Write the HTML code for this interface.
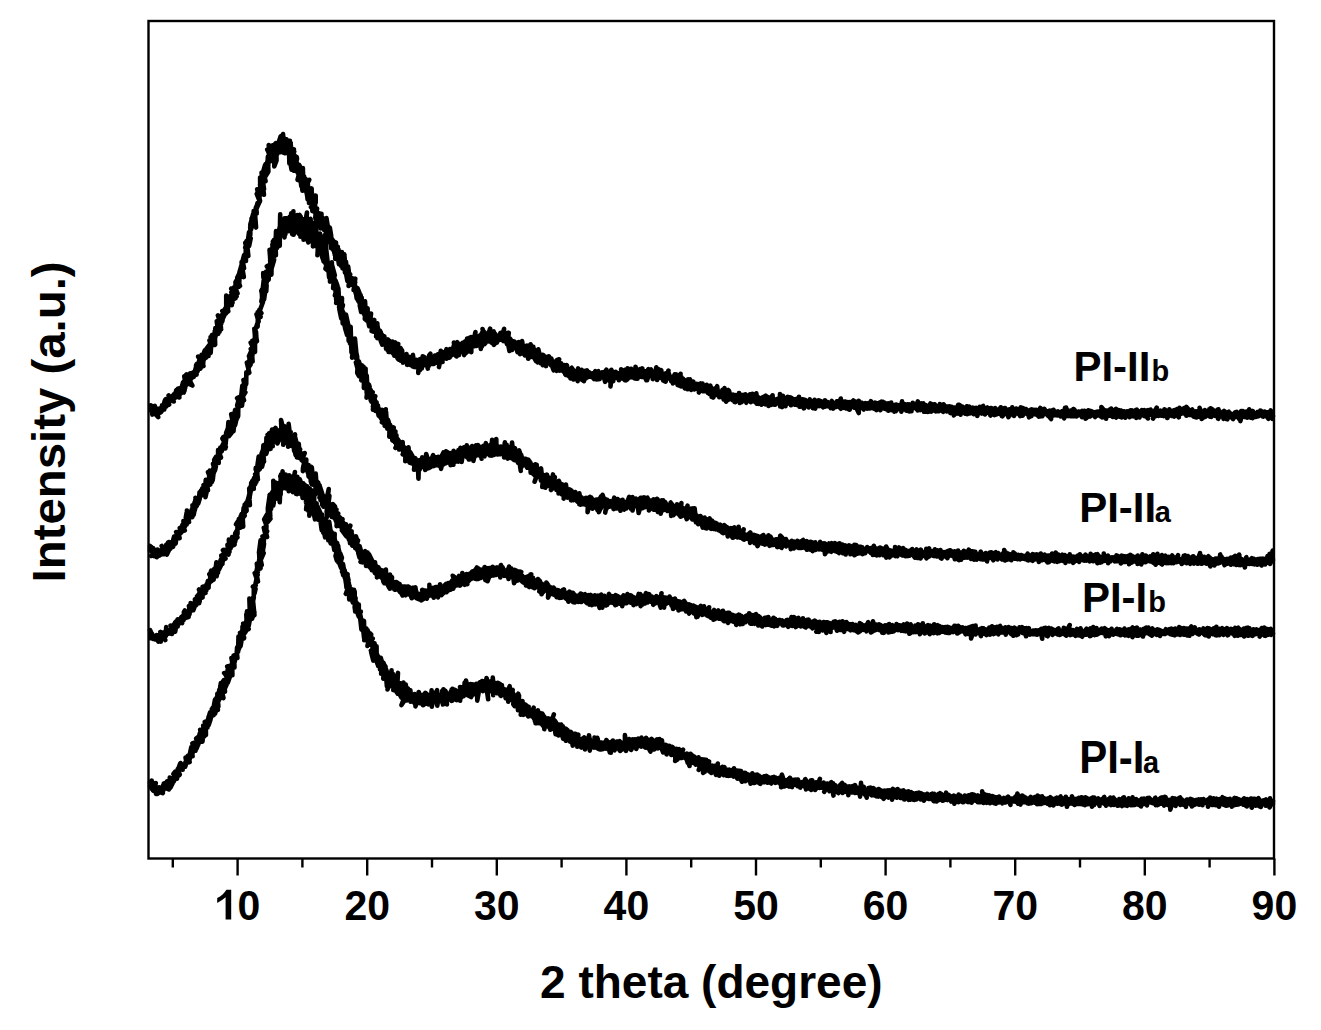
<!DOCTYPE html>
<html><head><meta charset="utf-8"><style>
html,body{margin:0;padding:0;background:#fff;}
body{width:1321px;height:1030px;overflow:hidden;position:relative;}
svg{position:absolute;left:0;top:0;}
text{font-family:"Liberation Sans",sans-serif;font-weight:bold;fill:#000;}
</style></head><body>
<svg width="1321" height="1030" viewBox="0 0 1321 1030">
<g fill="none" stroke="#000" stroke-width="4.6" stroke-linejoin="round" stroke-linecap="butt"><path d="M151.84 404.1 151.46 410.2 150.68 405.9 151.57 407.5 151.77 408.1 151.66 407.0 154.84 405.9 150.91 410.4 150.53 410.0 150.83 405.4 152.37 414.6 152.86 411.9 153.99 408.5 154.61 412.1 153.98 409.4 154.12 410.4 153.08 412.4 155.65 408.2 156.35 412.2 154.82 414.0 156.07 413.9 154.70 410.7 155.69 413.2 156.09 408.1 157.25 411.2 154.73 412.5 156.79 408.9 158.03 411.5 157.62 415.2 158.25 417.1 154.72 413.3 156.91 413.4 157.68 409.7 157.52 409.1 155.87 408.6 160.19 412.6 159.45 412.9 157.07 409.9 159.05 408.6 159.92 411.5 161.27 411.5 161.17 410.4 159.40 413.1 160.08 410.1 161.38 409.9 162.54 407.5 161.07 409.9 161.09 412.2 162.79 409.2 162.51 409.0 164.23 409.5 163.42 408.9 164.28 409.1 160.97 408.9 161.95 408.8 161.98 405.4 163.24 407.5 164.73 403.0 164.22 406.8 165.41 403.2 164.13 405.5 166.46 406.3 166.56 404.1 163.70 404.9 164.74 400.7 165.53 402.1 167.50 405.3 167.70 400.9 169.17 404.6 165.44 399.7 167.77 400.5 167.73 399.8 167.66 402.0 168.08 403.0 165.99 399.1 169.09 400.8 168.47 404.7 167.71 400.0 171.18 398.6 168.89 401.2 170.25 399.5 169.38 398.2 168.59 395.4 170.16 401.3 171.35 397.8 170.00 398.9 172.08 396.1 173.78 401.5 173.42 399.9 171.85 400.2 171.52 397.4 173.85 398.6 171.30 399.3 171.98 399.4 175.59 397.5 174.22 396.4 174.61 395.4 173.92 394.2 177.98 393.4 178.60 396.4 174.87 394.7 176.32 390.2 175.23 394.4 176.39 397.1 177.72 393.6 177.91 389.5 176.31 393.5 177.35 395.5 180.57 393.8 178.54 392.0 179.38 397.4 178.58 397.2 178.01 392.0 177.04 394.0 177.44 392.7 176.84 393.4 177.80 394.8 178.30 393.0 180.52 390.9 177.84 388.7 180.63 388.0 177.97 389.7 183.81 392.5 180.16 390.0 181.31 389.1 183.52 389.3 181.38 388.5 181.99 389.5 182.30 384.9 183.06 382.4 182.01 386.1 185.02 383.9 184.53 390.8 183.55 385.9 185.12 385.4 183.75 381.7 183.48 386.1 184.25 383.5 185.20 387.7 182.98 386.7 184.72 382.1 185.92 385.0 184.27 376.3 186.27 381.4 184.76 386.2 186.61 384.7 186.52 382.8 187.28 381.9 186.21 377.8 184.93 377.7 184.41 381.6 192.43 385.5 186.29 374.5 187.27 381.8 186.55 381.4 190.54 382.0 189.97 376.7 190.39 377.3 188.18 378.5 191.09 375.3 189.14 374.4 191.86 375.0 190.47 376.9 187.99 377.8 190.94 376.4 190.24 376.3 194.56 373.8 190.18 373.4 191.69 378.2 191.96 374.6 191.51 374.1 191.90 376.7 192.98 377.2 193.73 376.9 193.01 374.1 193.46 372.5 194.04 373.1 193.11 372.4 194.24 375.6 194.82 372.0 196.30 372.7 196.12 370.4 196.14 374.1 196.91 363.8 195.06 370.5 197.67 371.2 196.06 365.3 196.59 374.6 196.51 367.5 198.08 367.1 196.72 364.0 198.48 369.4 197.58 367.1 197.64 364.3 198.99 366.4 197.70 367.4 200.47 368.6 198.36 365.2 198.90 361.3 201.21 362.2 198.17 356.6 201.34 360.9 200.56 364.9 200.84 363.8 201.22 361.6 200.11 360.6 203.50 366.0 202.38 361.7 202.77 363.2 203.21 361.3 203.66 357.6 203.10 364.1 201.81 355.1 201.63 354.8 201.79 356.8 203.15 355.5 205.18 355.6 202.60 355.1 204.02 359.6 205.42 356.3 204.52 356.8 204.86 350.3 204.12 352.2 205.88 357.9 205.21 350.3 205.32 357.4 205.93 349.9 207.12 353.7 208.10 349.6 205.76 352.5 208.01 348.5 206.32 350.1 205.64 355.9 207.35 348.8 208.48 356.1 208.59 347.6 209.37 344.8 206.70 348.3 211.11 346.2 210.67 352.8 210.73 349.3 208.22 349.9 210.97 347.5 210.06 353.1 210.33 347.0 211.19 345.6 209.48 340.5 212.99 339.7 213.17 342.7 213.16 344.9 214.14 344.7 210.62 337.2 212.58 341.6 212.78 339.9 211.93 334.9 214.68 339.8 217.05 329.8 212.92 337.8 215.15 344.8 214.80 332.2 215.15 335.2 215.34 328.0 216.30 331.4 214.95 336.0 215.48 329.2 218.22 332.1 216.48 330.5 216.71 329.8 214.84 331.2 217.79 331.7 218.21 333.8 218.05 331.8 219.87 326.3 215.81 332.8 219.54 331.7 216.74 321.1 217.68 328.5 216.79 328.6 220.43 328.5 219.53 326.5 219.40 319.3 220.21 322.5 217.87 315.4 219.91 321.8 221.14 329.2 220.43 323.8 221.32 323.8 219.73 318.3 222.09 315.9 221.77 315.2 222.64 319.0 224.52 315.1 222.97 315.1 222.39 321.2 223.84 310.3 222.27 311.0 225.85 313.4 224.12 314.4 224.38 313.7 225.20 308.4 223.33 313.8 225.08 312.1 225.07 313.3 228.18 307.4 227.58 311.8 228.30 311.2 226.39 307.2 226.77 308.4 228.11 306.5 226.26 313.2 226.22 295.5 229.47 301.3 228.41 299.8 228.65 304.3 226.26 302.6 228.06 303.0 228.26 306.8 228.22 297.1 229.72 299.6 228.46 301.4 228.40 297.0 232.43 302.6 230.91 301.9 229.34 297.2 233.40 292.5 231.78 305.1 231.78 300.1 228.35 299.3 233.67 297.4 232.34 296.4 233.88 299.2 234.73 295.2 231.36 292.2 235.42 296.9 234.44 293.7 233.82 289.8 231.18 288.6 236.57 296.3 234.85 293.5 235.45 298.3 233.53 287.6 235.95 286.1 236.16 290.1 237.52 293.4 234.85 289.5 233.59 288.2 235.72 293.5 235.50 282.0 237.28 279.3 237.01 280.6 237.70 281.7 239.24 283.9 239.99 285.9 238.27 282.6 236.54 286.6 238.68 276.1 238.69 286.9 239.08 274.8 239.25 282.4 239.64 272.8 237.27 277.5 240.82 275.5 241.01 276.8 241.05 277.0 240.75 272.2 242.22 272.0 239.35 272.6 241.50 265.2 242.57 266.8 241.57 262.1 242.28 268.3 243.82 277.1 242.65 269.8 242.05 262.0 242.78 261.7 244.04 268.2 242.60 260.9 244.11 255.0 243.87 256.5 244.67 255.4 245.75 254.5 245.98 260.9 245.43 257.0 245.87 248.8 246.79 251.7 245.18 247.5 246.54 245.7 245.24 242.8 248.34 256.0 247.23 245.1 245.83 247.5 247.04 247.3 248.76 239.9 248.45 242.6 246.40 241.2 250.71 238.2 249.15 245.9 249.58 235.8 249.02 232.1 248.67 235.1 248.10 239.4 250.32 234.7 250.37 226.9 250.34 224.2 251.79 223.1 251.53 223.6 250.18 227.8 251.16 229.3 253.23 213.7 250.51 223.9 254.94 218.0 252.01 226.0 255.97 226.5 253.69 217.7 251.52 218.6 254.21 215.6 254.03 221.4 253.67 211.0 254.49 212.6 254.74 214.0 251.06 222.6 256.06 227.5 255.09 215.0 255.71 207.9 256.78 213.4 256.18 207.6 254.98 213.0 257.66 203.9 256.55 206.1 257.47 206.4 256.58 207.5 257.50 203.0 256.76 208.1 260.06 200.7 257.18 189.3 259.84 201.6 256.71 193.9 259.50 190.5 259.11 200.2 260.87 186.1 260.22 190.4 262.90 185.2 263.94 194.8 260.05 184.9 261.78 187.0 260.08 177.6 260.30 191.4 261.64 177.4 263.02 186.8 262.99 187.0 262.25 186.8 264.05 189.0 261.57 172.5 262.14 179.9 263.38 177.7 261.56 178.4 265.58 181.1 264.07 175.1 264.08 169.4 265.26 172.3 263.38 180.2 265.10 164.9 263.46 170.7 265.55 164.1 266.14 174.4 268.15 158.7 266.51 164.8 268.37 165.1 266.99 165.5 265.32 176.7 268.40 171.5 267.84 156.7 267.31 173.1 269.36 154.1 267.24 149.6 268.29 150.9 269.84 159.4 270.26 160.6 268.71 145.0 270.11 158.9 270.09 154.5 270.99 159.4 270.22 153.0 268.21 159.5 270.55 157.2 273.05 147.3 270.49 161.2 271.50 154.0 272.98 156.5 271.97 159.0 271.20 146.3 272.71 150.9 272.76 146.4 272.20 145.4 273.30 151.8 272.08 151.9 272.12 157.0 272.89 157.1 274.27 149.0 274.75 144.3 274.27 166.4 276.55 160.4 276.21 147.7 275.81 143.0 277.36 145.7 278.03 149.4 277.35 154.0 276.08 153.0 278.03 149.9 278.68 146.0 278.02 148.2 277.63 145.4 278.35 147.4 278.67 146.3 276.33 149.7 280.66 136.3 279.08 144.7 281.65 144.9 279.61 140.2 278.81 145.4 281.02 140.4 280.38 142.5 281.59 144.6 280.26 144.7 280.48 142.9 280.46 152.2 280.70 147.1 282.28 147.8 280.51 147.3 282.48 142.3 283.82 141.1 281.62 150.7 282.74 144.2 282.33 136.3 283.04 134.0 283.92 147.6 284.83 142.3 285.31 146.2 283.70 143.6 285.55 144.5 284.25 146.0 283.86 140.1 284.33 147.1 283.41 152.8 286.03 151.4 284.03 138.1 286.71 140.5 289.89 140.7 285.87 146.9 284.72 153.2 287.92 150.5 286.47 139.2 287.92 149.4 288.22 153.8 288.75 147.1 291.47 160.3 289.36 146.4 289.55 156.7 289.38 163.5 288.87 143.8 289.25 149.4 288.99 154.8 291.54 169.7 290.57 142.7 291.81 156.1 291.66 155.0 294.20 151.7 291.66 150.0 292.77 152.2 291.56 154.0 293.92 149.3 292.56 165.4 293.10 151.4 291.67 155.7 294.23 155.0 295.81 157.0 295.69 160.3 293.02 156.3 295.64 159.6 293.98 170.8 293.11 167.7 293.84 161.0 297.09 167.9 295.46 159.4 294.63 165.3 296.76 156.9 296.98 159.0 296.47 161.0 297.67 172.9 296.89 168.0 299.07 170.2 298.76 168.6 298.01 170.3 298.76 171.2 299.66 173.5 298.70 170.9 299.70 165.7 299.18 166.9 299.18 178.1 297.52 179.8 298.56 175.8 299.08 164.7 300.60 182.3 303.93 176.3 299.89 174.8 300.74 175.9 299.97 174.4 301.29 186.3 301.73 186.5 303.08 172.7 300.83 177.9 303.35 181.1 303.29 186.9 302.88 168.1 302.00 186.3 302.47 190.8 303.74 181.0 304.92 183.2 304.36 190.5 303.82 186.6 305.32 178.4 303.98 179.9 306.44 181.2 309.27 179.8 305.30 187.8 307.49 185.7 305.33 189.3 306.85 193.3 307.64 199.5 308.71 192.1 307.54 182.0 309.39 199.3 306.48 192.2 308.01 199.4 308.50 191.8 308.87 196.2 308.86 194.6 311.50 195.8 309.05 203.0 310.99 193.8 310.54 198.6 312.75 199.4 310.27 196.9 311.65 188.4 311.73 201.8 307.41 186.3 312.04 193.6 313.06 199.4 313.91 204.4 311.02 207.2 312.32 207.5 314.30 206.9 311.71 202.6 312.35 211.1 314.29 204.2 314.66 211.6 315.70 195.5 315.69 202.4 314.84 204.8 313.57 208.2 314.30 196.9 315.34 213.4 316.05 214.8 315.91 214.4 317.06 208.6 315.44 218.9 316.08 209.7 315.29 217.5 319.54 213.4 317.17 214.2 318.80 214.2 319.40 215.5 318.55 221.7 318.15 223.9 318.02 224.5 318.56 222.6 317.03 222.0 318.73 221.5 320.55 228.4 320.23 218.3 321.14 217.9 321.35 221.7 321.49 213.9 321.02 221.2 321.36 222.5 322.50 218.2 321.19 220.8 320.24 227.3 323.14 223.2 322.42 225.0 323.93 229.9 322.08 222.3 321.12 220.1 323.16 225.7 322.84 228.2 322.69 217.8 325.97 229.9 324.70 225.6 323.19 225.4 322.92 223.5 324.98 227.0 326.07 232.8 325.95 231.0 327.27 232.7 326.50 227.4 326.93 237.0 324.31 235.8 328.41 230.0 326.45 218.1 328.49 231.1 325.74 244.3 326.77 231.4 329.54 227.3 326.87 240.5 328.82 230.1 328.40 235.8 331.22 237.6 329.83 227.7 331.19 235.8 329.83 241.5 328.07 235.1 332.83 240.4 329.93 237.9 330.94 243.6 331.08 248.1 329.47 235.2 332.48 239.7 331.41 243.6 329.99 239.5 330.56 239.3 329.86 242.2 331.90 243.2 332.85 242.0 332.18 247.0 333.53 249.8 333.39 250.0 334.68 250.2 334.31 253.0 334.36 241.9 333.82 248.0 333.62 249.9 334.20 251.9 336.00 242.6 335.21 258.9 337.82 246.8 337.28 252.5 334.90 255.0 337.33 257.1 338.55 249.5 336.51 250.6 339.03 255.2 336.91 256.6 339.96 258.5 338.95 254.7 338.27 252.3 336.77 249.9 338.90 264.1 338.37 250.7 339.98 260.4 338.71 259.0 340.61 261.6 339.71 262.9 341.25 265.2 341.78 259.4 341.25 261.9 341.89 252.1 342.87 261.3 340.64 257.6 342.77 261.4 342.59 268.0 344.49 263.5 342.58 268.3 344.24 263.1 341.24 266.2 345.06 263.2 344.31 254.4 344.52 262.8 345.39 265.3 343.02 267.6 344.53 267.4 345.15 267.3 344.92 272.5 344.92 271.5 346.96 267.6 346.09 273.6 346.00 261.8 346.60 269.6 348.39 270.7 349.30 277.3 348.61 270.0 348.15 266.5 346.17 274.0 347.36 280.9 347.16 273.3 347.40 274.3 350.24 274.3 348.31 275.9 350.96 281.7 349.68 284.9 349.63 279.1 349.80 277.2 348.57 285.9 350.05 279.0 351.83 279.4 351.88 278.1 351.48 278.8 352.37 281.6 351.98 279.9 352.53 283.3 355.21 282.4 352.72 284.8 350.70 281.5 350.49 282.7 352.41 285.0 353.80 284.8 354.99 285.4 354.02 290.3 354.46 281.6 355.28 278.6 353.62 290.0 354.99 286.5 355.70 293.5 355.07 288.2 354.80 284.3 356.69 298.4 357.63 291.7 356.64 288.7 353.96 288.0 356.09 293.9 356.78 289.4 358.07 294.2 357.21 297.8 357.51 288.1 359.46 292.8 360.05 296.7 358.87 301.9 357.69 299.6 357.79 294.6 360.29 302.8 358.82 296.2 359.97 297.5 360.03 300.2 360.68 295.0 361.15 312.0 359.75 305.2 360.47 302.0 361.71 299.5 361.77 297.8 360.35 304.3 364.55 306.2 360.81 302.5 363.99 303.9 361.02 307.4 364.40 305.6 361.34 299.3 364.83 309.6 364.18 308.6 365.18 311.0 363.57 305.9 365.04 301.3 365.26 305.2 365.42 311.7 364.80 319.0 367.36 320.6 363.78 313.4 364.36 307.3 364.70 312.1 368.44 315.6 365.90 316.1 366.33 315.3 366.59 320.4 367.33 312.6 367.65 308.4 367.62 313.7 366.63 313.2 369.22 326.2 368.96 317.7 371.04 313.6 369.97 321.6 369.62 323.5 368.24 320.4 370.32 321.4 371.19 324.9 372.74 323.5 371.45 319.5 372.19 324.6 372.20 326.3 373.70 324.6 373.36 326.9 372.30 326.3 370.73 323.8 374.71 324.6 373.09 327.7 372.27 323.9 371.74 330.5 371.59 331.1 374.30 319.9 374.03 327.3 374.85 325.3 376.20 326.1 374.24 329.3 375.58 328.6 374.84 331.6 374.68 331.1 373.28 331.6 375.28 328.0 377.80 329.9 376.10 336.6 377.35 323.2 377.38 338.2 379.94 330.6 379.51 337.0 377.21 324.3 377.72 332.2 379.88 336.9 379.04 334.8 379.13 338.2 380.68 332.0 380.20 333.4 379.95 333.4 383.70 337.7 380.77 337.9 378.90 336.2 381.18 336.0 381.35 336.2 383.33 337.8 381.93 334.6 381.02 337.9 382.48 337.9 380.79 336.9 382.09 337.0 383.21 344.3 381.99 337.5 380.82 341.2 382.25 344.7 382.77 342.8 384.69 340.7 383.67 344.3 384.40 336.4 383.59 337.3 385.06 340.3 384.47 341.2 386.16 341.9 386.00 348.7 387.71 348.3 386.92 342.8 386.07 344.0 385.65 340.4 387.20 344.7 388.08 339.4 389.33 348.8 387.02 342.7 386.34 346.5 385.97 340.5 387.22 349.7 388.44 347.3 388.58 352.0 388.78 346.0 389.35 340.7 390.05 343.7 387.87 342.4 390.20 351.9 390.19 344.9 390.42 344.7 390.36 349.3 388.87 348.5 391.94 349.5 391.05 346.4 391.73 341.8 392.49 344.1 392.42 341.6 393.12 353.1 393.39 352.2 392.00 348.2 391.99 351.7 394.60 352.1 392.94 352.2 396.73 352.1 393.04 353.5 394.81 351.1 394.78 344.0 395.43 342.5 394.24 355.6 396.00 353.7 398.26 344.0 395.45 352.8 393.70 349.7 397.38 351.0 397.35 344.7 397.91 355.7 396.38 353.2 398.10 356.2 398.92 357.3 397.52 358.2 398.41 359.5 399.22 355.5 399.75 355.4 398.82 352.9 399.59 356.8 402.00 354.6 402.28 351.9 398.84 359.5 402.97 358.2 400.15 347.7 402.13 350.5 399.62 355.8 401.12 352.5 400.82 360.7 402.83 357.6 402.34 359.0 402.87 360.3 403.07 361.7 403.08 356.8 404.19 359.7 403.48 358.7 403.48 360.5 403.07 359.9 403.00 362.7 403.69 360.1 405.02 357.0 406.05 359.0 404.93 355.2 407.72 359.9 407.07 363.7 405.88 357.2 406.50 354.1 406.30 359.1 404.38 357.9 407.81 359.6 407.34 357.9 405.32 360.0 408.63 356.8 407.15 364.8 407.79 359.4 406.27 361.8 408.53 362.7 409.33 360.0 408.56 362.0 409.30 359.9 407.30 359.4 410.44 360.2 410.00 362.5 410.25 357.2 411.36 358.4 412.04 358.8 410.96 359.6 412.39 365.0 413.75 361.4 410.49 360.7 412.16 362.1 410.35 365.0 412.96 359.6 414.44 365.0 412.88 354.9 411.91 359.3 412.89 366.6 414.28 366.9 412.24 362.8 412.59 361.0 415.09 364.9 413.15 361.1 415.12 367.1 414.01 366.1 413.61 364.9 416.76 360.0 417.39 365.5 415.35 361.8 419.32 361.9 416.99 361.3 417.69 362.3 417.53 364.2 416.26 365.2 419.07 365.2 418.25 373.0 418.94 361.6 418.77 366.2 418.37 360.6 421.93 362.0 419.88 359.1 419.33 366.3 420.66 363.3 418.64 362.9 420.80 362.2 423.87 365.3 420.05 360.9 421.70 363.6 419.94 370.1 421.65 361.9 423.21 360.4 420.88 359.2 421.24 364.7 424.02 362.4 423.18 359.9 423.91 359.6 424.00 362.1 422.05 359.0 421.80 368.4 421.83 361.3 424.96 361.3 422.89 361.5 422.71 356.2 424.43 357.2 425.17 360.5 425.92 361.5 423.65 357.7 427.70 366.6 425.20 362.8 426.77 365.3 426.79 364.9 425.89 360.5 427.83 368.6 428.01 361.5 429.22 355.2 430.43 353.8 430.95 360.9 429.76 363.5 429.69 361.0 428.68 366.0 427.55 359.7 430.13 362.3 429.17 362.8 429.80 357.3 429.79 361.3 431.14 361.4 430.38 363.6 434.02 363.9 432.44 363.2 431.02 357.7 432.34 362.3 433.84 363.2 430.94 360.0 432.90 362.1 432.25 362.1 433.22 363.3 432.80 359.8 433.87 360.9 434.46 360.0 434.91 359.5 432.59 357.3 435.51 358.1 434.94 355.6 434.38 358.3 435.33 361.0 437.62 360.7 435.72 361.0 435.10 358.2 437.28 362.8 436.42 357.0 437.78 360.7 437.50 359.5 439.10 355.8 436.94 355.8 437.47 360.2 439.52 357.9 440.52 358.5 438.95 367.1 440.42 359.2 439.78 357.8 439.46 359.6 437.68 355.3 442.52 356.5 441.62 358.4 437.68 354.3 441.66 356.7 440.22 356.1 439.95 356.9 440.75 350.9 442.59 361.9 441.87 355.9 441.93 357.8 442.23 352.8 442.22 351.8 443.58 355.9 440.69 354.7 441.81 357.6 443.48 352.6 442.50 352.2 444.37 356.3 443.97 357.3 445.16 357.9 444.73 354.8 445.92 355.6 445.43 352.2 446.58 358.7 445.52 358.1 444.06 357.9 446.48 349.2 446.75 356.9 446.37 351.7 448.45 355.5 448.13 355.1 449.63 357.5 447.55 353.0 447.78 352.4 449.14 350.1 450.59 349.4 448.18 354.9 449.88 350.1 449.49 355.0 449.41 351.5 451.15 350.8 451.36 355.5 451.41 355.1 450.01 349.0 451.05 351.5 449.26 351.9 452.20 353.9 450.23 349.3 451.73 350.2 453.33 351.1 452.27 353.5 452.99 354.0 452.25 349.3 456.48 356.5 452.09 352.1 453.11 348.1 453.91 345.5 457.52 348.8 453.90 342.6 454.92 350.7 456.08 351.8 452.79 353.9 456.71 351.3 456.32 344.1 457.99 348.5 458.26 351.6 457.27 342.2 458.27 346.4 456.39 350.9 456.04 349.0 457.41 342.2 458.18 346.9 457.82 348.5 458.97 355.0 459.48 346.7 461.08 345.1 459.02 348.7 458.90 348.9 460.30 349.5 460.25 352.2 460.94 347.2 462.56 342.8 459.74 347.3 461.90 347.1 462.89 350.1 463.06 349.6 459.95 344.3 461.62 349.1 463.81 349.8 462.50 345.7 463.28 349.4 462.86 346.7 464.81 346.6 463.79 345.4 463.39 348.4 464.11 355.1 465.93 346.3 464.97 341.6 462.76 344.6 462.44 343.3 466.04 346.2 463.41 344.5 465.84 353.2 465.04 347.2 466.40 350.8 465.49 342.2 463.74 343.7 468.54 351.1 467.04 338.6 467.11 344.5 469.46 338.8 468.65 349.0 469.39 339.0 468.05 342.6 468.70 342.9 469.35 337.8 468.31 351.5 470.29 342.6 470.07 348.6 469.42 340.7 469.55 338.0 471.34 343.5 470.34 343.3 471.28 352.3 471.39 338.9 471.05 337.1 467.66 339.9 472.21 343.1 473.01 343.9 471.52 339.4 471.74 340.6 473.85 343.5 471.60 345.3 474.79 339.5 474.23 341.8 475.46 332.0 474.01 338.0 474.44 342.6 474.90 341.0 472.96 340.3 474.00 346.3 476.64 339.8 474.74 337.0 474.66 341.3 476.46 341.2 477.96 336.5 476.50 343.7 476.49 346.0 477.03 338.1 477.83 337.1 475.68 339.7 478.25 344.1 478.56 337.8 479.58 337.2 479.87 337.6 479.61 340.3 481.50 340.1 479.35 338.7 479.46 343.3 481.80 346.7 480.24 337.0 479.65 342.4 479.94 339.7 480.83 348.9 479.47 335.6 482.53 337.3 481.96 338.8 483.38 333.5 480.87 337.5 481.93 340.6 481.82 333.1 483.48 338.4 483.56 344.0 484.25 335.8 484.44 334.7 482.55 329.0 484.43 337.2 484.45 332.0 484.57 339.4 485.45 343.0 482.83 339.2 484.51 334.5 485.25 339.4 484.82 335.5 484.69 333.2 487.42 335.3 487.61 337.8 488.84 335.7 485.94 338.7 484.53 344.2 488.32 338.9 487.37 339.4 486.73 334.5 488.87 341.3 488.39 338.0 486.68 340.2 489.08 334.1 487.26 337.5 490.10 328.6 488.22 335.5 488.14 333.8 491.06 333.3 491.57 342.7 490.39 331.5 489.57 336.2 491.91 336.2 491.59 338.6 491.97 340.2 491.47 331.3 490.40 334.9 491.86 334.4 494.38 339.2 492.14 340.0 493.05 335.4 493.36 335.0 494.80 333.4 494.27 338.1 493.68 342.6 496.67 338.2 494.89 334.5 495.30 334.1 494.40 334.5 493.63 331.4 496.22 343.0 495.52 337.3 496.56 336.0 493.79 344.8 498.68 337.9 496.98 342.3 498.15 338.1 496.16 341.0 497.81 337.5 498.13 336.1 499.51 338.8 499.37 339.8 496.27 341.1 499.20 338.1 499.35 336.6 499.07 336.3 499.96 338.6 500.64 336.0 501.34 336.5 499.10 339.6 499.69 339.7 501.00 339.5 501.99 335.3 500.31 333.0 501.71 338.9 500.45 338.4 502.25 336.7 502.24 338.8 503.31 341.0 504.59 337.5 502.29 339.6 503.96 334.9 501.84 337.6 504.33 335.5 506.31 333.5 502.64 339.9 504.10 328.9 501.20 338.4 505.72 341.3 508.06 340.1 504.61 333.5 506.37 339.7 507.87 332.8 505.56 336.1 506.97 344.1 506.07 339.9 506.66 343.5 507.51 335.9 508.78 332.8 508.26 337.4 508.19 344.5 508.29 343.4 510.03 344.1 509.60 340.2 509.74 340.5 507.29 340.4 509.49 351.0 508.72 341.7 512.33 347.6 511.30 341.2 512.49 346.7 510.02 338.6 509.43 340.8 510.55 343.9 512.52 341.0 511.19 341.7 513.12 342.8 514.14 341.7 512.37 348.9 514.20 347.7 510.64 339.5 512.04 350.0 513.04 344.4 513.62 344.6 512.57 344.4 514.08 348.0 516.02 347.6 516.04 343.7 515.79 345.8 514.43 341.5 517.48 352.1 516.82 343.3 515.07 343.4 517.71 344.1 516.37 347.0 517.69 349.2 517.74 345.7 518.24 347.1 519.59 346.0 521.06 351.5 518.78 348.1 518.72 342.0 518.78 352.5 519.63 348.9 520.05 354.2 518.03 346.0 519.96 346.5 522.85 347.7 521.28 343.8 521.91 347.3 520.80 352.7 523.70 351.1 522.07 341.1 521.24 353.2 520.97 350.3 522.69 351.9 524.49 349.5 521.83 350.1 521.69 349.8 520.34 349.9 524.21 346.5 522.31 353.3 522.97 350.8 522.82 351.4 523.28 351.4 525.52 349.4 523.90 350.3 525.27 346.3 524.44 351.6 525.12 351.7 526.60 350.2 526.84 345.5 524.91 355.5 526.58 350.7 525.67 351.3 527.90 350.5 526.55 349.7 526.43 350.4 528.78 348.3 527.36 350.1 528.44 358.7 529.39 356.0 528.14 358.7 528.65 350.4 530.00 346.5 532.25 348.3 530.49 344.3 530.92 356.3 530.32 356.9 530.48 353.4 532.57 354.4 530.14 354.5 530.44 353.1 533.31 355.9 530.85 350.4 530.53 352.4 532.86 353.4 533.73 348.6 534.89 351.0 535.69 355.6 530.57 355.5 533.30 346.7 533.40 357.5 534.48 355.9 533.26 357.3 534.58 354.8 535.13 357.0 535.28 351.2 534.26 354.7 535.83 352.1 534.74 354.0 535.01 359.4 535.98 361.0 537.50 356.1 534.37 354.7 536.96 358.7 538.95 357.8 537.72 362.5 537.14 358.6 538.34 349.4 540.19 357.0 538.33 356.0 537.93 354.6 539.95 357.6 538.96 357.5 538.68 356.4 540.77 362.3 539.01 358.9 539.91 359.1 542.13 358.5 540.96 361.9 542.56 354.8 539.11 362.1 539.69 357.7 540.82 363.2 541.85 363.1 539.94 360.4 542.77 357.6 542.09 360.0 542.37 360.3 543.29 354.9 543.19 358.5 542.29 357.4 543.71 363.9 542.80 365.1 546.09 357.7 544.18 358.5 544.67 356.2 544.44 361.1 545.52 362.9 546.02 366.1 545.83 356.8 544.97 363.7 547.84 360.5 546.71 358.9 544.72 360.1 544.52 359.0 546.12 362.8 546.31 361.6 545.96 365.3 547.06 360.2 548.87 356.3 550.24 359.0 549.25 363.2 549.63 357.8 550.86 360.1 552.37 364.1 551.36 358.5 550.96 365.3 550.31 363.9 549.51 361.3 551.49 363.0 552.68 361.8 551.85 362.2 551.07 362.5 552.69 363.7 552.12 363.5 551.75 361.6 550.33 361.1 553.63 370.3 552.42 360.9 554.88 363.9 552.96 368.1 554.08 367.5 553.55 362.6 556.61 370.8 556.38 370.2 554.97 364.2 556.97 361.5 553.97 367.2 556.53 364.9 555.31 364.7 556.07 363.3 555.93 364.1 557.46 366.4 554.82 368.7 556.68 360.1 559.15 359.3 554.99 369.3 557.74 364.1 556.62 368.7 555.25 367.1 559.23 370.6 558.41 369.8 560.79 366.4 557.23 366.9 560.20 368.4 561.93 369.8 558.00 365.9 561.29 363.5 561.60 368.3 561.26 368.1 562.96 367.9 562.33 365.6 560.90 370.4 561.09 363.7 562.10 367.5 564.52 372.8 562.61 366.0 564.11 370.6 563.10 370.8 564.29 370.9 564.43 365.0 565.53 372.9 566.51 370.5 563.93 371.7 563.40 371.3 564.95 370.7 565.25 374.2 565.87 374.9 567.02 365.6 565.54 368.8 566.31 370.7 566.58 365.1 568.16 375.7 566.54 369.4 568.78 373.3 569.93 372.5 567.56 371.3 569.81 369.2 569.00 371.1 568.51 372.5 571.30 374.6 570.61 371.9 568.98 371.5 570.29 372.0 569.04 376.5 568.43 373.7 571.65 371.0 570.63 369.4 572.89 371.9 571.32 370.5 571.71 372.0 571.50 377.1 572.08 375.3 571.17 374.0 572.10 374.6 570.50 378.4 570.66 370.3 571.46 374.8 572.61 373.1 573.51 374.1 573.64 373.9 575.54 372.9 577.37 375.4 571.65 367.8 576.62 374.7 576.24 375.9 574.65 371.3 575.78 371.3 573.47 379.5 575.81 371.6 578.26 373.1 575.13 372.1 576.10 372.6 577.20 372.4 578.15 368.4 577.63 381.1 577.18 372.4 578.87 375.5 577.61 374.3 581.50 378.3 580.34 376.5 579.20 377.8 578.34 377.9 578.88 377.0 578.92 374.8 579.66 377.3 580.83 370.3 578.99 377.3 581.01 376.8 581.07 375.7 580.14 371.2 583.12 378.7 582.39 373.1 582.45 376.8 581.61 369.9 581.66 374.6 582.85 373.3 581.27 372.9 583.73 373.3 582.16 380.1 583.76 375.1 584.85 376.2 583.96 381.2 583.75 371.3 583.87 379.6 585.20 374.3 583.92 373.6 585.46 374.3 586.95 370.4 583.72 371.2 585.30 372.3 586.84 374.0 585.41 377.5 585.74 378.6 585.76 374.6 588.53 376.7 585.14 376.9 587.83 375.1 587.98 376.4 588.49 374.1 587.76 377.3 589.05 375.2 588.58 375.9 588.41 376.6 592.82 376.3 591.17 373.9 588.88 372.2 589.59 375.8 591.22 374.4 592.68 374.5 590.96 375.7 592.30 374.1 591.94 377.3 593.36 377.2 591.54 373.6 591.52 377.1 593.03 373.5 593.28 378.1 593.26 377.9 594.93 376.1 594.54 378.7 594.09 379.0 592.80 377.4 595.29 371.1 595.75 376.6 594.19 376.8 595.11 378.5 594.13 373.5 595.86 378.2 595.70 377.2 594.08 377.4 596.47 372.8 596.32 373.8 596.56 379.4 598.47 378.5 598.06 376.0 598.78 379.2 597.59 377.0 599.86 375.1 597.56 371.8 599.62 379.0 597.19 375.8 599.50 376.9 598.26 371.2 597.98 374.7 600.79 377.0 600.46 375.5 601.09 374.2 600.78 373.1 601.31 376.8 601.20 375.2 601.30 375.3 601.88 375.4 604.76 374.4 601.03 375.3 600.69 374.5 601.64 376.3 602.20 372.4 603.90 373.2 604.84 376.3 605.15 375.7 603.76 376.6 605.15 381.8 606.77 378.3 605.56 379.3 606.62 377.3 604.14 375.9 606.63 374.0 606.78 371.0 604.59 372.3 606.36 369.7 607.31 373.1 605.74 371.8 608.15 373.5 608.48 376.1 607.93 375.1 607.68 378.6 607.83 378.7 608.76 379.0 609.91 378.6 607.17 376.9 609.28 374.8 609.60 377.4 608.50 375.5 608.24 375.6 609.77 377.3 608.25 373.2 610.80 371.7 610.44 377.1 609.69 381.1 611.28 379.3 610.49 386.5 610.89 372.3 613.43 374.3 611.32 369.8 609.41 373.7 613.11 381.3 611.74 380.6 612.16 373.3 615.36 375.2 613.65 373.8 614.98 372.3 612.56 375.4 613.23 375.1 613.72 376.3 615.85 376.7 614.41 377.9 613.14 379.8 616.63 375.7 615.33 375.3 616.32 375.9 617.39 377.1 619.34 375.5 616.92 373.1 619.13 374.4 615.80 377.9 617.92 373.0 618.33 378.0 615.53 371.9 617.27 377.4 617.83 377.4 619.56 375.1 618.62 375.6 618.95 375.0 618.89 380.3 620.52 374.4 620.14 373.6 620.37 376.6 620.43 378.6 621.80 376.5 620.37 375.1 621.45 378.4 621.75 373.4 622.45 373.3 623.46 372.0 622.91 378.8 621.14 369.3 624.22 371.8 624.74 376.0 625.06 376.5 624.83 380.1 622.16 376.4 624.15 373.8 625.51 379.0 625.80 378.1 624.96 378.3 625.48 378.0 624.26 376.5 626.31 371.0 623.58 372.0 626.07 380.4 627.74 375.0 625.40 369.7 628.62 375.0 629.70 377.4 628.22 375.8 627.22 374.7 627.52 368.2 626.90 374.8 629.48 374.2 627.52 379.2 629.33 374.5 628.04 374.3 630.26 373.2 628.20 374.0 629.96 375.1 629.49 372.9 631.83 371.8 630.37 370.8 630.91 374.5 632.71 373.2 630.26 373.3 630.36 369.9 632.02 371.8 631.11 368.8 634.60 376.7 633.00 377.3 633.39 375.2 632.93 373.7 629.79 375.3 635.35 369.8 633.93 370.3 631.88 377.3 633.26 371.1 634.78 373.8 636.55 372.1 635.72 367.1 636.00 372.1 636.20 376.3 634.98 377.6 635.51 366.9 636.58 369.6 635.19 372.3 637.10 376.7 638.11 377.4 634.71 378.4 637.53 378.7 637.72 372.8 638.41 371.2 640.66 376.5 637.13 373.2 641.38 374.0 640.12 373.0 642.53 372.9 639.35 376.5 640.49 371.1 640.15 369.1 641.16 372.0 639.72 374.2 640.10 373.1 641.09 373.6 642.32 368.4 640.22 371.5 641.64 377.0 641.53 373.5 642.89 372.0 643.78 377.1 641.24 372.3 642.07 376.0 643.11 374.5 642.55 375.0 645.74 376.8 646.31 380.2 645.43 377.5 645.39 371.5 643.69 370.8 644.10 373.0 646.03 373.4 647.56 375.8 645.59 374.0 646.61 374.4 648.45 369.1 648.85 373.7 645.80 375.4 647.59 378.7 648.41 376.1 645.76 374.1 647.43 370.6 648.48 373.9 647.86 373.9 649.38 373.5 648.53 374.3 647.16 375.3 647.97 375.2 647.14 380.2 648.36 371.2 650.91 369.5 650.80 375.1 651.31 370.5 652.52 373.4 649.82 373.8 650.85 371.7 651.85 376.3 653.97 375.9 652.54 374.5 652.28 375.8 653.06 376.6 651.85 373.3 650.81 375.8 654.02 374.6 653.17 374.2 654.48 372.9 652.75 379.1 653.35 375.2 655.60 370.3 655.18 375.7 656.33 367.2 654.62 375.1 655.77 376.6 656.77 378.4 657.27 375.0 656.38 372.5 657.04 380.0 656.83 377.5 657.01 378.2 657.37 373.9 658.23 376.4 656.32 369.7 658.13 376.0 657.19 368.8 658.69 371.9 658.60 370.7 659.37 378.0 659.09 377.4 659.46 373.3 658.21 378.4 661.81 375.2 658.73 369.4 658.34 373.9 661.28 370.2 661.82 375.3 661.25 376.2 661.21 373.1 660.48 377.5 664.33 378.2 660.29 372.8 665.41 377.0 660.94 375.2 661.86 374.7 663.05 380.3 663.06 373.7 664.43 374.7 663.07 375.6 663.93 377.4 662.68 378.0 666.28 373.3 664.74 379.8 664.44 381.2 665.63 381.7 666.96 376.7 666.56 374.9 665.52 373.4 666.82 377.4 667.30 376.3 667.65 376.4 667.03 374.9 668.48 370.6 666.58 376.0 668.32 376.4 667.44 375.9 668.75 373.1 668.23 376.3 670.00 376.7 668.96 374.1 671.12 379.1 668.82 377.3 671.43 377.8 669.43 378.6 667.72 376.9 669.75 377.5 672.25 379.2 671.69 379.9 672.28 380.4 671.48 377.5 672.61 380.2 671.25 381.3 674.79 374.4 674.88 377.2 673.76 378.3 672.77 378.4 672.94 383.4 674.73 381.8 674.67 378.3 673.41 378.4 675.63 375.0 676.05 376.2 675.93 382.7 676.00 374.4 676.06 380.9 676.03 377.3 675.92 378.5 675.81 379.1 678.27 384.5 675.18 380.5 677.43 381.0 678.58 382.5 680.56 373.8 677.64 385.0 679.96 375.5 680.10 378.1 679.96 382.1 681.30 376.9 677.35 375.6 680.78 383.6 679.74 379.7 680.64 383.2 680.20 382.0 679.61 380.3 678.63 385.5 681.62 380.3 681.08 386.5 680.02 378.8 681.71 378.6 680.77 379.5 681.30 382.1 682.81 378.5 683.77 379.7 680.75 385.6 683.22 382.3 684.29 385.0 682.29 383.0 683.68 380.5 684.69 380.1 685.67 382.7 683.42 382.5 683.08 381.0 684.53 381.0 684.92 386.4 685.73 385.4 686.07 383.6 683.93 381.9 687.38 381.8 684.76 388.3 687.42 381.5 687.86 389.3 688.01 381.5 688.12 379.4 688.43 388.8 687.31 383.2 687.50 387.6 691.31 384.8 690.91 383.1 690.88 386.3 690.50 383.2 687.84 385.2 692.27 383.7 690.00 379.5 690.47 385.3 691.68 383.0 690.20 384.1 692.84 385.6 688.58 380.9 693.23 386.1 692.62 386.3 691.22 389.9 693.52 387.1 694.15 385.9 693.96 383.4 694.38 385.1 693.19 381.6 695.02 386.4 695.27 384.9 695.80 384.6 695.29 385.6 692.72 386.9 695.63 386.4 693.64 382.8 694.53 389.4 695.56 386.1 696.16 387.0 695.84 386.2 696.83 383.8 697.30 387.0 697.15 385.4 697.26 384.3 697.84 386.9 698.50 388.6 696.79 388.3 696.34 387.3 699.67 385.3 698.79 386.2 696.07 386.7 700.47 383.5 700.75 389.3 697.40 387.6 698.43 384.1 699.48 391.3 698.88 392.5 699.84 384.4 700.78 387.3 702.30 385.7 698.35 389.9 701.72 384.5 703.19 389.3 699.15 389.2 702.75 391.1 702.54 383.5 702.18 386.5 704.05 388.0 704.99 391.0 704.98 388.9 706.38 390.7 703.27 390.0 701.89 386.7 704.00 388.7 705.10 388.1 706.58 388.4 706.06 387.0 704.93 391.2 707.58 390.2 706.71 384.7 706.70 391.4 706.42 388.3 707.42 386.0 707.87 392.9 707.46 389.9 704.76 390.9 706.86 389.7 708.71 390.0 710.35 385.7 710.12 392.2 710.29 388.5 711.31 390.5 710.28 390.3 711.33 388.2 711.21 387.5 710.52 390.4 709.39 394.0 708.73 389.3 711.52 389.5 709.73 391.3 711.36 389.7 712.63 394.4 711.12 392.4 713.36 397.5 712.58 391.9 711.66 397.0 713.72 390.1 714.14 392.2 712.91 389.0 714.38 390.8 712.63 391.0 714.41 393.4 714.89 395.3 713.51 391.4 715.15 388.5 717.05 392.2 714.75 391.8 714.39 391.1 714.28 394.5 715.33 395.2 715.18 390.8 714.75 390.8 717.16 386.2 717.69 391.1 716.35 394.8 717.87 390.6 719.20 395.1 718.74 394.6 718.79 394.5 719.65 394.6 718.26 393.0 720.41 395.7 721.86 395.9 719.02 394.2 717.77 393.3 719.43 396.7 719.35 397.2 721.10 392.1 722.57 395.7 722.03 393.9 723.70 399.5 722.40 393.1 722.20 392.4 719.98 391.8 723.08 396.3 722.08 391.6 722.45 395.8 723.03 393.0 725.58 397.6 724.92 398.2 724.14 397.2 722.61 389.8 724.09 391.0 724.53 388.1 726.18 401.1 726.03 393.3 726.25 393.8 724.70 395.0 727.27 396.4 729.65 394.2 724.89 395.3 725.58 395.2 727.17 392.1 728.53 399.7 727.90 399.6 727.96 395.6 729.89 395.2 727.01 400.2 726.06 401.6 726.95 395.9 730.04 397.3 730.47 394.9 729.08 396.8 728.03 389.9 728.97 390.7 730.74 397.3 731.70 395.8 730.00 397.3 729.99 396.6 730.12 397.9 730.74 397.2 732.56 396.2 732.21 397.7 732.67 395.2 732.60 400.2 732.96 394.6 731.38 396.0 731.92 399.2 733.89 396.2 734.21 399.4 735.30 400.7 734.13 399.1 733.41 396.2 734.48 401.9 734.69 398.5 735.89 395.2 735.28 402.3 736.38 398.0 736.67 399.1 736.92 399.8 737.24 396.4 735.57 399.8 738.43 394.8 739.33 395.5 738.59 396.9 739.80 403.0 738.64 399.3 737.72 400.7 739.30 396.9 738.86 399.3 739.00 393.0 741.37 397.5 738.59 399.2 741.30 396.8 739.49 393.5 738.32 394.3 741.58 399.8 741.08 401.5 741.47 397.4 741.78 402.1 743.05 395.3 742.43 399.8 741.94 399.1 742.40 400.9 743.32 394.9 742.36 400.8 743.76 398.8 741.07 396.5 743.64 397.5 744.02 398.0 745.14 399.2 743.23 396.6 744.54 396.6 745.58 398.8 748.70 398.6 745.76 399.8 746.53 400.8 745.39 394.3 748.88 398.5 746.27 399.3 746.50 398.8 747.21 396.2 745.71 400.4 746.31 402.8 747.34 398.4 747.03 396.9 749.42 400.6 747.89 398.9 751.41 399.1 749.30 399.4 748.35 397.8 749.66 398.9 750.55 397.2 749.97 394.3 750.73 401.4 750.18 399.6 749.76 398.8 750.82 402.1 753.26 398.6 750.94 401.6 751.59 401.0 750.09 398.3 751.37 396.1 752.79 400.2 752.23 399.6 754.26 401.5 754.29 395.4 752.84 398.8 753.50 399.7 754.66 399.9 754.55 399.4 754.01 399.9 752.43 393.7 756.50 398.4 755.15 397.6 755.56 395.5 754.77 399.5 757.63 398.3 755.98 396.5 756.57 395.9 754.22 400.0 756.31 393.3 757.03 399.0 757.81 396.6 758.41 399.6 757.60 403.8 759.30 401.7 758.18 399.2 758.38 402.9 758.82 403.8 757.08 401.7 756.68 403.8 761.73 399.9 757.74 400.9 759.32 399.3 760.98 398.6 759.74 399.5 762.11 397.7 758.70 399.3 761.44 404.7 762.26 401.2 764.37 399.1 763.77 403.6 761.41 403.0 763.55 397.1 763.10 398.0 761.58 403.7 762.66 399.9 764.76 400.1 763.41 398.5 762.87 397.1 763.51 402.5 763.00 397.9 762.88 401.1 765.43 404.2 765.78 401.1 766.72 399.3 763.90 401.3 764.65 401.2 766.72 398.8 766.64 400.5 766.51 397.1 765.55 395.8 766.84 398.7 765.78 395.9 769.52 398.5 768.78 399.7 767.03 400.5 769.91 404.4 767.48 397.9 769.63 399.0 769.38 399.0 768.97 397.7 771.28 404.9 767.98 398.3 769.79 399.6 770.04 399.8 768.56 405.9 769.14 399.5 771.32 398.4 771.73 403.2 770.49 398.7 772.58 395.3 772.72 403.0 773.34 402.5 772.39 397.0 772.82 397.5 773.90 400.3 772.77 398.1 772.69 396.8 772.51 397.6 774.79 404.7 775.94 403.0 772.52 398.0 774.63 400.1 776.08 400.8 777.24 399.7 776.07 400.5 775.05 404.7 777.11 399.1 779.26 398.8 777.25 400.5 777.90 399.0 779.36 399.6 775.85 399.6 778.80 398.3 779.85 403.6 779.54 399.2 778.85 403.9 778.47 398.8 778.50 398.6 777.87 401.4 779.06 400.2 778.51 402.8 780.03 402.5 780.14 406.4 779.96 394.0 780.41 398.5 781.20 400.9 779.94 400.5 782.36 400.9 782.09 407.1 782.81 395.7 782.00 402.7 782.40 400.5 783.05 401.1 783.27 403.7 782.94 401.0 783.26 403.0 783.28 404.3 783.71 404.0 783.53 396.8 783.72 399.7 783.74 398.2 786.73 399.4 784.61 400.9 785.52 406.2 784.75 399.8 786.31 400.7 787.80 401.0 785.80 404.9 787.07 400.1 787.06 402.5 788.39 403.4 787.55 402.8 787.78 396.7 787.88 398.4 786.15 403.1 789.80 397.3 790.80 401.0 788.20 398.0 790.40 402.5 789.67 401.4 791.59 397.9 789.57 401.0 790.94 399.1 792.21 400.3 791.58 404.5 791.44 402.3 791.41 402.4 791.02 405.2 792.13 401.9 791.12 404.8 794.38 402.6 793.38 402.3 792.82 400.9 791.52 399.8 794.71 399.3 795.29 399.6 794.53 403.0 795.28 402.8 795.53 399.9 794.74 404.7 794.73 400.4 795.42 401.0 796.96 398.7 795.14 400.0 794.25 404.0 796.42 403.0 796.66 400.5 796.68 404.9 797.23 401.9 795.95 402.2 796.56 404.5 797.33 403.2 797.94 401.3 798.84 399.7 799.34 405.1 798.99 396.7 798.85 400.7 798.15 398.1 798.97 400.8 797.97 404.2 799.18 401.5 800.71 401.3 801.12 402.2 799.58 406.8 802.30 405.5 798.56 402.9 802.06 400.9 801.71 401.5 801.77 403.2 802.66 401.9 801.99 402.1 805.24 400.0 802.43 399.3 802.82 399.9 803.79 403.0 801.48 400.4 803.79 408.4 802.60 403.9 805.97 404.1 804.12 404.9 804.78 400.2 803.17 400.0 807.47 402.2 803.72 404.1 804.26 404.0 805.32 406.6 803.84 406.0 805.14 405.3 806.42 405.5 808.34 403.5 808.64 404.9 806.31 402.4 807.23 402.1 808.88 405.2 809.71 399.3 807.66 406.3 808.57 407.4 809.10 402.1 809.52 404.9 809.33 403.6 811.90 401.1 809.86 404.2 811.72 404.6 811.24 405.7 814.90 402.6 812.82 403.7 809.20 402.0 812.38 405.7 809.56 403.2 813.69 405.4 812.05 402.0 810.23 403.8 811.75 401.5 812.73 401.9 815.02 406.1 813.74 403.2 814.42 403.4 813.35 405.3 813.80 401.8 812.89 408.1 814.38 401.9 814.76 402.8 815.23 408.6 814.60 399.8 815.53 407.7 815.51 404.6 816.55 404.9 815.77 401.4 816.05 404.2 815.96 400.9 816.43 406.1 817.14 403.2 816.53 402.3 819.38 402.7 819.38 403.5 818.87 406.1 819.58 404.7 817.54 402.1 818.47 401.9 818.91 401.6 819.97 405.7 820.87 405.0 821.19 401.4 818.78 400.3 820.64 403.8 822.24 402.6 820.91 405.1 821.99 403.7 819.77 404.8 822.00 405.8 821.90 406.3 820.16 403.5 823.62 405.6 824.53 402.7 824.15 401.3 823.06 404.6 823.55 406.8 823.21 407.3 824.92 403.9 825.01 400.2 826.37 404.8 824.97 403.6 826.29 405.5 825.21 406.5 824.90 403.2 825.96 402.6 825.23 403.3 825.48 402.6 827.58 402.0 827.78 404.7 826.31 402.6 826.42 403.6 827.48 403.5 827.09 402.9 829.02 405.6 828.07 403.2 827.18 404.1 827.96 406.1 829.67 404.0 831.81 401.0 830.28 403.2 828.36 403.3 829.13 405.7 830.62 408.0 830.48 404.8 831.10 404.1 833.49 407.6 830.23 402.8 830.55 405.1 831.87 405.5 832.22 404.3 832.67 404.0 833.63 404.8 832.91 407.8 834.40 405.7 833.65 403.2 834.13 405.1 831.96 406.6 833.19 408.5 833.99 406.3 835.44 405.0 834.20 407.6 834.08 406.5 834.58 404.9 837.67 403.1 834.23 404.8 836.46 406.7 836.50 402.2 838.35 401.1 837.75 405.8 836.83 401.3 838.44 401.8 839.21 404.2 837.56 404.1 836.30 404.8 837.09 405.0 838.78 405.9 837.80 404.5 839.38 402.9 840.78 398.5 839.96 407.5 842.49 406.5 840.08 406.1 839.07 404.7 840.95 402.8 842.12 405.8 839.64 404.6 842.01 401.8 843.64 407.0 842.24 401.7 844.34 403.8 840.76 408.7 843.39 403.0 841.06 405.2 841.23 407.2 841.79 404.8 844.94 401.7 844.33 403.8 845.84 404.7 843.49 401.6 842.78 408.0 845.98 405.6 844.42 406.4 843.72 405.5 846.61 405.7 847.17 404.1 845.33 401.7 846.65 406.4 847.36 405.0 845.89 408.4 846.28 402.4 847.80 405.3 849.63 409.7 846.85 402.0 849.18 402.4 849.17 405.5 848.97 408.7 848.77 402.4 848.28 405.1 850.28 404.6 849.62 403.8 847.10 404.5 850.64 407.7 849.58 405.3 850.60 402.1 853.38 403.7 851.66 405.3 849.07 402.0 851.25 403.5 850.67 404.2 853.43 400.5 848.61 409.2 853.42 401.5 853.06 405.2 852.84 404.7 854.00 403.8 855.88 407.8 851.82 405.3 853.66 403.3 854.49 407.7 854.80 406.4 854.73 402.9 855.84 401.8 855.70 407.1 855.28 404.9 853.83 402.0 857.10 406.4 858.29 402.1 858.21 403.7 857.57 403.4 858.74 400.9 855.83 406.8 858.79 413.0 858.51 406.7 858.28 406.2 859.97 404.7 858.66 405.2 858.66 405.9 858.16 406.7 857.44 404.2 859.32 405.4 862.19 404.9 862.57 406.6 859.89 407.5 861.06 407.8 862.94 404.5 860.14 404.4 861.08 407.0 860.19 404.9 864.03 405.0 861.60 406.5 862.17 406.4 862.82 408.5 862.08 402.9 866.41 408.1 865.00 404.6 866.39 407.1 861.67 402.8 865.30 405.4 864.43 404.3 863.55 409.6 865.24 403.6 867.33 408.2 867.05 403.9 865.29 403.2 870.32 406.4 867.80 408.1 865.70 405.6 865.92 407.1 866.42 406.3 867.34 405.6 867.07 408.8 867.17 405.8 869.36 407.7 867.68 403.3 868.88 405.4 868.22 407.9 868.93 404.8 870.92 401.2 869.77 407.5 870.94 407.2 870.17 405.3 871.86 406.2 870.72 405.2 872.39 406.8 869.71 408.4 872.86 406.6 872.31 405.8 870.89 404.9 871.44 405.6 870.09 404.9 872.41 408.1 873.20 403.7 872.58 404.7 874.73 406.8 871.10 406.8 873.68 406.6 872.68 405.1 873.81 406.5 875.71 402.9 874.90 402.7 876.96 403.3 874.98 406.9 874.87 409.1 875.57 405.2 874.36 404.9 875.34 405.5 876.55 410.1 878.00 406.6 875.90 406.4 876.26 405.0 875.67 407.3 876.13 409.1 877.98 406.7 878.35 404.5 878.93 409.1 878.46 406.2 880.30 410.2 877.16 404.0 879.48 406.0 880.54 406.9 879.62 402.5 880.80 406.5 880.25 407.7 880.32 406.0 881.22 407.3 880.50 406.7 881.49 404.5 882.51 407.9 880.71 404.7 883.11 405.7 883.95 404.7 884.78 407.7 882.66 405.3 884.67 405.3 881.33 401.7 882.15 405.8 884.13 408.5 882.95 401.8 883.41 407.2 883.56 406.3 884.64 402.6 884.48 405.5 884.37 408.5 885.71 406.4 885.38 407.2 886.26 408.8 886.88 405.7 887.42 408.3 886.75 403.7 886.75 404.6 887.00 409.6 886.46 409.4 888.55 408.5 888.19 403.2 889.75 406.0 889.11 404.6 888.41 410.7 890.27 403.6 889.15 403.8 889.66 405.3 890.55 407.3 890.53 405.3 889.59 405.9 891.57 407.2 891.46 406.7 891.22 402.6 891.26 403.9 892.03 410.2 890.22 406.8 893.79 410.6 889.56 409.8 891.54 409.1 891.83 406.8 893.69 410.0 893.52 405.8 894.14 411.6 892.53 408.0 895.63 408.1 895.53 406.0 892.25 405.6 895.19 406.3 892.92 405.7 894.80 405.0 896.35 404.6 895.97 407.3 894.65 409.5 895.70 411.2 897.96 408.6 897.14 406.7 898.04 408.3 895.44 410.7 898.30 407.3 898.17 409.2 897.07 407.9 900.09 407.3 898.65 405.9 899.97 408.6 898.60 405.3 899.92 404.9 900.33 407.9 899.82 409.2 900.33 409.1 900.82 409.0 900.60 406.5 899.50 406.9 901.61 409.6 901.33 411.6 902.01 401.4 901.02 409.8 903.99 407.7 903.53 407.1 904.34 405.6 905.17 405.9 904.39 404.6 903.14 407.8 902.26 405.1 905.32 406.8 904.56 404.0 905.47 409.8 906.29 408.7 904.80 404.7 904.17 408.2 905.97 406.4 905.23 405.4 905.02 407.4 906.69 409.1 906.20 410.5 907.33 407.9 905.73 409.8 907.11 408.8 907.20 408.8 907.71 409.4 907.29 404.4 909.01 406.5 906.82 410.6 909.26 404.5 910.26 405.6 909.23 411.4 909.58 405.2 908.85 407.7 910.29 408.0 910.75 406.8 910.70 409.4 911.17 409.3 911.62 405.9 911.50 411.2 909.38 405.7 910.45 406.5 911.87 407.1 914.73 407.9 913.73 405.1 912.72 408.0 912.77 402.7 912.74 406.4 914.17 405.5 913.39 405.9 914.06 407.2 913.23 407.9 914.00 405.8 913.61 407.5 914.09 404.2 914.84 406.6 916.85 409.4 916.15 406.0 917.20 406.8 915.71 407.4 916.81 409.2 916.05 408.2 916.78 407.1 917.06 405.3 915.63 408.0 917.79 401.4 916.62 408.4 918.80 405.9 917.76 408.9 916.95 407.4 917.63 410.4 918.22 406.2 921.12 403.4 918.29 407.6 919.54 406.5 920.42 407.4 920.27 410.1 920.65 405.7 921.76 409.1 920.42 409.5 923.45 409.9 923.27 403.4 922.20 408.0 923.77 406.2 922.61 407.2 922.24 406.0 921.61 407.0 922.46 409.7 924.13 411.4 924.10 409.2 925.79 405.2 926.00 410.4 925.49 405.2 924.87 407.0 927.00 410.2 925.18 406.6 922.75 409.4 925.42 407.3 926.50 405.5 926.87 408.4 927.13 406.8 927.61 411.6 924.03 411.8 929.83 411.3 928.11 405.8 927.82 412.0 925.77 408.7 929.16 409.1 927.29 408.5 926.44 406.9 929.64 408.3 929.83 409.9 929.30 411.4 928.66 409.3 930.44 408.2 930.27 407.1 930.84 407.5 931.17 411.6 929.22 409.6 931.69 408.7 929.99 404.7 932.21 404.5 931.49 409.7 931.59 409.6 934.29 410.6 932.92 408.7 933.14 406.9 934.06 404.7 935.92 406.4 930.40 403.5 934.52 409.0 934.25 409.4 935.75 411.3 934.73 404.5 934.89 405.4 935.89 409.7 935.42 409.1 934.70 404.2 936.00 406.9 938.37 408.7 937.16 407.6 934.06 409.3 936.82 408.6 936.09 407.3 938.56 409.3 936.40 408.4 937.87 411.0 938.81 405.5 939.43 408.1 938.01 407.1 939.29 408.1 941.84 409.5 938.70 410.0 939.77 404.1 938.97 411.1 940.01 409.8 941.06 409.8 940.80 408.8 941.76 410.7 939.75 409.6 941.66 404.9 941.37 407.3 938.65 408.2 943.53 408.0 942.63 407.8 942.05 410.1 944.25 406.5 943.88 407.2 940.75 406.7 944.30 408.8 946.83 409.8 944.62 407.0 945.49 409.7 942.79 407.8 943.18 411.9 943.57 404.2 946.77 408.9 946.85 411.4 943.06 408.2 947.31 406.6 944.03 407.2 945.08 410.2 946.88 407.9 946.42 411.3 947.43 409.2 947.99 407.9 949.38 408.2 947.67 410.1 947.70 411.3 947.89 407.4 951.86 406.7 950.64 406.7 950.94 410.2 950.44 413.1 950.32 408.1 951.98 410.7 950.44 408.4 948.97 411.2 949.12 406.2 954.27 410.6 950.28 406.6 950.96 407.5 951.83 410.1 953.53 408.9 951.18 409.2 952.50 410.5 953.47 409.8 951.72 412.6 953.59 411.0 955.07 407.7 954.30 409.3 954.37 408.3 955.10 408.6 954.67 413.3 954.47 407.9 954.61 412.2 956.50 412.7 953.77 415.3 954.55 409.6 957.19 410.1 957.92 410.2 956.85 408.9 955.96 413.4 955.29 413.8 958.19 404.8 957.93 409.0 958.37 412.2 958.70 407.5 957.19 408.2 957.77 409.8 958.80 409.7 958.95 409.4 957.47 409.5 958.16 413.6 959.67 404.9 961.82 408.7 963.27 407.4 960.95 410.3 960.51 408.9 961.50 410.8 961.48 409.9 960.61 414.7 957.99 407.1 962.36 408.9 961.65 411.7 962.57 409.1 961.71 410.2 962.74 406.7 963.58 411.4 962.04 409.7 963.05 411.1 964.91 408.0 965.35 408.8 962.53 408.1 965.89 413.5 966.76 406.3 965.96 410.9 966.25 410.5 966.12 412.7 966.68 410.6 965.89 407.9 968.27 411.1 966.94 406.4 965.48 412.3 968.10 409.8 968.80 408.5 968.45 409.0 967.02 411.3 969.21 406.6 965.24 413.7 970.99 408.6 969.88 413.4 967.29 410.5 967.21 414.2 972.81 407.6 970.48 412.0 969.58 410.1 971.10 408.9 970.68 412.0 970.96 409.7 971.82 408.7 972.04 409.8 970.67 408.6 972.56 409.8 972.70 410.2 971.51 412.6 974.10 410.1 973.84 408.6 972.22 411.9 975.86 409.5 974.62 408.3 975.87 407.8 973.57 414.1 974.15 410.1 975.13 413.8 974.54 408.3 975.22 408.1 974.00 414.0 978.43 409.8 976.85 410.0 978.05 409.9 978.82 408.2 976.92 412.6 979.62 407.9 974.66 412.0 977.26 408.2 977.31 416.0 978.16 412.0 977.07 412.8 979.76 406.9 981.33 411.2 979.48 409.2 980.17 408.7 977.09 408.7 979.05 412.3 980.68 410.6 979.63 409.5 981.06 409.3 980.47 409.2 981.63 409.4 979.78 410.0 982.33 408.2 983.68 408.7 983.05 405.9 985.02 410.5 982.61 411.8 984.04 409.6 981.66 413.6 984.64 409.0 984.35 410.7 983.69 413.1 985.61 411.2 983.11 409.0 984.44 411.5 985.37 409.9 984.04 413.1 984.32 412.4 986.94 410.3 985.57 411.9 985.00 414.4 985.92 413.2 986.04 412.6 986.07 410.4 987.65 409.6 986.22 409.2 985.96 413.0 988.04 408.6 988.14 411.7 989.94 414.2 987.15 407.5 988.29 411.6 990.44 408.8 989.89 410.6 989.03 412.0 988.98 408.8 991.02 408.2 990.40 410.1 989.70 411.4 990.41 410.1 990.71 409.0 992.56 412.4 988.64 408.6 991.24 408.0 993.63 411.2 990.41 415.5 992.33 410.0 993.92 410.8 991.59 408.9 992.76 409.8 992.62 408.7 994.10 411.6 993.37 409.6 993.14 409.4 994.75 413.0 995.15 408.0 996.50 413.0 994.93 410.7 995.45 409.2 995.21 411.1 997.54 410.6 997.83 411.8 995.69 410.7 994.36 415.1 999.45 413.4 995.18 413.5 995.57 408.7 997.24 410.5 1000.40 413.7 999.72 412.5 998.34 411.3 999.72 411.1 998.94 413.4 1000.72 407.3 999.12 409.5 1001.79 408.4 1000.83 413.7 999.71 408.4 998.59 410.8 1002.26 414.2 1001.76 410.7 1000.23 411.9 1000.55 411.4 1001.29 412.8 1001.71 416.0 1002.16 408.9 1002.60 411.3 1002.87 414.9 1002.44 416.4 1005.81 411.0 1003.29 414.3 1003.09 412.9 1004.77 412.8 1003.33 408.5 1005.14 408.1 1005.04 411.8 1006.35 411.2 1004.23 411.3 1003.37 409.0 1007.27 414.5 1005.91 411.1 1008.44 417.2 1007.50 411.1 1006.34 412.3 1007.54 413.1 1005.99 410.9 1006.47 409.5 1007.90 410.4 1008.29 411.6 1006.40 410.6 1009.57 415.8 1009.52 410.5 1010.39 413.3 1007.68 413.3 1010.35 412.1 1009.18 409.4 1009.60 412.7 1011.66 413.7 1010.74 412.1 1011.60 411.8 1012.23 407.2 1012.77 409.5 1010.59 411.3 1010.82 412.1 1012.61 413.3 1013.10 411.1 1011.85 412.1 1013.44 409.6 1012.20 413.1 1013.15 413.3 1013.60 411.6 1014.25 413.8 1015.04 411.2 1014.13 410.8 1014.97 411.2 1014.07 416.0 1016.18 408.5 1016.24 412.3 1015.21 411.1 1018.35 412.1 1016.29 408.8 1016.33 413.4 1016.42 413.3 1017.62 411.4 1017.61 411.0 1016.95 412.1 1018.50 413.9 1019.42 408.8 1020.17 414.9 1019.38 411.3 1018.64 413.7 1018.39 410.3 1020.17 416.1 1021.26 412.6 1022.64 415.7 1019.94 410.8 1019.30 410.7 1019.67 414.4 1021.46 413.5 1022.07 412.8 1020.70 414.7 1020.41 413.0 1019.78 411.4 1023.10 408.2 1020.69 407.4 1023.37 413.5 1022.73 413.3 1020.88 410.3 1022.07 413.3 1024.80 411.8 1023.89 412.3 1023.86 414.2 1025.80 409.0 1024.57 413.0 1024.98 413.3 1025.25 411.9 1025.46 412.6 1026.88 409.9 1025.24 412.6 1027.39 413.6 1028.15 413.9 1026.01 410.9 1027.42 414.0 1025.76 412.9 1027.45 413.7 1029.04 412.2 1028.96 413.6 1027.64 412.7 1029.03 417.4 1029.19 411.7 1029.00 414.7 1029.29 412.3 1031.64 409.3 1026.55 413.3 1029.16 414.9 1031.14 413.9 1030.22 414.0 1031.00 410.7 1031.20 413.0 1030.83 409.5 1031.37 416.1 1030.72 415.6 1031.84 410.3 1032.98 411.6 1033.52 409.9 1033.21 410.9 1032.55 411.5 1032.64 410.0 1031.36 411.5 1033.37 413.8 1032.72 411.9 1033.27 414.0 1033.93 412.1 1034.66 412.7 1034.99 409.9 1035.09 414.4 1034.02 410.2 1035.04 411.8 1036.61 409.9 1035.94 413.6 1036.79 410.4 1036.63 413.7 1038.56 416.5 1039.00 413.2 1040.32 407.9 1037.17 414.6 1038.78 412.9 1036.61 413.8 1039.19 413.4 1039.15 415.0 1038.42 414.7 1040.80 412.5 1039.56 410.1 1037.83 412.5 1041.60 414.2 1040.24 408.8 1041.32 413.0 1039.88 409.0 1040.00 415.0 1039.73 416.5 1040.14 414.5 1042.47 411.8 1042.52 414.3 1040.23 415.5 1042.37 416.2 1042.65 415.7 1041.97 415.0 1043.44 410.7 1042.43 412.6 1044.70 413.7 1043.49 412.9 1044.25 408.8 1040.28 412.4 1043.97 411.3 1044.77 413.2 1044.25 413.5 1044.96 409.8 1044.37 411.2 1046.70 413.1 1044.75 410.7 1045.82 412.7 1048.08 411.1 1048.01 411.4 1046.88 414.6 1045.69 412.5 1045.19 411.7 1048.13 416.0 1048.15 412.2 1047.81 412.8 1048.06 412.9 1051.09 419.1 1049.93 414.2 1049.18 414.6 1049.17 412.1 1049.27 414.6 1050.31 415.2 1049.87 410.5 1050.55 413.8 1050.17 416.3 1051.80 416.6 1051.47 413.4 1050.12 417.7 1055.05 411.5 1052.28 415.1 1051.66 414.1 1051.03 410.8 1052.80 415.0 1052.25 410.4 1055.18 411.6 1054.07 412.8 1053.02 410.5 1051.91 415.4 1055.15 412.1 1052.52 410.5 1055.28 413.6 1055.12 413.0 1052.01 410.8 1055.16 411.9 1057.63 414.9 1054.92 414.7 1053.58 409.8 1054.46 415.1 1056.60 415.1 1057.29 415.4 1058.17 412.1 1057.76 411.5 1056.59 412.9 1057.43 411.8 1057.92 412.6 1058.26 411.9 1057.22 412.6 1059.69 412.1 1060.47 413.2 1059.29 413.5 1059.87 412.6 1058.47 412.0 1060.44 416.5 1059.51 415.1 1059.66 414.2 1061.89 411.4 1061.36 414.5 1060.90 412.9 1059.77 414.4 1061.98 413.7 1064.14 418.4 1062.84 413.3 1063.00 411.1 1064.41 415.4 1065.72 415.6 1064.18 416.0 1064.97 407.9 1064.26 411.3 1064.85 411.6 1065.06 409.9 1066.09 413.5 1064.49 414.6 1065.67 415.4 1065.92 415.1 1065.70 413.3 1065.35 416.4 1067.27 413.7 1066.12 407.5 1064.99 412.6 1067.92 411.7 1065.63 413.9 1068.49 412.3 1064.85 412.5 1068.09 416.0 1070.46 411.7 1068.34 410.4 1070.22 413.7 1068.62 414.5 1068.44 413.0 1069.26 413.2 1070.97 412.0 1071.61 410.5 1072.03 411.6 1071.65 411.0 1070.81 415.7 1068.72 412.7 1070.45 416.1 1073.37 412.9 1069.93 411.3 1072.65 413.6 1072.84 413.6 1070.58 416.0 1073.22 409.1 1072.59 412.4 1073.54 414.1 1073.43 411.7 1073.55 413.5 1072.95 412.7 1071.92 416.2 1076.65 415.9 1073.76 409.1 1074.73 410.1 1074.84 411.7 1075.19 413.2 1074.90 413.0 1076.70 412.3 1076.28 414.6 1075.96 415.1 1076.08 413.6 1077.65 412.8 1076.20 413.5 1078.18 411.7 1079.38 415.1 1079.33 415.1 1078.98 411.5 1076.59 416.4 1079.70 413.3 1079.41 415.1 1080.98 413.4 1078.94 413.1 1079.31 414.9 1081.85 411.5 1079.41 413.0 1081.99 411.0 1081.28 414.5 1078.18 413.0 1080.83 412.8 1081.05 412.4 1080.26 414.8 1079.84 414.1 1082.43 413.1 1081.37 412.6 1082.03 417.2 1081.95 416.6 1083.04 411.3 1084.18 416.0 1084.79 414.6 1084.70 414.2 1083.90 414.5 1084.38 410.8 1085.52 418.6 1086.57 417.8 1085.22 413.7 1084.04 413.6 1086.18 413.9 1086.83 412.3 1085.77 414.7 1088.00 413.6 1086.26 411.4 1087.08 412.6 1087.77 412.3 1089.50 412.4 1086.41 412.9 1088.72 414.9 1089.26 412.8 1088.43 410.3 1090.06 416.6 1088.29 412.4 1087.92 416.6 1088.08 414.1 1088.99 414.8 1088.77 411.9 1090.92 413.9 1090.58 412.9 1089.08 413.6 1092.97 414.6 1091.61 412.9 1089.58 415.4 1089.59 410.8 1092.14 411.5 1093.95 414.6 1092.19 414.8 1093.98 415.9 1095.03 417.0 1094.19 414.7 1093.18 415.3 1092.24 414.3 1093.27 414.1 1095.92 413.6 1094.60 414.0 1093.62 412.7 1094.57 413.5 1095.07 415.4 1096.93 414.8 1095.12 416.1 1098.33 412.9 1096.60 413.1 1097.01 414.7 1095.47 412.1 1097.57 412.0 1097.64 415.1 1098.45 413.2 1096.97 415.6 1098.33 414.0 1096.46 413.0 1097.35 411.7 1101.63 416.3 1098.50 413.7 1098.37 412.0 1100.63 410.8 1099.59 411.3 1103.23 413.0 1100.39 416.3 1101.41 412.0 1100.48 414.4 1102.44 414.2 1101.35 407.1 1104.87 411.2 1100.93 415.4 1102.60 409.6 1103.18 416.0 1101.16 413.8 1102.15 410.4 1102.09 417.5 1101.24 413.5 1103.91 417.0 1100.28 414.2 1102.44 412.2 1102.87 416.0 1104.85 417.4 1104.58 416.3 1106.28 411.4 1106.72 415.0 1105.71 411.4 1104.58 412.6 1106.88 416.5 1105.36 410.9 1106.11 418.8 1106.80 410.6 1108.82 411.1 1110.51 415.3 1109.03 413.4 1107.21 413.5 1109.18 411.9 1109.85 415.3 1107.51 414.2 1108.99 413.6 1108.24 412.1 1108.56 410.7 1109.68 413.7 1109.99 409.3 1109.13 412.4 1110.34 415.0 1109.06 415.2 1110.61 412.9 1111.24 408.5 1110.74 414.9 1109.70 415.6 1110.88 413.9 1112.53 416.4 1113.48 415.9 1113.71 410.4 1114.04 413.3 1115.16 412.8 1112.78 417.0 1114.94 416.0 1112.83 414.0 1116.16 414.9 1115.48 415.6 1113.33 412.4 1115.64 413.4 1116.26 413.6 1114.32 412.9 1115.96 413.1 1116.86 414.3 1118.29 411.1 1115.63 411.4 1118.42 415.4 1115.59 416.9 1116.05 417.6 1118.93 410.2 1118.46 414.5 1116.89 412.1 1119.91 412.7 1118.92 413.3 1118.79 414.6 1118.47 414.9 1115.94 408.8 1119.32 412.5 1120.70 416.0 1119.75 414.0 1120.93 410.5 1120.18 411.7 1122.22 412.1 1117.30 415.8 1121.64 417.3 1120.18 411.5 1121.80 414.8 1122.59 413.1 1123.45 414.9 1123.28 413.2 1124.00 411.4 1121.58 412.4 1123.21 412.4 1120.66 416.7 1123.95 412.2 1121.79 414.8 1125.33 412.0 1124.52 412.3 1124.19 414.2 1124.00 412.5 1125.25 417.7 1124.55 416.4 1123.80 411.4 1126.25 414.7 1124.98 416.8 1126.84 411.2 1125.35 412.8 1125.29 416.7 1129.71 412.0 1127.98 415.0 1128.97 413.5 1127.44 414.0 1127.96 411.6 1128.24 413.5 1130.88 412.8 1129.57 417.2 1129.12 415.0 1129.20 413.9 1129.58 413.6 1131.03 415.1 1130.06 410.4 1130.34 411.6 1132.16 411.8 1131.96 412.0 1132.00 410.3 1133.66 414.7 1131.42 412.7 1130.43 416.2 1130.08 413.4 1132.21 412.9 1132.83 414.5 1133.96 414.5 1131.31 413.0 1131.66 414.8 1133.26 416.2 1133.43 412.7 1132.32 416.2 1134.05 413.2 1135.35 415.4 1134.46 413.5 1137.82 412.8 1136.12 414.2 1134.51 411.3 1135.47 410.3 1134.25 413.5 1138.84 413.1 1136.14 411.3 1136.35 417.9 1137.85 414.4 1136.82 412.1 1136.65 414.6 1137.62 414.7 1139.19 412.8 1139.44 413.1 1136.79 409.8 1136.72 414.0 1139.49 417.4 1138.81 415.9 1138.88 415.7 1140.97 412.4 1140.49 411.4 1139.58 415.3 1141.19 414.1 1139.80 413.1 1140.32 412.9 1143.47 415.4 1141.16 414.8 1142.37 412.6 1141.64 413.3 1141.82 410.1 1141.11 411.1 1141.33 414.7 1144.50 412.6 1145.90 411.8 1144.30 414.1 1144.43 416.1 1143.32 411.8 1144.16 412.8 1146.33 413.0 1147.91 418.5 1145.85 415.6 1145.74 414.0 1146.85 410.6 1145.93 415.0 1145.09 414.6 1145.19 413.1 1146.18 411.9 1146.27 412.6 1144.13 410.1 1145.07 412.7 1148.49 412.5 1148.93 411.6 1149.00 412.8 1147.98 410.2 1147.69 415.7 1148.70 413.1 1149.40 411.0 1148.67 415.0 1150.84 414.6 1148.92 412.4 1147.15 410.7 1151.09 413.3 1151.61 414.3 1150.54 414.7 1152.28 415.3 1152.71 415.1 1148.39 410.4 1152.27 413.6 1150.55 409.6 1153.11 415.3 1152.83 414.2 1153.79 415.3 1152.70 413.4 1152.54 413.3 1153.86 412.2 1156.74 407.7 1154.56 412.9 1153.01 418.6 1154.49 415.9 1154.47 412.9 1156.59 414.0 1155.44 414.2 1155.15 412.2 1156.00 413.3 1155.17 414.0 1156.87 412.3 1155.21 414.3 1156.23 415.8 1157.29 415.0 1155.62 413.9 1155.91 413.0 1156.84 414.8 1159.83 412.2 1159.33 412.0 1158.63 415.9 1160.03 412.6 1160.11 410.6 1158.57 415.0 1158.21 414.8 1161.28 415.6 1159.26 413.1 1161.10 415.6 1158.66 413.0 1160.71 411.3 1159.55 412.9 1162.13 413.8 1162.50 411.1 1162.30 412.9 1163.03 413.8 1161.65 412.4 1163.06 413.5 1163.55 413.2 1162.00 411.7 1164.06 414.0 1163.91 414.4 1164.39 409.2 1163.77 411.9 1164.25 414.9 1165.15 414.2 1164.96 409.5 1165.76 413.8 1163.68 416.1 1166.73 415.0 1164.84 414.8 1167.34 413.1 1164.55 413.4 1165.80 411.0 1167.12 413.3 1167.55 417.9 1166.75 413.2 1166.45 411.4 1168.56 414.3 1169.32 409.2 1167.21 417.9 1167.08 414.5 1168.07 412.7 1168.90 412.5 1167.15 411.4 1168.30 413.5 1170.60 413.3 1169.08 410.1 1169.30 415.2 1172.40 412.5 1172.12 411.0 1173.08 415.1 1171.30 414.7 1171.38 412.0 1171.30 411.9 1170.27 415.4 1169.73 412.3 1172.45 413.6 1171.86 415.9 1173.83 410.7 1174.49 410.1 1171.70 411.4 1172.13 411.9 1174.33 413.1 1176.03 415.0 1176.48 412.2 1173.99 416.5 1175.16 413.5 1177.08 409.0 1174.66 412.9 1174.62 414.4 1177.73 415.2 1175.47 411.5 1175.13 412.7 1178.78 417.3 1176.57 413.0 1176.85 410.8 1178.32 409.4 1179.69 411.5 1179.08 413.0 1178.67 409.9 1179.14 414.8 1179.40 410.3 1179.48 407.8 1177.27 412.9 1180.00 411.5 1178.23 410.8 1179.23 413.8 1180.54 409.7 1180.49 412.3 1181.33 409.6 1181.10 414.0 1181.97 410.5 1183.86 410.4 1180.54 411.5 1183.46 410.0 1184.63 411.1 1182.11 409.6 1182.44 411.3 1183.00 410.1 1183.94 408.9 1182.77 411.3 1183.43 411.1 1184.08 408.0 1184.46 409.6 1186.36 406.9 1184.28 410.7 1186.14 412.3 1186.35 415.8 1185.87 411.4 1186.06 413.2 1185.15 414.2 1185.52 412.8 1187.09 407.6 1187.19 410.7 1186.83 412.5 1188.80 412.5 1187.82 412.3 1187.98 410.4 1187.96 408.5 1189.70 413.2 1189.32 415.0 1189.28 411.7 1187.61 413.9 1191.45 411.8 1187.96 412.7 1190.38 411.8 1188.71 414.7 1188.50 411.2 1186.75 413.4 1191.01 414.9 1191.43 413.1 1190.86 410.7 1190.97 413.9 1190.13 412.8 1191.96 410.6 1191.92 412.8 1190.70 412.6 1192.17 414.5 1192.59 412.3 1191.88 413.5 1194.82 414.5 1192.15 409.5 1196.34 415.3 1195.62 413.4 1193.92 411.3 1196.71 413.6 1196.35 415.4 1196.75 412.0 1195.72 412.3 1194.56 416.1 1193.43 416.6 1196.59 417.4 1196.36 413.5 1196.03 411.6 1199.50 411.6 1197.85 412.8 1195.69 411.5 1197.59 414.4 1198.63 416.1 1196.75 411.4 1198.77 416.5 1198.34 411.8 1197.22 412.2 1199.76 410.8 1200.33 415.0 1196.62 413.4 1200.55 413.7 1199.56 407.8 1200.10 412.4 1198.75 414.2 1199.81 408.2 1203.39 417.6 1202.37 414.3 1201.56 415.9 1202.12 413.1 1201.27 415.5 1202.37 416.3 1201.73 418.9 1203.32 411.7 1201.90 417.9 1203.75 411.6 1204.70 414.1 1203.62 413.0 1204.50 413.5 1204.85 410.0 1204.12 413.3 1203.31 411.5 1206.56 413.5 1205.62 414.4 1205.41 414.0 1207.53 413.7 1205.28 416.7 1205.91 414.6 1205.92 415.1 1205.78 416.6 1207.10 413.8 1206.76 414.2 1209.46 415.3 1207.23 413.5 1209.77 416.5 1207.44 412.7 1208.38 413.6 1209.08 413.7 1208.22 413.4 1210.34 414.0 1209.07 413.1 1209.23 409.3 1211.11 416.3 1209.63 413.2 1211.53 415.5 1212.32 411.9 1212.23 415.2 1213.23 411.4 1211.29 416.9 1213.53 413.8 1211.65 413.1 1210.56 408.3 1212.57 409.5 1215.37 413.0 1212.08 412.7 1215.66 412.7 1212.07 413.0 1215.11 415.9 1214.87 413.2 1213.99 413.2 1212.06 412.5 1215.83 411.9 1216.04 414.7 1216.12 413.1 1216.94 413.2 1215.05 414.6 1218.67 414.1 1217.61 415.6 1215.85 415.5 1219.64 411.5 1217.30 412.5 1218.08 416.0 1218.79 413.3 1216.99 415.3 1217.21 412.3 1218.33 409.2 1217.40 409.7 1218.78 412.7 1220.93 413.2 1218.16 418.8 1219.87 415.6 1219.34 415.5 1221.27 416.0 1219.11 410.9 1219.43 414.3 1220.80 414.0 1223.66 418.1 1220.34 412.8 1219.67 411.3 1220.78 414.3 1223.06 413.8 1223.57 414.4 1222.64 414.7 1223.26 414.6 1221.53 413.0 1223.93 413.4 1223.51 418.9 1223.19 413.0 1225.39 415.3 1225.70 412.3 1224.12 410.9 1225.21 416.1 1222.87 414.7 1224.17 417.0 1227.25 416.5 1224.58 414.9 1225.06 412.9 1227.77 418.3 1223.91 414.6 1226.09 418.8 1228.06 416.0 1226.88 416.4 1226.62 415.8 1226.66 415.5 1228.41 414.2 1227.28 419.3 1229.03 412.9 1228.73 411.7 1229.18 415.3 1230.76 413.4 1229.11 416.7 1228.79 414.4 1230.17 417.1 1230.75 414.9 1230.46 413.2 1228.90 414.1 1231.99 416.1 1229.34 413.5 1229.31 413.1 1233.07 414.4 1234.00 415.4 1232.11 417.2 1231.71 415.6 1234.61 416.5 1231.62 414.4 1233.43 418.4 1233.02 419.1 1234.68 413.5 1234.59 415.3 1233.54 414.5 1236.05 415.4 1235.86 414.2 1235.24 413.4 1235.13 412.2 1235.65 413.8 1234.48 414.8 1235.96 416.9 1236.19 415.9 1237.40 414.0 1236.75 413.5 1236.75 411.8 1237.79 416.2 1238.90 415.0 1238.68 416.0 1238.10 416.3 1237.97 415.9 1240.38 414.6 1239.02 414.2 1237.81 412.8 1239.76 413.5 1237.63 415.7 1239.37 419.3 1241.03 414.0 1240.31 415.3 1240.36 421.1 1241.88 415.0 1242.65 414.1 1240.35 414.8 1240.40 414.3 1241.15 411.0 1240.90 416.4 1243.07 411.2 1243.63 413.6 1242.88 413.9 1241.98 415.6 1241.61 414.3 1243.55 413.8 1243.05 413.0 1244.77 415.1 1242.97 414.0 1244.07 413.2 1244.51 412.0 1246.46 412.9 1246.42 414.9 1246.31 411.5 1246.24 414.9 1247.05 414.8 1244.34 416.9 1247.82 413.2 1246.70 412.6 1249.02 414.4 1248.58 413.8 1249.20 409.4 1247.20 416.9 1251.74 415.0 1249.22 414.8 1249.13 412.9 1248.35 415.3 1249.72 414.0 1247.02 417.7 1251.40 415.9 1250.64 417.4 1250.24 412.1 1252.19 412.8 1251.44 413.7 1251.61 413.3 1250.71 417.8 1251.97 415.3 1250.42 412.4 1250.73 414.1 1252.50 418.2 1251.84 414.0 1251.21 415.8 1252.85 411.2 1251.12 413.5 1255.43 414.3 1252.74 414.1 1253.00 414.6 1256.16 415.3 1252.78 416.9 1252.15 411.1 1255.04 414.7 1254.97 416.0 1256.76 415.1 1255.72 416.9 1254.11 414.4 1256.42 413.8 1256.23 413.0 1258.28 416.4 1257.40 412.1 1256.18 413.8 1256.72 414.6 1257.81 415.9 1257.54 414.1 1258.54 412.8 1258.86 415.8 1257.40 412.4 1259.32 413.2 1260.28 410.6 1258.12 415.0 1258.07 414.9 1260.96 411.1 1260.96 414.1 1261.67 415.7 1262.91 413.3 1260.92 411.3 1260.06 414.4 1261.83 415.8 1261.02 410.9 1262.52 416.3 1263.20 414.4 1262.69 416.4 1263.50 412.5 1263.09 416.4 1263.64 415.2 1262.20 416.1 1265.84 414.7 1263.26 416.5 1263.82 414.3 1263.71 413.7 1264.51 412.5 1264.54 411.5 1262.93 414.7 1267.42 413.9 1266.26 414.4 1265.72 414.0 1266.27 415.3 1267.78 414.7 1267.81 413.4 1267.41 416.1 1268.38 418.8 1264.47 412.9 1268.82 413.8 1267.77 415.7 1267.37 413.2 1267.29 416.7 1268.87 413.3 1266.94 412.3 1269.66 412.8 1268.58 416.8 1270.63 410.7 1267.89 414.9 1270.72 410.4 1269.96 416.2 1269.33 415.5 1272.47 416.0 1272.55 419.0 1270.36 414.6 1271.37 417.1 1273.00 416.0 1272.34 416.9 1271.71 413.4 1271.57 417.1 1272.03 414.3"/><path d="M150.13 550.0 151.76 551.1 150.00 548.4 150.50 547.2 152.24 548.0 150.00 546.0 151.42 551.3 150.00 550.4 154.41 553.1 151.22 555.9 152.66 554.1 153.23 550.4 150.89 550.8 152.60 548.8 151.56 547.3 154.47 556.2 155.80 552.8 151.52 549.0 154.47 554.0 153.05 548.0 155.49 552.2 155.97 553.1 156.65 551.5 156.55 551.9 154.06 554.8 154.69 552.1 156.43 555.8 157.59 549.5 156.05 552.5 156.78 557.2 158.08 551.3 157.94 551.4 159.34 553.6 156.95 552.6 159.15 554.2 158.93 555.8 159.17 554.9 159.10 554.1 158.90 552.7 161.43 554.0 159.30 555.5 160.79 551.5 160.68 552.4 160.00 550.8 161.40 553.1 161.70 553.4 163.47 551.7 160.89 550.4 162.80 551.0 162.99 553.9 163.72 551.1 162.01 554.0 163.43 550.6 161.83 550.1 163.97 553.3 165.19 549.6 165.90 553.7 161.68 546.0 164.10 550.7 165.30 549.3 162.93 549.4 168.35 550.6 165.98 545.3 163.78 554.3 169.87 548.3 166.91 554.6 164.26 550.6 165.77 549.0 166.22 544.7 167.24 551.9 169.62 549.2 167.05 550.2 167.48 543.5 168.39 542.8 169.30 545.7 169.22 547.6 167.51 548.0 170.42 548.7 168.57 543.5 168.88 542.1 173.08 546.8 168.23 542.4 170.56 544.4 169.59 549.2 171.97 543.0 171.85 544.6 170.50 544.1 171.31 543.2 171.49 543.8 172.99 543.8 170.53 542.4 173.28 545.7 173.45 544.0 173.37 538.9 173.09 544.6 174.71 541.0 174.83 540.0 174.65 538.1 174.72 541.6 175.71 539.2 175.94 537.0 174.04 536.5 174.14 541.1 175.38 537.1 175.24 536.5 175.67 543.6 176.38 537.7 178.55 538.1 177.22 536.4 177.62 535.7 178.64 532.9 177.10 536.8 177.74 535.4 176.13 532.1 177.57 533.6 179.61 538.1 178.64 533.9 178.95 532.9 181.49 530.7 181.93 530.5 180.32 533.1 179.35 533.5 179.09 531.4 180.84 532.9 179.76 527.9 181.28 528.7 180.95 530.3 181.64 532.1 181.62 527.4 183.77 530.8 182.36 524.9 184.78 530.5 182.56 530.6 185.26 525.8 182.39 527.2 184.15 527.9 183.66 523.7 183.05 524.0 187.05 523.5 184.99 525.8 183.91 526.5 183.45 521.0 186.23 521.1 186.62 524.5 186.20 520.5 185.51 521.4 185.95 523.8 185.24 521.2 186.33 523.6 186.79 520.5 188.28 519.5 188.69 517.3 186.66 512.7 185.80 517.5 190.66 512.9 188.83 520.0 188.03 519.5 189.47 518.2 188.45 519.7 189.09 522.1 186.93 510.5 189.64 514.8 192.31 517.1 191.59 513.6 190.56 513.5 191.21 516.6 192.18 514.5 192.87 508.4 190.88 516.4 191.80 509.2 192.58 511.8 193.67 512.4 192.44 505.2 193.69 514.9 194.32 511.4 193.68 510.1 194.51 510.8 195.59 507.3 192.96 509.6 194.88 509.0 195.29 499.8 197.74 502.4 193.12 508.5 194.75 501.9 194.15 506.3 194.94 503.6 196.78 506.0 195.47 497.7 196.75 503.1 197.16 502.3 197.13 502.7 198.67 502.1 198.34 501.1 197.19 501.5 197.90 501.4 199.03 497.6 198.23 503.5 199.74 498.5 199.40 496.0 199.06 499.6 199.55 492.3 198.87 499.9 200.80 494.9 200.01 495.7 200.09 495.1 200.84 496.0 204.04 491.9 203.07 492.0 201.19 494.2 200.99 490.5 203.29 491.8 201.51 491.0 204.35 489.8 202.39 488.2 204.77 487.3 206.19 488.1 203.61 485.0 205.05 484.8 205.43 497.1 207.62 487.8 207.96 490.3 204.29 487.7 207.11 488.7 207.09 486.2 206.44 488.7 206.96 485.5 205.31 485.3 205.80 479.7 206.99 486.6 205.77 482.2 208.05 482.3 208.10 483.3 209.97 482.2 207.09 480.8 210.27 484.6 209.37 476.8 209.54 472.4 209.43 477.6 209.72 470.5 209.12 477.0 209.08 481.4 211.97 481.9 207.98 472.2 212.15 476.7 211.68 470.6 211.77 475.4 213.01 478.4 212.03 470.8 212.56 477.7 213.31 472.7 212.63 480.4 214.18 468.3 214.33 466.6 213.38 473.8 214.27 471.7 212.91 469.9 214.58 464.3 214.65 466.9 213.01 463.8 214.98 470.6 215.87 466.6 214.33 461.2 214.16 459.9 215.92 456.9 215.51 459.4 215.29 460.8 216.77 461.7 215.81 463.5 217.34 457.0 218.72 462.9 218.08 450.0 218.16 456.5 216.98 458.7 220.00 453.7 218.39 455.9 221.00 457.5 218.55 451.7 219.50 454.0 218.15 456.8 220.33 447.5 218.53 455.7 220.50 450.4 222.69 444.8 221.79 451.2 219.62 451.8 222.52 448.0 220.23 449.4 221.53 449.4 221.49 447.2 221.92 446.9 222.57 449.1 220.00 448.3 224.36 444.7 223.22 437.0 222.35 438.6 224.20 441.6 225.82 447.0 223.11 443.9 225.38 448.4 224.73 442.7 225.19 441.9 224.67 438.4 225.64 444.0 226.57 433.1 224.22 439.3 225.39 436.8 225.94 434.6 226.11 439.9 225.01 438.2 226.58 436.4 226.13 432.9 228.22 427.7 228.00 427.5 228.45 422.0 228.96 426.1 228.18 432.2 227.81 436.0 230.10 425.1 229.01 434.1 229.02 436.2 231.96 432.4 228.50 434.3 231.53 426.6 232.39 424.1 230.61 426.7 230.55 429.1 231.97 426.5 230.80 424.9 229.64 427.0 233.60 419.5 234.45 426.1 231.18 414.1 233.88 428.1 233.52 427.6 233.51 431.3 234.66 417.3 233.53 418.4 233.94 416.1 234.72 413.9 235.18 409.9 232.14 422.7 236.74 417.9 236.27 417.8 237.13 410.2 235.88 417.9 235.08 425.2 237.23 416.2 237.46 417.9 238.25 407.9 238.16 416.2 236.54 410.0 236.49 409.3 237.82 409.0 238.80 405.2 238.47 408.3 238.18 404.0 239.25 401.7 237.10 398.1 239.43 397.0 237.17 405.4 242.09 405.7 238.13 399.8 242.74 398.8 241.89 396.4 242.35 399.2 242.32 404.0 241.13 398.2 241.92 393.9 244.01 400.3 241.04 398.1 242.31 385.7 243.98 390.7 242.28 397.4 245.42 392.4 242.17 389.1 242.94 390.0 244.18 381.4 243.42 380.0 244.26 383.6 244.82 383.3 244.86 389.0 245.73 379.4 246.03 379.7 246.23 384.1 246.33 372.3 246.43 372.3 247.00 372.5 247.31 372.5 248.07 371.0 249.34 372.7 246.86 362.7 250.03 361.3 249.18 366.6 249.60 358.4 248.03 373.4 249.23 361.2 249.55 361.6 249.09 366.7 250.52 364.7 248.50 365.3 249.12 361.7 251.39 354.7 251.12 359.6 248.93 356.3 251.63 350.3 251.53 356.2 252.61 361.4 251.75 351.1 252.06 350.9 251.08 349.7 252.37 356.1 252.27 340.8 253.64 352.2 250.81 349.0 253.45 346.6 255.05 340.9 250.67 342.6 255.02 352.0 254.98 341.5 254.86 336.5 255.36 341.1 254.36 328.7 256.47 339.5 256.01 331.7 253.78 344.0 256.97 341.1 255.05 331.3 255.47 329.1 257.36 323.4 256.65 327.2 257.60 326.6 257.96 314.1 257.74 312.0 258.63 321.6 256.53 314.3 260.67 316.8 259.94 315.1 258.37 313.9 259.15 310.2 261.41 313.1 258.83 315.7 258.17 314.9 262.90 302.2 262.27 303.1 261.39 301.4 263.21 291.4 262.01 289.9 262.56 296.7 262.67 298.9 263.12 299.6 261.32 290.8 262.79 297.1 263.39 292.0 261.95 289.4 261.95 296.5 263.64 280.7 265.89 276.5 264.08 299.4 265.76 287.5 266.23 291.3 266.59 285.5 266.01 281.3 263.41 277.7 263.17 273.0 264.65 283.3 265.89 275.2 266.35 279.5 266.16 280.7 266.57 277.6 267.96 277.4 266.05 284.3 268.45 276.4 268.66 275.0 266.13 271.6 268.67 279.7 268.70 277.8 269.61 266.0 269.79 270.5 266.85 266.4 272.03 263.7 270.13 260.0 271.40 274.7 271.57 266.4 269.54 249.9 270.92 267.4 270.99 270.5 274.12 259.8 270.12 257.8 273.85 258.0 273.32 261.6 272.37 251.9 271.49 256.5 272.76 244.2 274.06 259.1 272.36 244.6 274.01 248.1 274.74 251.9 275.08 254.6 274.08 243.5 275.53 242.9 275.89 255.2 272.81 241.7 274.07 239.8 274.03 240.9 275.08 247.3 277.16 246.6 277.09 247.8 277.19 243.5 276.34 237.7 278.45 242.2 275.56 243.3 276.03 231.1 278.82 233.6 277.89 236.5 279.76 245.8 279.76 233.4 280.12 235.0 278.26 234.2 278.80 235.6 277.71 236.7 279.98 226.0 280.20 214.4 279.77 235.9 280.39 217.8 281.20 232.0 282.32 232.3 280.77 233.7 280.97 222.6 281.84 230.7 282.89 232.5 284.72 232.4 283.87 235.6 280.05 221.6 281.15 224.4 282.50 225.8 280.61 227.0 284.80 233.4 283.10 232.1 282.86 227.6 284.45 237.5 285.29 230.4 284.73 219.5 285.39 234.4 286.79 218.3 284.64 218.4 286.15 223.5 284.13 223.1 285.18 225.2 288.14 225.8 286.25 220.8 286.19 221.0 288.63 229.6 287.33 227.2 289.27 223.9 290.73 220.2 291.34 225.3 288.64 219.0 289.57 217.0 288.71 231.2 291.75 229.2 290.59 222.8 293.57 234.7 289.84 224.2 290.60 228.8 287.43 227.8 290.30 225.5 290.63 225.6 292.23 234.2 293.09 230.5 291.19 213.4 292.25 228.5 293.37 211.3 292.81 218.5 293.96 227.6 295.29 218.2 292.90 232.6 294.27 222.7 295.55 228.6 294.51 226.8 296.54 229.9 294.53 233.1 296.52 216.0 295.73 224.6 296.40 226.2 295.13 231.4 297.50 228.4 295.06 223.3 297.97 216.6 296.97 215.1 297.52 219.3 299.04 226.1 296.04 225.9 298.89 233.8 298.66 226.8 297.86 229.8 299.70 216.4 298.95 226.5 301.49 221.9 298.89 221.3 301.63 232.6 301.68 224.9 300.69 224.4 299.69 225.0 300.72 216.7 299.44 215.0 300.40 236.7 300.76 225.4 302.17 225.1 300.30 226.6 302.77 222.5 301.94 223.7 303.89 220.2 303.70 227.6 302.51 224.7 303.78 232.1 304.00 235.5 303.35 219.4 303.92 230.3 304.31 223.7 303.53 239.7 303.50 227.8 305.47 232.7 303.35 223.8 306.29 234.7 306.96 222.6 305.72 219.7 306.99 212.5 305.81 227.2 307.75 225.2 310.93 229.0 308.06 222.4 307.66 228.0 307.93 228.1 306.55 221.8 307.60 240.4 308.37 242.4 308.23 230.8 309.31 232.7 310.95 233.6 308.03 234.2 309.17 225.2 310.35 232.1 309.03 241.6 309.58 229.8 311.51 229.6 311.86 225.9 311.80 229.2 310.46 218.8 312.56 232.2 313.14 239.3 311.87 235.1 312.72 234.4 312.57 234.1 312.86 234.5 312.78 228.1 314.15 223.3 312.95 246.4 316.20 238.6 315.18 222.6 314.37 246.0 317.56 234.1 315.36 242.9 312.73 236.7 316.99 233.9 316.76 243.3 316.14 236.5 316.52 224.1 315.98 242.9 315.53 239.4 315.89 240.0 320.40 239.0 316.94 244.0 318.11 251.0 320.33 248.5 317.60 244.8 318.59 244.1 318.40 239.6 317.43 255.3 320.04 233.5 320.41 239.7 319.67 245.3 319.94 247.7 321.18 249.1 321.52 245.6 323.27 260.0 322.04 256.6 322.41 238.5 320.95 244.7 320.35 242.8 323.74 260.1 321.48 249.6 323.53 243.5 323.08 251.6 322.26 246.2 323.77 254.9 325.77 259.4 325.61 249.1 323.68 257.9 324.17 259.1 322.32 253.6 323.55 261.4 324.57 255.4 325.48 263.8 326.25 259.8 325.46 258.7 327.69 270.4 325.43 268.6 327.58 261.7 325.82 245.7 326.84 266.5 327.73 262.7 328.68 268.7 327.18 267.1 327.79 266.1 328.24 266.5 329.08 277.4 330.73 278.7 330.09 278.3 329.15 264.9 329.42 270.0 331.50 273.9 331.88 262.4 331.75 280.5 330.79 268.7 329.98 281.6 330.40 273.4 331.68 279.7 330.54 268.2 331.83 264.4 334.82 275.3 332.96 272.5 333.78 273.6 331.88 279.3 334.96 284.4 333.12 288.2 333.90 279.1 334.30 276.7 334.39 285.4 333.94 280.6 335.55 280.6 337.50 285.7 334.92 295.4 336.57 291.5 334.55 278.9 336.46 302.6 335.60 284.7 338.26 293.9 336.34 289.3 337.84 300.0 337.45 297.7 336.20 302.9 337.91 298.2 338.10 296.8 339.29 305.2 338.39 288.4 336.76 292.7 337.91 292.5 338.74 300.4 340.39 299.4 339.41 298.1 341.16 307.6 340.01 307.3 341.04 302.4 342.00 298.1 341.27 318.5 339.36 309.3 342.92 305.1 341.58 310.0 343.02 311.9 339.08 307.3 342.55 315.9 342.75 313.3 342.52 310.9 343.16 320.6 342.37 312.9 342.71 323.3 344.59 317.9 344.03 316.7 345.40 325.3 345.24 317.8 344.21 323.7 345.31 328.9 345.15 320.6 346.40 320.3 347.99 328.5 346.35 330.6 345.96 314.5 349.31 329.8 346.72 334.0 346.45 326.0 347.10 335.1 345.27 328.9 349.82 328.1 349.59 330.7 349.81 337.1 349.44 332.1 348.82 332.0 348.67 335.9 348.63 340.7 350.65 326.7 351.12 343.8 351.20 346.3 349.32 334.2 353.04 340.1 350.13 343.6 351.30 342.6 351.48 352.5 351.22 344.3 349.37 341.5 350.83 343.1 351.85 347.6 353.95 342.8 352.52 344.3 353.66 345.5 352.09 357.6 353.32 353.0 355.43 344.6 356.41 353.8 354.94 338.5 355.43 352.8 355.18 356.7 355.10 356.1 355.61 357.8 356.93 356.9 355.20 353.2 354.94 356.3 357.19 356.8 356.04 351.5 357.46 359.9 356.00 355.4 357.78 364.2 357.23 373.0 357.34 373.1 359.04 376.2 357.74 361.9 355.90 362.4 357.52 368.5 358.94 361.5 361.40 369.8 359.28 364.6 358.58 369.6 359.55 366.8 361.70 377.1 361.16 375.7 361.56 374.7 361.89 365.3 363.27 377.9 360.24 370.7 363.56 366.8 362.97 375.5 361.40 379.7 363.62 368.0 364.65 379.7 363.01 375.4 364.74 376.2 361.30 380.2 362.29 376.8 364.88 375.8 364.64 384.9 365.59 368.5 365.65 385.6 366.33 375.3 363.86 387.9 364.12 377.0 367.43 389.8 366.74 375.7 366.65 393.0 366.65 385.8 369.02 384.7 366.53 384.8 368.09 391.7 369.59 386.6 367.45 390.9 367.70 389.3 368.26 384.0 366.54 397.6 370.45 389.5 370.54 392.2 371.80 392.6 369.89 392.1 370.69 400.4 371.25 394.8 372.65 392.3 371.36 394.5 371.79 393.2 370.69 390.0 372.13 400.8 371.98 391.7 373.46 402.4 373.35 397.7 371.39 401.6 371.72 398.2 373.64 397.4 372.98 409.8 374.06 398.1 375.29 396.1 372.73 402.8 374.92 407.7 373.56 396.1 374.89 399.9 375.03 406.7 374.15 407.6 372.94 406.4 375.43 402.5 374.71 405.8 376.57 402.2 376.73 407.9 377.95 406.4 377.73 408.1 375.10 406.4 375.56 411.0 376.79 408.6 377.93 405.5 378.62 415.6 377.78 410.8 379.22 409.1 377.99 410.1 380.61 417.8 379.07 412.2 379.24 413.6 379.53 409.2 380.38 411.7 382.34 411.2 381.11 410.5 382.26 410.1 380.52 413.7 382.41 410.0 382.79 418.8 383.33 419.9 381.31 413.2 381.62 419.2 382.96 414.9 383.86 419.7 382.44 420.7 383.88 412.2 385.76 409.3 381.87 422.2 382.93 422.7 384.42 421.0 385.46 419.3 385.13 419.0 386.02 411.6 387.32 428.8 385.37 413.9 385.20 424.7 388.06 423.3 384.72 425.9 387.95 419.9 388.74 422.0 387.80 427.8 387.05 421.7 388.15 427.2 387.56 421.8 390.78 428.4 389.43 430.1 389.04 428.7 389.71 431.2 390.06 424.6 390.93 427.6 390.34 428.8 389.30 436.5 390.14 428.7 389.45 431.5 389.33 436.8 391.50 433.1 390.81 436.4 391.51 428.8 392.70 437.5 393.29 433.9 392.59 436.4 392.08 437.5 393.74 427.4 392.27 440.1 395.24 434.2 393.19 440.9 395.30 435.6 393.02 437.9 395.42 431.3 395.24 433.2 394.80 442.4 396.46 435.3 396.09 440.0 395.84 439.1 395.86 435.2 396.79 439.2 396.65 439.8 395.80 443.2 396.15 439.6 397.03 439.1 396.08 447.4 395.43 447.9 398.93 442.9 397.54 439.0 401.11 444.9 398.95 441.6 399.89 449.5 400.10 444.1 399.50 442.0 399.28 443.6 398.08 441.5 398.91 445.2 398.86 440.7 398.99 446.8 399.14 449.5 401.41 448.4 399.11 443.3 403.54 448.6 400.95 445.8 402.64 442.1 402.76 447.5 403.16 451.4 402.80 449.2 402.93 447.3 403.55 446.4 404.68 448.9 404.73 451.1 404.38 450.3 402.69 454.3 403.63 453.2 405.00 454.2 406.53 449.6 407.11 452.7 404.97 451.4 406.29 453.0 405.49 452.9 405.29 461.3 406.74 448.0 407.56 454.0 407.42 451.1 404.64 454.7 408.99 454.4 405.42 459.5 409.37 453.5 410.04 451.8 412.32 455.8 407.17 456.0 408.52 447.3 409.52 462.6 410.16 452.5 409.33 462.0 411.45 461.2 409.89 462.0 410.67 458.0 410.85 454.6 412.02 455.2 411.97 462.9 409.78 457.0 412.85 460.5 410.95 458.1 411.30 457.6 411.79 463.5 412.62 457.0 413.86 460.0 414.10 460.0 411.90 461.9 413.80 461.2 415.40 458.2 415.49 460.7 414.88 461.2 414.05 469.8 415.86 465.8 415.11 462.8 414.03 464.0 412.95 462.6 416.74 469.7 417.81 463.2 418.97 460.5 418.46 478.6 417.70 461.4 417.27 462.2 417.88 460.8 418.69 465.9 416.77 462.0 418.55 461.6 418.20 468.0 419.70 469.6 419.86 465.5 416.86 460.5 417.75 466.1 419.83 462.0 420.73 465.3 419.35 465.3 420.72 459.9 420.81 467.3 420.45 464.0 420.59 463.8 421.98 460.0 423.20 467.2 421.37 461.2 422.97 464.1 422.83 460.0 422.18 459.0 422.40 459.0 422.20 457.4 423.74 461.8 424.50 468.0 423.71 467.0 422.20 459.9 424.63 460.1 424.63 468.5 424.56 465.7 426.59 462.8 424.56 461.3 425.40 461.2 426.19 454.0 428.01 460.2 425.26 470.0 427.01 468.2 424.85 461.3 426.46 465.2 427.17 464.4 426.22 460.1 428.65 458.9 428.54 460.0 427.59 462.8 428.88 466.9 428.15 462.9 428.91 462.1 429.22 461.1 431.35 466.5 428.94 468.0 430.90 462.8 431.85 461.1 430.87 463.0 431.74 464.0 433.65 466.1 430.26 465.3 430.46 459.0 432.73 461.4 432.34 460.2 434.33 464.0 432.15 457.7 433.16 455.1 434.06 461.9 431.07 459.8 435.49 460.0 434.15 461.1 433.28 458.2 433.86 461.8 434.24 457.3 436.65 457.2 434.30 463.3 437.14 460.2 435.15 465.4 436.61 462.3 435.90 458.7 436.55 459.2 437.97 457.5 436.98 461.1 436.63 463.1 438.73 461.1 440.21 461.9 437.85 457.6 438.03 465.5 437.94 463.1 437.25 464.5 438.21 456.8 439.76 460.1 438.84 458.1 440.18 466.5 440.28 460.1 441.04 468.9 442.31 462.3 440.72 458.5 439.44 465.0 441.56 466.8 442.20 459.9 443.87 458.4 442.09 460.2 441.49 456.1 441.46 456.5 443.47 452.5 442.75 458.1 444.45 455.5 445.09 460.7 443.79 461.1 444.71 463.7 444.33 460.9 445.24 459.0 443.18 464.4 444.01 457.2 447.17 452.0 443.77 454.7 444.54 458.0 446.66 461.5 445.13 463.1 446.00 455.8 445.70 463.2 448.74 460.7 447.12 461.5 449.40 455.5 448.03 458.2 446.11 451.3 448.42 459.3 446.36 457.5 449.87 461.3 446.42 462.8 450.49 455.4 450.15 461.9 451.50 462.5 450.53 457.5 450.58 465.2 450.07 455.6 450.02 453.1 450.15 458.3 450.87 464.5 451.24 460.1 454.51 451.8 452.50 456.1 451.20 462.4 454.08 455.2 452.86 457.2 452.17 454.0 453.38 464.8 452.71 463.7 454.38 452.8 453.62 450.8 455.49 459.3 453.05 458.8 455.00 457.2 453.44 457.5 457.40 455.9 454.11 460.3 458.07 460.0 455.70 461.5 457.46 459.9 455.53 454.5 456.38 454.9 458.65 455.4 455.67 456.7 458.19 453.7 455.85 453.1 460.47 455.1 459.50 454.3 456.32 455.3 458.32 461.6 460.26 460.5 461.93 453.7 459.41 455.8 457.54 454.3 461.48 452.1 459.30 457.1 460.47 447.8 460.15 455.7 459.28 453.6 458.51 450.1 463.30 456.3 461.85 458.0 461.96 455.3 461.46 455.9 462.86 450.9 461.36 455.7 461.51 459.5 461.47 449.8 461.64 462.0 463.96 447.3 462.05 457.1 466.35 451.5 464.20 454.4 464.03 453.5 464.54 453.5 466.96 457.1 462.57 452.3 465.61 454.0 467.96 457.6 467.39 452.7 466.74 445.2 466.13 451.0 469.65 450.9 466.58 449.6 469.66 455.2 466.47 453.1 465.98 449.8 468.12 450.6 467.83 447.3 465.68 450.6 468.81 459.5 472.06 446.1 469.17 459.5 470.13 452.2 469.82 451.5 470.08 450.1 470.65 447.6 470.79 454.5 470.87 450.9 471.55 449.5 471.87 451.7 471.80 457.7 470.05 450.1 471.07 451.2 470.95 456.8 472.29 447.9 474.69 454.9 473.43 460.8 472.83 451.6 476.03 445.4 474.84 455.1 473.30 450.3 474.94 456.5 475.86 453.4 476.04 452.5 474.42 448.1 475.67 455.8 474.85 453.1 474.28 453.0 476.77 453.1 474.02 453.0 476.46 452.1 478.13 451.0 477.90 445.1 477.36 449.1 478.14 449.9 478.12 455.3 479.77 455.2 479.09 447.5 479.59 449.2 478.15 448.8 479.05 452.2 478.86 452.1 480.97 453.3 481.01 448.5 480.40 449.7 481.54 458.8 480.88 446.7 480.83 456.5 481.98 453.9 481.89 454.5 484.58 451.4 480.55 451.0 483.49 453.8 481.48 450.3 483.78 450.7 481.91 449.8 481.30 452.4 485.46 450.5 483.64 449.6 486.05 453.0 483.49 451.5 483.62 445.8 486.32 450.5 484.36 455.9 485.41 452.2 484.53 456.3 485.55 444.3 483.47 452.0 485.87 443.2 486.41 452.8 487.93 448.0 488.24 449.8 487.21 452.0 487.68 447.2 487.77 447.7 490.64 448.8 487.49 453.0 489.58 455.3 488.99 447.3 487.59 446.7 490.03 450.3 491.00 445.5 490.24 444.9 488.74 451.9 491.07 448.0 491.38 455.8 490.36 446.5 492.20 455.5 489.45 454.5 490.17 448.7 491.45 450.6 492.11 439.8 493.43 450.8 493.75 450.0 491.97 446.8 494.34 454.9 495.24 440.8 494.62 452.4 493.73 449.9 493.82 450.5 493.39 444.1 492.30 452.1 493.93 447.7 493.40 450.2 495.58 453.1 495.74 446.4 496.29 439.0 496.48 450.8 496.93 450.4 495.97 448.7 496.43 447.2 497.60 446.1 499.07 450.0 495.48 451.8 496.51 447.9 497.74 454.5 497.08 448.8 497.88 452.1 498.80 449.1 498.08 449.7 500.24 453.5 500.36 452.3 500.67 454.3 500.59 454.1 501.20 450.1 497.02 452.7 501.76 451.8 499.94 451.7 503.86 453.0 500.74 450.4 502.21 450.6 500.31 451.9 500.92 446.5 502.82 453.2 503.29 453.8 504.91 442.4 504.34 452.9 505.09 447.5 506.18 447.1 502.28 452.6 506.11 446.8 503.65 451.1 505.23 447.9 504.99 445.8 506.43 457.1 506.61 447.6 506.54 446.1 505.59 449.3 504.16 457.5 506.70 444.8 506.83 455.1 507.18 448.3 508.05 451.9 509.93 451.0 509.20 455.2 508.66 448.6 507.75 458.6 507.16 450.2 510.68 446.5 509.96 452.6 509.44 455.0 507.80 454.7 509.48 455.8 510.90 451.6 510.90 457.9 510.12 455.8 511.13 449.3 510.85 451.4 510.92 450.3 513.29 452.1 512.77 454.1 512.52 451.8 511.85 453.0 514.27 456.5 511.28 457.1 513.43 459.5 512.08 442.6 511.11 452.1 513.30 452.0 511.63 452.8 513.96 451.7 512.89 451.7 514.79 458.0 514.44 460.3 513.42 451.7 514.99 458.6 514.82 448.0 517.77 458.3 517.95 462.7 517.44 460.1 517.83 453.8 519.90 453.8 517.62 456.1 517.77 462.1 519.70 458.9 518.82 458.5 517.25 459.8 520.46 454.2 519.07 450.4 520.80 456.3 521.22 456.8 519.15 459.9 519.90 459.2 520.79 470.9 518.84 457.7 519.44 457.4 521.02 464.8 521.08 460.0 520.24 467.2 521.48 467.2 522.29 463.5 521.24 463.4 521.36 455.1 522.36 465.7 521.51 461.8 522.00 463.6 522.81 465.0 521.18 462.1 523.06 458.3 524.27 460.0 523.02 458.4 525.86 465.6 525.14 462.3 526.60 462.8 525.19 460.9 526.28 462.3 525.68 458.7 524.74 463.5 526.98 459.3 525.66 464.4 527.44 462.6 525.83 465.3 527.30 467.7 527.19 465.7 529.27 464.7 527.67 467.4 529.63 462.5 529.17 464.5 530.61 466.3 528.58 459.9 530.46 462.8 530.66 472.8 530.64 466.3 530.39 466.4 532.02 468.0 528.95 465.5 531.74 464.7 530.42 465.4 531.97 470.4 532.62 472.6 532.27 465.0 531.77 466.8 531.21 469.0 530.83 463.6 531.97 468.1 533.62 471.8 531.52 472.3 536.63 477.1 533.73 467.6 533.13 469.1 535.55 472.4 535.88 470.7 535.31 473.9 534.17 470.2 535.41 464.3 536.95 467.7 536.73 464.9 533.69 471.7 537.27 475.8 538.63 473.6 535.97 470.2 534.79 465.2 536.38 472.4 537.68 470.3 537.57 470.7 537.82 473.3 534.62 481.7 537.70 472.2 537.90 471.4 538.92 469.2 540.62 477.7 538.55 471.4 541.07 468.5 541.62 473.5 541.44 476.4 539.86 471.4 542.33 475.7 540.48 470.4 540.96 480.6 539.65 472.5 540.55 476.6 540.88 473.7 543.87 475.3 542.89 478.5 543.08 475.5 542.54 477.4 542.72 482.0 542.29 487.0 543.28 481.2 545.60 478.6 543.96 479.5 546.91 474.6 545.40 475.3 544.54 475.4 546.78 480.7 545.44 479.0 546.94 478.4 545.37 487.8 547.98 479.8 546.99 482.9 547.01 481.7 548.14 480.5 546.62 482.1 544.99 475.4 546.75 481.1 549.09 484.3 550.10 486.7 546.87 480.4 549.36 486.1 549.69 484.2 547.61 480.3 547.41 476.3 551.84 482.9 550.47 479.8 549.83 486.1 551.12 483.6 548.74 477.5 551.42 481.0 551.07 484.0 551.05 487.2 553.02 474.4 551.95 484.8 552.21 478.9 551.87 482.6 551.70 480.6 552.76 486.9 554.93 485.0 551.01 490.0 552.32 488.6 553.14 482.0 554.87 477.1 553.53 483.9 555.31 483.1 552.27 485.5 553.80 482.8 556.17 483.3 552.69 488.1 556.15 486.6 557.67 483.7 557.16 487.5 557.49 483.4 555.79 486.6 556.37 489.9 558.55 485.3 557.97 482.6 559.96 487.7 558.60 486.1 558.54 493.5 558.63 487.4 560.64 485.8 560.33 484.2 558.78 480.8 560.34 485.7 558.84 488.8 561.25 485.7 560.09 490.6 562.39 492.1 562.71 491.6 562.15 487.3 559.52 487.0 561.00 492.5 562.29 487.8 562.51 488.0 562.88 488.4 563.93 494.8 562.10 484.4 561.69 494.4 561.75 493.8 565.02 496.2 565.00 492.7 563.59 498.6 564.34 493.9 566.23 488.7 564.49 487.0 566.00 491.9 566.37 493.4 565.96 493.1 566.90 495.5 567.53 496.0 565.93 484.5 564.59 492.5 566.72 492.6 565.31 494.7 565.30 490.3 568.48 496.8 566.64 493.3 567.55 497.6 568.56 491.3 567.49 493.1 569.61 489.4 571.45 490.7 568.33 492.8 569.57 492.2 566.69 495.1 569.01 495.6 572.45 494.3 570.51 494.5 570.29 490.9 571.69 493.3 570.99 494.0 573.40 492.5 571.70 497.4 571.32 496.9 572.00 492.6 569.41 493.9 573.41 495.2 573.78 495.9 571.09 500.4 570.29 495.1 573.12 494.0 574.36 497.2 576.22 498.2 573.52 500.1 573.85 493.3 575.02 495.7 576.92 497.3 574.44 497.4 575.35 492.1 575.16 498.4 577.47 501.8 578.44 499.3 579.41 497.1 579.12 494.4 578.48 494.7 576.93 497.8 578.49 495.7 579.69 495.8 579.39 493.2 577.59 499.9 578.57 501.3 578.64 498.5 580.61 500.8 580.00 499.4 579.41 504.3 581.02 499.0 580.93 499.4 579.88 495.8 582.25 499.5 581.29 498.5 581.26 498.4 580.48 504.7 582.07 502.5 582.80 503.4 579.66 501.4 581.78 497.6 582.51 500.7 583.76 503.9 581.81 498.2 586.07 500.4 583.54 500.9 583.02 504.3 584.17 501.3 585.66 503.6 584.83 503.4 584.21 500.7 585.64 502.3 585.98 497.9 586.02 500.3 584.92 503.7 586.76 503.3 591.57 503.3 586.62 502.4 587.38 505.0 584.80 504.5 587.63 502.9 588.26 497.8 587.56 512.2 588.15 510.0 587.35 500.5 589.84 507.8 589.12 502.5 587.87 507.0 589.15 500.8 590.19 503.4 590.34 502.1 593.42 505.9 590.46 506.5 590.96 504.1 590.03 496.8 592.04 504.1 590.54 500.6 592.43 508.7 591.27 502.5 591.31 497.5 591.59 503.6 595.31 500.0 591.69 505.5 594.62 500.3 593.68 505.4 592.32 499.1 593.76 507.7 593.45 504.0 595.06 506.4 596.29 503.4 597.59 510.4 594.73 503.5 594.96 506.2 595.08 503.8 596.16 507.9 595.45 499.7 598.84 499.3 596.81 505.7 596.89 501.9 593.71 501.1 597.89 505.6 596.68 504.1 601.11 496.5 599.21 504.4 598.23 502.4 599.59 500.8 601.56 506.4 599.91 505.9 600.66 508.4 597.66 502.5 599.22 501.2 598.89 512.1 601.20 506.8 599.09 506.3 599.02 501.4 600.86 502.7 601.42 506.6 602.59 494.9 604.10 500.1 603.96 505.0 602.81 498.2 603.14 506.2 600.85 503.3 604.86 498.7 602.60 503.9 603.37 504.0 604.06 503.7 603.14 505.7 604.30 499.0 606.04 502.2 606.82 505.4 607.74 504.7 606.72 504.5 605.24 512.6 606.71 502.5 605.10 502.0 603.63 505.8 607.48 503.1 606.50 506.6 606.75 503.2 606.26 509.2 610.18 501.7 608.20 502.9 609.93 506.5 608.74 503.9 609.17 506.6 609.34 506.1 611.20 506.5 607.25 499.8 609.49 506.5 609.27 503.9 610.86 504.7 609.87 501.1 610.85 505.3 610.31 506.3 610.19 504.9 612.07 505.4 613.06 504.3 612.43 503.1 610.58 505.3 611.55 503.2 613.73 503.3 612.56 505.1 614.27 506.7 613.61 509.1 615.62 507.2 612.81 504.0 614.56 501.2 615.62 504.7 615.43 500.6 613.43 500.6 614.27 497.7 615.00 507.5 614.37 507.2 615.43 500.3 615.62 504.0 616.06 504.8 616.29 508.5 616.05 508.2 618.26 501.0 618.81 504.8 617.62 499.0 619.67 503.5 619.83 504.1 618.13 503.1 621.02 500.5 620.96 503.0 620.48 510.8 619.19 502.2 620.33 504.3 619.49 507.2 621.34 506.9 620.31 503.3 619.48 509.0 619.72 509.0 620.67 505.3 620.45 505.7 622.47 504.5 623.08 506.6 622.56 505.8 622.16 508.5 622.55 499.8 622.46 507.9 622.32 504.7 624.19 509.6 623.13 508.8 624.78 504.7 623.09 505.2 623.07 503.8 625.22 502.1 628.50 504.6 625.40 507.7 624.58 504.5 627.66 501.1 626.16 505.1 625.93 501.8 625.13 505.2 627.75 507.1 626.52 507.8 626.27 508.4 627.19 502.3 629.19 496.9 629.08 504.6 626.93 503.9 626.11 506.8 630.76 506.6 629.17 503.5 631.87 504.5 630.06 506.9 630.47 502.1 630.05 497.4 630.38 505.0 630.89 504.3 630.89 502.2 633.07 507.6 631.11 503.2 631.15 501.2 633.30 504.1 630.94 508.8 631.98 499.9 632.64 505.8 630.94 499.1 633.59 505.2 633.17 501.4 634.60 501.5 634.12 504.9 632.50 510.5 632.51 497.1 633.53 501.8 634.42 499.9 634.79 506.0 634.94 502.5 636.21 499.5 634.24 504.9 635.28 504.2 638.12 501.7 636.47 504.6 636.79 503.1 637.97 504.9 635.74 498.6 638.01 503.9 637.71 504.9 637.17 499.2 638.61 513.0 640.41 506.8 639.23 502.8 638.93 500.2 641.34 501.2 640.34 501.9 642.33 503.5 641.77 497.9 640.61 498.5 639.91 506.1 640.55 497.9 642.55 508.3 639.86 501.6 644.64 497.6 638.79 499.3 642.71 507.4 643.75 502.8 641.54 498.9 640.13 506.1 642.40 503.8 642.77 500.2 644.64 498.7 643.74 497.4 644.32 502.4 644.10 503.9 646.38 507.0 644.21 507.2 644.83 505.5 645.63 497.8 649.08 500.6 641.88 504.1 643.28 501.7 645.50 502.9 645.35 501.2 646.66 502.6 647.98 505.8 648.12 504.2 647.24 498.2 646.92 501.3 647.82 499.1 647.38 497.6 651.06 505.8 650.38 502.7 648.95 510.5 650.24 505.0 649.01 504.5 649.85 501.3 650.34 500.7 648.94 505.4 650.70 501.4 650.12 507.9 651.78 506.2 650.10 506.2 650.90 503.8 652.60 500.3 654.07 507.0 653.11 501.5 653.11 503.3 651.13 505.8 652.47 502.3 653.63 502.1 653.61 499.3 654.05 506.9 655.62 508.9 656.16 500.9 654.05 507.3 653.93 509.8 653.18 509.3 655.57 507.1 656.50 501.8 657.57 499.4 655.32 501.9 655.90 505.7 655.68 508.5 659.77 508.3 659.34 503.9 656.94 505.7 658.07 503.1 657.04 498.8 657.76 502.4 661.26 507.9 658.41 507.0 658.75 505.0 659.25 504.8 657.80 512.0 657.73 506.3 657.41 503.9 661.53 500.5 659.51 503.0 659.97 506.2 662.14 503.4 659.84 506.6 660.91 503.6 660.73 513.6 662.47 503.9 661.90 508.1 660.31 503.0 663.99 506.3 664.61 508.2 663.64 506.1 663.11 500.2 663.58 510.1 662.49 507.8 663.77 502.8 665.79 504.2 665.07 507.7 663.24 503.3 663.47 507.8 665.09 501.9 667.28 506.3 666.50 508.5 666.18 504.7 667.54 506.6 665.77 507.4 667.41 510.9 666.80 510.2 666.02 507.3 668.40 507.5 666.33 505.6 668.15 505.6 669.75 505.5 667.11 505.3 670.56 509.7 670.96 506.4 670.48 504.6 669.42 504.8 669.66 507.1 669.93 509.0 670.52 505.9 669.58 504.7 671.38 508.5 673.08 511.0 669.76 505.0 673.80 506.9 670.63 502.5 671.16 515.9 671.93 505.4 672.66 505.0 673.22 509.5 675.30 507.8 674.19 511.4 675.29 506.6 673.41 509.6 674.86 510.0 672.29 511.1 673.29 515.2 677.98 509.6 675.11 507.2 676.28 511.2 676.81 507.8 676.85 512.9 674.49 511.0 676.69 510.6 679.57 505.6 678.28 505.8 676.71 508.7 677.51 510.4 677.10 504.4 678.20 509.2 678.35 511.4 678.46 509.0 677.78 513.7 676.75 511.7 679.80 515.7 679.73 509.0 680.38 512.6 681.40 503.0 679.95 508.9 681.99 514.2 680.55 510.2 682.25 510.0 682.10 507.9 680.54 516.7 683.02 515.5 682.65 511.7 682.44 512.8 682.42 511.9 682.86 507.8 682.12 513.0 681.75 510.4 683.49 509.8 684.82 515.5 683.86 512.4 685.22 509.3 682.64 514.0 686.86 512.4 685.36 513.6 684.96 512.3 685.61 513.6 686.23 513.6 686.14 510.2 686.76 519.2 684.95 513.8 687.53 505.7 686.83 516.1 685.91 508.8 688.57 514.5 687.81 518.0 690.00 512.6 687.55 513.2 690.23 517.1 689.52 515.6 688.10 515.5 690.44 513.4 690.25 514.2 691.02 508.5 689.36 513.0 687.29 514.0 690.01 516.3 690.95 516.0 692.20 510.9 692.79 512.5 693.14 508.4 692.56 514.5 692.28 519.5 691.78 515.7 693.20 513.1 692.27 515.8 693.40 515.1 692.89 512.1 694.47 513.2 693.37 515.4 693.29 518.5 693.66 514.5 695.29 514.4 694.18 512.5 696.62 516.5 694.07 513.6 695.92 522.2 695.41 517.4 694.59 508.3 696.21 521.4 697.10 518.3 697.58 517.5 696.70 518.3 695.96 516.2 696.65 515.5 697.11 516.1 700.32 517.9 696.76 519.7 698.39 524.2 701.54 519.9 697.66 521.4 701.32 522.0 701.31 517.1 700.83 516.7 700.68 517.1 698.15 524.1 700.40 516.0 700.50 521.7 702.56 517.8 702.73 527.6 700.06 516.6 698.75 517.0 701.04 519.3 704.69 517.6 702.67 523.0 702.82 523.7 703.91 523.9 702.95 527.2 703.95 518.8 702.76 522.0 703.07 520.6 704.94 519.7 704.80 522.9 705.68 528.2 705.14 519.6 706.50 528.5 706.07 523.3 706.23 521.2 707.40 519.4 706.44 525.2 705.12 523.3 705.75 522.6 706.75 521.4 708.60 522.8 706.85 522.3 707.45 523.8 709.62 518.3 710.15 524.3 706.83 526.5 707.38 526.1 708.85 520.2 709.44 524.3 708.85 524.9 707.97 527.4 712.74 526.8 710.76 527.3 712.37 524.1 711.83 526.5 711.83 524.4 709.20 524.0 712.02 520.6 712.06 525.9 712.29 524.6 711.42 520.9 711.08 529.0 712.92 524.3 713.91 526.6 714.61 526.5 713.84 525.2 711.70 526.4 713.64 528.4 713.71 523.8 713.69 522.4 713.32 529.0 715.82 527.7 714.44 524.3 715.67 529.3 716.49 523.3 715.07 527.0 715.92 527.7 715.74 526.9 718.21 528.2 716.13 525.7 715.39 522.7 718.71 525.6 714.80 528.9 719.82 527.5 718.90 527.4 719.08 526.7 719.37 530.6 719.21 526.3 719.90 528.6 716.49 528.7 719.38 525.5 718.57 530.2 717.88 529.4 718.96 529.8 720.28 524.7 721.24 531.6 720.19 527.4 720.27 528.4 723.47 529.7 722.73 531.1 721.10 527.3 721.37 529.7 722.82 529.0 723.94 528.9 722.48 529.0 723.24 526.6 724.77 529.1 721.99 532.5 724.28 526.7 724.08 525.1 723.35 533.3 725.11 525.9 726.09 528.8 724.95 528.1 724.93 530.4 727.47 528.9 726.33 531.2 725.30 528.8 726.97 527.2 727.74 536.5 726.91 530.6 725.13 531.7 726.93 527.1 726.52 528.7 730.04 529.3 727.45 533.3 730.80 528.7 728.94 532.2 729.24 530.2 729.72 529.3 731.63 533.1 728.61 532.1 729.65 528.7 730.03 533.2 731.09 528.2 730.19 533.0 731.32 531.5 732.46 537.7 731.17 533.3 733.49 537.5 732.13 533.6 732.22 531.2 733.45 534.2 732.53 528.5 733.73 529.3 732.69 532.2 732.21 536.6 734.31 535.1 735.05 529.3 734.34 527.5 735.71 533.7 734.40 528.9 737.74 530.2 735.09 531.5 736.29 530.7 735.86 531.1 735.99 532.8 735.35 535.9 738.35 531.8 736.72 533.7 736.43 534.8 738.80 535.0 738.95 533.6 737.12 532.0 739.02 533.8 739.85 530.3 738.99 533.9 737.46 537.4 739.16 535.8 738.61 526.7 738.26 535.8 740.26 535.9 741.03 533.7 737.76 536.4 740.26 536.4 739.95 534.4 741.70 534.2 740.77 531.9 740.06 537.6 743.66 529.4 742.01 536.0 744.09 534.2 742.98 535.4 741.88 534.2 741.51 535.2 741.69 533.2 743.36 533.1 744.13 539.8 745.82 534.8 743.01 539.1 744.81 537.7 745.88 536.3 746.88 536.7 746.65 535.8 746.46 538.4 746.80 535.8 744.66 535.2 746.61 537.9 745.25 536.2 749.57 537.6 748.45 534.8 747.32 536.3 747.37 538.9 747.65 538.9 748.97 533.9 748.14 536.4 748.59 534.1 747.94 538.7 749.94 534.5 750.33 532.4 748.54 534.1 750.80 534.1 750.09 542.9 751.60 535.7 751.99 539.0 750.43 535.4 752.02 538.3 752.86 540.4 750.33 539.7 752.07 540.8 751.01 539.9 753.27 537.1 750.76 538.9 754.09 538.1 752.86 536.6 754.33 543.1 756.27 535.6 754.01 534.9 753.12 536.8 753.16 540.9 755.66 537.3 753.45 539.0 753.49 536.6 755.95 541.5 757.35 539.4 756.41 538.8 758.56 542.2 758.04 536.8 757.74 542.4 757.59 541.0 757.76 536.1 758.08 538.7 759.04 540.4 758.22 536.7 756.49 537.3 756.45 542.8 757.49 546.1 759.03 543.5 757.39 541.1 759.21 540.0 760.06 537.4 761.38 541.7 759.12 538.7 759.35 540.1 759.18 540.4 759.51 542.2 760.73 541.6 763.25 535.0 757.80 538.9 761.93 542.7 762.49 543.6 764.08 542.4 764.22 543.0 763.31 538.0 761.11 540.6 762.40 541.0 763.21 543.0 762.94 541.1 765.03 539.6 763.77 543.2 763.27 541.1 764.82 542.5 766.13 537.1 764.70 541.4 764.38 542.4 764.90 544.6 766.22 541.4 766.76 537.4 765.85 538.2 765.98 543.9 768.07 543.7 770.10 540.8 770.84 539.3 770.80 543.9 767.43 540.1 768.68 541.2 768.63 537.9 768.41 535.2 768.58 541.9 769.48 545.8 770.33 540.7 771.61 538.5 771.89 544.7 770.18 539.1 770.43 536.5 772.15 540.3 772.11 542.3 770.96 539.6 771.86 541.6 769.87 541.6 772.64 541.7 771.11 545.2 773.16 542.1 769.56 543.0 773.30 544.9 772.04 540.9 773.11 543.8 774.13 540.4 773.44 541.9 776.47 541.6 775.94 544.2 774.54 544.0 777.33 540.2 775.46 539.5 776.01 539.2 778.16 539.6 778.58 540.4 776.58 541.8 777.71 540.0 776.93 546.3 778.51 544.9 777.25 547.0 779.20 543.2 776.05 543.8 778.75 541.7 779.98 545.0 779.02 543.5 777.01 542.0 779.54 543.2 778.20 546.7 779.19 546.2 780.11 542.4 782.39 537.8 780.29 535.6 779.32 542.3 783.11 542.3 780.87 542.3 780.68 543.4 781.40 543.7 781.60 540.6 783.74 541.1 779.84 546.3 781.61 547.9 783.80 543.0 783.29 543.1 783.22 544.8 781.28 543.6 784.90 543.0 783.43 542.8 786.01 546.3 781.81 541.2 785.24 544.2 785.75 540.2 787.29 544.3 785.71 543.7 785.05 542.8 786.37 543.9 785.90 539.0 786.74 541.2 784.40 542.0 787.08 543.3 787.51 543.0 787.83 541.5 787.86 543.3 790.31 544.0 790.76 549.1 789.95 543.6 789.03 544.0 790.89 544.0 789.63 542.6 789.27 542.3 789.31 545.1 790.10 542.8 792.27 542.2 792.33 543.4 792.46 547.2 791.70 540.7 790.81 542.6 792.14 544.2 791.97 544.9 791.51 547.4 793.78 548.3 790.87 542.2 791.36 545.4 791.84 548.2 792.84 546.4 793.62 541.8 794.94 542.4 795.34 544.0 794.00 545.8 794.10 541.5 795.15 545.8 796.56 542.4 796.09 545.4 796.61 545.6 797.20 545.0 796.82 546.3 796.65 543.9 794.41 544.4 796.50 547.0 795.84 542.7 796.67 542.6 797.47 540.8 798.92 548.0 799.60 542.3 797.61 546.3 799.52 544.3 799.89 545.2 797.13 543.2 800.07 543.8 799.87 546.4 798.02 544.4 800.62 541.9 801.56 543.8 801.91 541.0 800.67 545.4 802.43 546.3 803.04 544.8 802.79 547.8 800.56 547.9 803.59 543.9 802.12 546.8 802.37 543.7 804.80 544.7 805.29 543.8 805.64 544.6 800.55 541.7 805.96 544.0 801.96 541.6 805.46 548.1 803.52 543.4 805.61 544.4 806.77 541.1 806.90 543.1 805.60 545.9 803.01 540.0 805.70 545.6 806.02 543.8 806.96 549.8 808.33 546.6 806.48 547.1 808.63 545.8 806.90 547.6 807.46 542.6 808.92 549.2 809.65 547.2 810.11 541.8 808.54 546.3 810.30 545.6 808.42 549.0 812.60 545.0 811.07 545.8 810.61 546.8 809.71 545.4 810.31 549.8 811.46 547.0 810.65 544.5 811.85 546.5 810.89 545.6 811.39 550.0 813.75 543.7 811.63 542.1 812.51 551.1 812.12 546.3 814.19 549.0 812.59 546.5 813.60 545.4 814.30 547.8 814.12 546.8 815.44 545.2 815.31 542.3 815.45 547.4 814.83 549.9 815.45 549.4 814.97 543.7 815.34 550.0 815.29 543.7 818.51 545.8 818.06 547.1 815.90 547.1 817.37 545.1 818.77 546.3 817.80 547.3 820.25 547.4 817.04 548.7 818.89 549.3 816.39 547.5 820.73 545.6 818.66 548.9 819.97 547.2 821.19 545.5 820.09 541.9 819.92 547.7 819.90 548.9 822.69 549.8 823.16 545.2 820.89 547.2 823.41 543.4 821.26 547.8 819.47 548.0 821.64 545.5 821.71 548.6 823.28 549.7 823.63 549.9 822.46 545.5 822.68 547.7 823.64 550.0 821.14 547.2 825.03 546.8 825.75 547.1 824.88 549.7 823.34 547.2 825.09 543.5 824.53 549.3 824.99 554.2 828.01 548.9 825.96 551.0 825.68 548.6 827.52 547.4 825.29 545.6 829.31 549.1 827.97 548.0 828.05 550.1 828.42 548.4 826.52 549.5 829.18 543.5 829.34 548.8 829.05 549.5 828.25 548.8 829.38 551.2 831.47 548.0 829.10 549.6 830.74 543.7 831.57 549.9 829.28 549.8 830.44 546.2 831.62 543.2 833.03 545.9 832.14 548.0 831.27 551.8 832.20 545.5 830.37 549.1 833.34 549.5 832.88 549.4 832.93 546.6 833.55 549.7 833.94 545.1 832.74 543.8 836.76 548.0 833.17 546.2 834.86 543.1 835.00 551.2 833.22 550.0 835.12 549.6 834.48 546.2 834.26 546.7 833.97 544.8 836.30 548.3 837.80 547.8 837.83 548.3 836.99 551.7 837.86 547.3 834.96 548.0 838.27 545.1 837.44 552.0 839.14 551.3 839.49 543.3 838.93 543.5 838.82 552.4 839.06 553.0 841.77 550.2 839.43 551.9 840.56 545.7 841.43 548.9 842.28 550.7 839.17 548.4 841.28 546.6 839.95 548.4 841.20 546.8 842.74 553.2 840.00 548.0 842.57 547.3 842.48 544.6 843.89 552.3 843.14 548.5 843.64 550.2 843.29 548.7 845.23 549.6 845.00 549.1 844.75 547.6 840.80 550.1 845.68 547.2 844.35 549.7 846.15 550.0 846.07 551.0 846.59 547.1 845.71 554.5 846.64 549.7 846.44 546.5 845.10 545.4 847.61 549.4 846.45 549.0 847.71 550.7 849.05 545.7 849.66 549.1 848.99 550.2 848.97 551.5 848.86 545.3 848.15 547.9 849.96 547.5 850.05 549.0 849.21 548.6 850.77 549.5 849.02 547.3 851.11 550.3 850.12 545.9 850.16 549.3 850.42 554.3 851.06 547.1 850.76 553.5 852.22 552.5 852.56 548.4 856.17 550.6 850.88 550.9 852.71 547.3 854.36 544.8 855.41 549.0 853.94 546.6 855.27 550.9 853.98 545.7 855.60 554.4 854.29 555.1 853.63 548.0 855.58 545.1 855.38 550.5 855.90 548.6 855.59 549.5 854.62 546.2 856.15 546.5 856.18 551.0 855.68 546.8 856.35 545.2 857.48 551.0 857.85 551.2 857.01 549.2 857.03 547.5 857.75 553.7 857.88 549.1 858.78 551.5 861.27 546.9 859.13 546.9 857.57 550.5 861.80 553.6 860.24 547.7 860.02 548.8 861.35 549.2 860.45 553.3 863.26 550.1 861.47 551.1 861.75 552.3 861.56 551.9 862.75 554.1 862.24 547.3 862.30 551.0 862.84 551.2 862.27 547.6 864.47 550.7 865.33 551.0 862.81 549.6 863.78 548.9 865.07 553.3 863.27 551.1 864.14 550.3 865.87 551.1 865.64 549.4 866.14 551.1 863.77 551.7 867.63 548.7 866.70 550.4 866.66 550.5 869.26 551.0 868.45 549.7 865.78 550.7 870.05 549.6 867.36 548.7 868.13 549.5 867.17 547.1 870.64 552.1 869.08 551.5 870.02 548.8 870.83 548.6 869.98 548.8 867.76 548.1 872.34 548.2 870.30 552.0 869.15 550.1 870.75 552.9 871.06 552.0 871.18 551.8 871.85 547.9 872.75 554.9 874.67 550.5 873.83 545.7 873.15 550.4 875.89 550.1 873.58 552.3 876.59 548.6 874.07 551.3 872.24 550.2 876.19 553.8 874.54 550.4 874.65 552.2 875.11 553.3 875.62 549.2 876.51 551.8 875.90 551.2 874.72 554.8 876.97 552.5 877.37 549.5 876.61 555.4 877.68 550.0 878.28 551.1 875.61 551.5 875.63 552.6 877.28 549.8 879.58 550.8 876.88 550.5 880.38 551.8 878.57 549.5 880.04 550.4 879.13 548.2 879.28 555.3 879.80 552.6 879.50 554.3 879.47 549.8 880.01 547.5 880.71 547.8 880.97 548.6 879.96 552.7 881.33 550.6 881.84 550.3 883.19 548.7 883.41 555.3 883.12 548.5 883.46 551.0 882.00 550.9 883.10 551.3 884.88 551.2 884.69 552.4 886.27 557.6 887.29 554.2 887.19 552.4 884.49 549.3 884.72 555.1 885.31 555.3 887.58 550.5 886.64 553.0 886.13 546.5 885.36 549.5 886.88 554.4 886.90 547.9 889.00 553.3 890.74 554.4 886.29 548.6 886.35 551.6 889.50 555.3 889.58 557.4 888.27 552.2 889.65 555.5 889.94 550.2 888.42 550.6 890.88 553.1 889.60 553.8 890.77 552.6 892.36 554.8 889.80 554.2 892.30 555.3 892.46 554.1 893.70 552.5 891.01 552.8 892.73 552.3 890.66 552.9 892.74 555.1 894.70 554.9 895.59 555.7 894.34 554.8 892.54 554.7 892.05 550.8 894.76 551.9 893.75 551.6 895.31 551.0 895.09 547.1 895.31 554.2 897.53 550.2 894.04 550.9 895.79 551.0 897.29 556.2 898.44 553.6 895.49 556.0 895.49 552.6 896.62 554.4 895.33 554.5 896.25 552.3 899.73 553.0 897.15 548.8 896.82 550.3 898.17 552.9 899.12 547.4 898.21 553.2 899.45 553.0 900.81 551.1 900.84 554.4 899.88 553.7 901.93 555.2 902.67 553.1 901.63 554.1 898.82 553.4 902.61 549.7 901.31 552.6 903.12 552.4 901.43 552.9 901.57 552.8 901.90 554.5 902.31 552.6 905.25 551.1 902.73 554.0 903.09 548.1 904.10 549.5 902.75 555.4 903.72 549.4 903.42 553.3 906.04 550.3 903.36 554.2 905.23 553.5 905.88 555.0 907.41 554.0 907.16 555.4 906.76 550.8 905.48 556.2 909.85 551.8 908.88 554.7 907.99 552.5 905.89 555.4 907.30 553.8 906.74 553.4 906.92 554.3 907.59 552.9 906.93 553.0 907.43 556.1 908.63 554.3 909.13 553.3 907.31 552.2 909.63 555.7 912.18 551.3 910.22 552.9 910.04 550.5 910.26 551.7 913.93 552.7 912.49 553.9 912.78 553.0 912.71 555.2 912.31 549.1 914.91 557.7 912.52 554.4 910.40 554.3 913.96 551.4 914.68 555.4 914.14 551.6 914.85 553.1 914.94 553.7 915.08 554.5 917.44 554.4 917.00 551.4 916.17 550.6 915.93 556.3 915.42 555.1 914.80 554.7 914.88 554.4 915.23 554.6 916.63 549.4 916.84 553.6 918.26 555.6 917.86 553.8 915.45 555.2 916.05 554.5 917.58 552.7 921.73 552.0 918.39 553.4 919.86 555.9 919.74 550.2 919.07 555.7 920.80 549.6 917.65 558.0 919.16 553.4 918.72 554.1 921.37 552.8 923.72 555.9 920.84 552.2 920.24 556.8 920.51 558.5 922.11 553.9 922.14 552.1 923.07 555.6 922.07 552.3 922.25 553.2 924.77 554.4 925.19 556.2 924.74 551.6 923.04 555.5 925.95 555.1 928.60 553.7 923.75 555.5 926.21 554.2 925.24 553.2 926.23 549.7 926.29 548.7 926.99 554.1 925.70 555.5 926.95 551.8 926.22 553.4 927.59 557.4 927.55 555.8 926.83 550.3 927.84 555.4 927.57 553.4 928.82 555.1 928.96 554.2 929.29 552.0 926.44 558.4 929.18 548.4 928.84 551.7 929.20 556.4 931.29 553.6 931.34 554.5 930.75 551.7 932.72 555.5 932.74 552.2 931.87 551.2 932.91 551.2 934.15 556.1 930.96 553.6 930.98 555.3 931.53 554.6 932.50 553.3 933.16 551.2 935.01 554.4 932.95 555.1 935.81 551.3 935.91 552.5 936.16 551.9 934.82 549.3 934.06 554.5 936.83 555.1 936.11 553.7 935.52 554.4 937.15 554.2 936.74 556.5 935.64 555.7 937.40 555.9 937.26 552.3 937.06 555.0 938.07 553.9 936.81 551.6 938.11 554.9 937.61 550.4 939.44 551.6 938.92 556.3 938.76 555.4 940.35 550.0 938.80 554.8 938.83 554.3 941.35 553.4 939.15 551.6 942.25 553.4 941.99 555.6 940.62 558.0 940.48 555.9 944.06 552.2 941.90 555.6 941.65 558.6 941.66 553.7 941.42 551.4 945.48 556.5 943.88 552.9 943.51 554.3 943.02 554.9 943.43 553.8 945.26 554.2 941.77 555.6 943.83 555.8 943.87 554.9 943.43 555.9 946.43 555.0 944.99 552.9 947.40 558.2 947.60 555.1 945.28 555.5 948.04 556.7 947.36 554.1 947.00 551.5 949.02 550.7 948.07 553.5 948.24 556.6 946.55 555.3 949.66 555.7 948.50 553.4 950.53 551.4 949.01 553.9 950.73 550.5 949.97 552.5 950.85 555.5 947.76 552.9 950.52 551.2 950.49 555.4 950.70 555.3 949.86 554.6 949.18 550.4 952.51 555.8 951.92 553.7 952.39 555.4 953.65 556.6 951.98 555.3 954.59 557.1 954.01 555.9 953.80 553.4 953.84 553.2 956.13 558.5 954.79 559.2 955.34 553.9 953.54 555.2 955.48 555.6 953.93 556.4 954.61 551.4 956.17 556.5 955.59 555.2 953.95 555.3 955.12 554.1 955.94 558.0 957.59 554.3 956.49 558.9 958.67 558.4 957.78 554.0 956.69 557.2 960.11 557.3 958.26 554.5 958.09 550.5 958.10 554.6 959.07 555.9 958.89 560.1 959.96 558.0 960.85 557.4 960.33 555.9 959.57 557.3 961.91 553.5 960.62 553.6 961.67 552.5 958.74 552.9 963.00 555.0 961.13 559.6 963.19 552.4 960.99 556.0 962.43 555.4 964.55 551.4 964.59 555.0 963.79 550.8 964.56 557.7 961.41 557.1 963.36 553.7 964.17 554.4 962.19 554.2 964.22 553.9 965.39 556.9 966.48 552.9 965.36 554.5 967.40 552.7 969.28 557.7 966.25 555.6 967.45 557.6 967.68 553.5 968.80 549.7 964.83 556.5 968.09 556.0 967.22 557.2 966.57 555.2 966.87 556.7 968.10 557.1 969.35 554.1 968.34 550.6 967.49 556.7 969.29 555.7 971.42 554.3 968.88 552.6 971.07 558.9 972.03 555.6 970.68 555.6 970.17 553.4 970.18 553.7 973.13 555.8 972.62 552.6 972.00 557.9 972.58 554.4 971.77 558.1 972.61 555.7 974.96 553.7 974.03 559.7 974.18 555.3 974.66 554.3 973.41 557.4 974.67 556.3 973.18 555.5 971.94 551.2 974.91 551.8 974.68 557.4 974.76 554.3 974.02 556.5 975.58 553.6 975.87 556.0 975.36 551.7 975.77 555.0 975.40 558.5 976.44 556.0 978.30 554.7 976.43 555.3 978.82 555.5 976.57 559.5 977.52 555.9 982.19 556.5 977.16 554.5 980.27 556.7 978.36 556.5 980.00 554.1 980.54 552.0 981.24 555.1 980.30 558.1 979.95 554.3 983.85 554.8 981.97 558.1 982.22 555.4 980.71 551.6 980.61 559.1 982.91 555.8 984.23 554.5 982.01 555.1 981.56 556.8 984.31 554.6 982.74 559.5 984.23 556.7 982.66 557.0 984.17 556.4 983.48 554.6 984.21 556.2 983.98 559.5 985.50 554.8 985.05 555.5 986.01 556.6 985.35 554.2 987.54 557.7 985.61 553.2 986.30 556.7 988.21 553.7 987.36 555.2 986.59 555.2 987.04 561.4 986.99 554.7 989.44 558.0 988.47 556.8 988.66 554.4 987.07 557.8 990.24 555.9 990.52 552.6 991.19 552.3 988.62 556.3 991.63 556.3 989.73 552.6 991.17 556.1 991.13 555.3 992.21 557.0 989.80 554.5 991.79 556.1 992.84 555.7 994.46 557.2 992.22 558.2 993.29 560.3 994.66 552.9 992.79 556.5 993.14 554.1 993.75 553.6 995.61 552.3 993.87 554.8 994.81 556.0 994.30 555.4 995.23 556.4 997.38 556.3 996.37 556.9 996.47 556.0 995.56 556.6 995.53 556.3 997.64 554.9 998.27 553.1 996.17 552.8 996.97 556.8 997.02 553.8 997.40 557.4 999.05 554.9 996.97 554.2 999.84 555.3 1000.61 556.1 997.42 559.4 999.42 555.0 999.28 554.8 998.59 556.6 1002.34 557.9 1002.07 555.7 999.92 554.8 1000.22 557.0 1001.30 556.6 1002.85 556.9 1002.88 553.2 1002.12 557.4 1000.74 556.3 1000.37 558.3 1002.49 555.6 1003.57 557.0 1004.13 555.6 1005.13 560.5 1003.55 553.1 1003.71 554.2 1005.50 554.5 1004.20 550.0 1005.60 555.1 1002.04 559.5 1006.58 557.7 1005.73 558.4 1006.04 556.0 1006.95 554.9 1006.21 555.9 1004.57 553.6 1006.08 552.7 1008.86 558.6 1006.92 556.3 1007.33 559.1 1006.98 553.5 1007.64 556.5 1007.35 553.3 1007.02 559.6 1008.56 556.6 1008.03 554.3 1007.71 554.3 1010.68 559.0 1009.32 554.2 1010.23 555.9 1011.98 556.4 1012.39 554.4 1009.98 559.5 1011.34 560.2 1011.07 555.4 1010.49 556.9 1011.90 558.0 1011.19 557.8 1011.22 558.0 1012.32 554.2 1012.90 556.6 1013.56 553.7 1012.95 556.4 1014.50 557.6 1013.09 558.3 1013.35 552.3 1014.96 557.2 1013.33 553.8 1015.21 557.7 1015.71 557.5 1014.46 557.1 1014.60 558.7 1015.66 557.3 1016.45 555.2 1015.52 556.1 1015.87 557.5 1014.75 553.4 1017.15 556.3 1017.97 557.5 1018.36 554.7 1017.46 559.3 1018.46 559.1 1019.84 557.9 1019.27 556.6 1018.81 556.2 1018.93 558.1 1019.72 557.8 1019.80 558.8 1019.37 555.5 1021.04 558.1 1020.11 559.2 1021.23 555.0 1020.18 557.2 1022.34 557.0 1021.36 556.5 1020.76 558.9 1020.84 556.6 1023.99 558.4 1022.75 557.8 1023.60 558.5 1022.16 556.5 1022.71 555.7 1022.71 558.3 1023.90 557.1 1023.45 558.7 1024.29 556.0 1022.96 555.9 1027.00 558.4 1023.35 557.3 1030.16 556.8 1025.60 558.4 1027.02 556.7 1025.73 557.5 1027.26 558.1 1026.69 554.9 1025.15 559.1 1025.62 557.1 1025.57 556.6 1028.22 557.1 1027.21 555.9 1027.64 553.6 1028.12 557.3 1028.08 556.3 1028.40 560.4 1027.76 560.2 1027.74 556.3 1029.67 557.9 1029.76 559.4 1029.68 558.0 1030.69 557.0 1030.75 556.7 1030.92 555.4 1032.23 559.0 1028.53 558.6 1031.68 557.7 1028.77 557.4 1032.65 560.8 1032.80 558.3 1032.02 560.1 1032.38 555.1 1033.51 555.7 1032.46 555.8 1033.00 558.9 1034.38 556.8 1030.95 560.0 1034.32 557.7 1034.68 559.4 1035.34 556.8 1035.21 559.3 1033.03 556.9 1036.62 557.4 1034.17 555.6 1032.63 554.1 1036.13 555.3 1036.19 558.1 1036.75 558.1 1037.36 554.5 1038.70 555.3 1038.26 554.9 1035.73 558.7 1038.18 555.9 1038.39 555.6 1037.98 558.5 1038.43 556.5 1038.47 558.6 1039.75 559.1 1038.10 556.5 1036.58 554.3 1039.46 557.1 1038.81 561.9 1039.74 555.6 1041.19 560.3 1039.26 556.4 1040.94 555.8 1039.76 560.5 1040.14 556.9 1040.81 553.5 1040.76 555.1 1042.60 556.1 1041.06 556.6 1042.41 560.2 1042.64 559.6 1042.69 557.7 1044.21 558.6 1044.87 556.8 1044.60 554.5 1045.54 557.8 1044.37 557.3 1046.00 559.6 1045.86 558.4 1045.20 560.0 1046.75 557.0 1044.59 557.1 1044.68 556.9 1044.65 556.2 1046.76 559.9 1045.11 558.1 1047.85 555.5 1045.60 556.6 1046.89 561.5 1047.55 562.4 1048.43 560.6 1047.23 558.1 1049.06 561.0 1049.56 557.8 1048.78 555.6 1046.96 558.0 1050.53 555.8 1049.10 557.5 1048.98 562.3 1050.22 559.0 1047.92 558.3 1051.58 559.5 1049.42 557.1 1051.54 558.4 1051.38 556.0 1050.63 555.3 1052.23 557.0 1052.48 555.6 1052.10 553.6 1052.67 556.9 1053.14 555.9 1052.30 556.2 1052.17 560.8 1053.46 559.2 1051.82 559.9 1052.78 557.6 1055.02 555.9 1055.28 556.2 1054.59 561.5 1055.71 552.5 1055.07 557.0 1054.64 558.4 1056.44 555.1 1055.99 560.0 1056.28 556.4 1056.36 558.0 1059.41 561.1 1057.70 559.7 1058.37 557.6 1057.32 557.8 1058.41 560.9 1057.26 561.8 1057.90 559.1 1058.34 554.5 1058.73 557.2 1061.00 560.2 1058.44 556.7 1060.60 557.6 1060.11 556.3 1060.21 557.4 1062.72 560.1 1060.35 559.6 1058.83 556.1 1062.36 560.7 1062.08 555.4 1059.74 560.1 1062.51 560.0 1060.90 555.7 1062.16 554.7 1064.02 560.3 1061.67 559.6 1062.79 558.8 1064.81 556.8 1063.47 559.1 1063.29 555.4 1065.04 559.9 1065.44 562.9 1065.76 558.0 1067.54 560.4 1063.11 556.7 1063.40 559.0 1064.88 558.0 1063.89 559.3 1065.01 557.8 1064.73 555.0 1067.28 560.5 1067.95 556.1 1066.28 560.6 1069.86 556.0 1069.50 560.0 1066.91 559.1 1067.64 557.4 1068.03 560.3 1069.21 558.9 1069.49 561.5 1069.13 559.7 1069.58 560.8 1069.79 554.4 1070.53 561.1 1069.27 558.0 1070.39 558.0 1069.51 555.9 1070.83 557.0 1070.69 557.9 1071.42 558.6 1069.42 558.6 1070.16 557.7 1074.00 558.8 1072.65 560.1 1071.60 557.5 1073.37 557.2 1075.57 560.6 1074.69 559.3 1072.34 556.6 1072.97 559.8 1071.90 559.3 1073.09 562.8 1075.70 560.3 1076.57 560.1 1075.17 558.4 1073.60 556.7 1072.76 558.3 1076.00 558.0 1075.98 558.0 1076.12 560.8 1076.52 556.5 1079.03 561.9 1076.69 556.6 1077.62 555.8 1078.28 560.4 1079.60 558.1 1077.90 557.2 1078.09 559.4 1079.27 557.6 1078.77 558.8 1077.84 557.8 1079.22 558.9 1079.34 556.9 1078.80 559.9 1078.31 557.7 1079.32 558.7 1079.89 554.3 1081.66 559.5 1082.38 557.4 1078.08 558.1 1081.69 557.8 1081.57 557.4 1082.14 556.5 1082.98 560.3 1081.53 557.5 1079.64 558.1 1083.43 557.8 1083.06 557.0 1084.26 560.6 1084.27 557.1 1083.64 559.1 1085.01 556.9 1084.20 555.6 1085.21 555.5 1084.05 559.4 1085.58 554.6 1085.86 555.1 1084.99 557.1 1086.05 559.5 1088.22 556.9 1085.99 560.5 1085.34 558.0 1088.73 557.9 1089.66 561.4 1087.78 559.4 1088.32 557.5 1088.86 557.3 1087.91 560.0 1089.54 561.1 1088.49 557.9 1086.33 558.1 1088.82 560.5 1089.85 557.1 1091.93 559.3 1089.85 559.0 1089.46 558.2 1090.58 556.7 1090.61 553.9 1090.34 558.1 1092.68 556.1 1092.00 559.0 1090.82 557.4 1092.16 557.6 1093.28 561.3 1090.78 559.8 1090.85 556.6 1092.68 560.1 1092.59 557.8 1092.31 556.0 1093.16 558.8 1092.35 558.5 1096.42 560.4 1094.78 560.5 1095.45 560.6 1094.24 557.2 1095.86 558.4 1092.38 555.1 1094.87 559.2 1096.40 558.1 1095.48 554.4 1096.44 559.8 1094.23 559.4 1096.63 555.5 1097.63 554.2 1098.15 557.9 1097.64 559.0 1097.15 558.3 1099.74 561.3 1097.38 563.1 1098.01 558.8 1098.75 558.1 1099.46 557.7 1100.08 562.6 1098.78 558.6 1100.64 559.9 1100.81 560.3 1098.95 560.6 1101.30 559.5 1099.92 562.3 1102.84 559.8 1103.46 559.0 1100.20 556.6 1099.49 558.0 1101.18 558.6 1102.08 560.7 1102.58 557.6 1102.47 559.2 1104.82 558.3 1103.80 553.5 1104.39 559.2 1101.77 562.0 1104.70 555.9 1104.00 561.0 1104.82 556.3 1104.89 557.9 1106.66 558.5 1103.87 560.6 1106.37 558.7 1103.68 558.9 1106.70 560.6 1106.45 560.7 1108.43 558.5 1106.85 559.8 1107.73 561.5 1106.56 559.8 1107.97 556.9 1108.04 559.0 1108.02 555.9 1108.14 563.2 1108.97 559.3 1107.82 555.6 1109.22 558.0 1110.82 559.7 1110.69 560.3 1110.53 558.6 1108.19 558.1 1109.09 557.0 1108.99 560.6 1110.31 561.4 1110.95 559.5 1112.21 559.3 1111.12 559.2 1111.29 557.8 1113.34 558.2 1112.04 560.0 1110.64 559.4 1113.29 559.8 1112.00 557.4 1113.54 560.4 1114.91 556.9 1114.64 561.4 1113.41 558.6 1114.19 559.5 1113.71 557.6 1116.26 558.8 1116.06 557.4 1115.63 559.2 1116.47 555.4 1117.30 561.2 1115.72 559.3 1117.16 560.3 1118.53 558.7 1116.64 560.0 1118.66 557.6 1118.11 557.2 1116.57 558.1 1117.83 556.0 1116.64 560.5 1119.22 558.3 1117.71 558.5 1118.86 557.3 1118.97 560.0 1121.69 561.1 1120.52 558.3 1120.16 561.1 1122.25 559.7 1119.62 559.4 1121.68 555.7 1121.53 557.2 1121.60 561.4 1122.54 561.1 1120.88 563.4 1123.99 557.9 1122.89 560.7 1123.22 556.1 1123.30 557.4 1123.35 557.0 1126.75 557.5 1123.58 559.8 1122.80 562.0 1123.60 559.6 1120.95 556.7 1125.12 561.9 1124.27 559.9 1124.91 556.2 1124.49 562.0 1126.32 559.3 1128.17 560.8 1125.03 558.0 1127.50 558.2 1127.34 560.1 1127.66 556.1 1127.33 559.4 1128.41 561.0 1129.02 560.2 1127.36 559.1 1125.06 558.5 1128.89 558.5 1127.96 562.2 1130.44 559.9 1128.47 559.7 1129.63 557.5 1126.69 560.1 1130.22 560.8 1130.28 554.8 1131.92 562.6 1131.06 561.0 1131.45 558.9 1131.55 555.7 1129.10 564.2 1132.73 560.7 1132.10 558.3 1132.39 556.4 1132.94 561.4 1131.99 555.7 1132.61 559.3 1133.15 558.7 1133.83 556.9 1135.06 557.8 1134.22 557.9 1134.74 561.1 1133.43 560.1 1136.82 561.6 1136.42 557.3 1136.10 561.9 1133.96 560.0 1136.32 561.9 1134.46 558.7 1135.66 560.3 1135.58 557.4 1135.25 561.7 1137.17 559.6 1139.17 558.1 1136.59 559.1 1138.74 559.5 1137.83 555.6 1137.79 559.5 1138.67 557.1 1139.17 559.0 1137.97 559.6 1137.60 564.0 1138.56 560.1 1136.11 556.6 1136.17 560.4 1139.09 556.9 1140.47 557.2 1140.19 557.8 1140.17 561.1 1140.06 562.7 1140.23 560.7 1141.32 556.7 1141.69 559.6 1141.66 560.9 1142.38 554.2 1143.41 558.6 1141.22 564.4 1141.05 556.5 1144.82 557.3 1142.17 557.0 1142.90 562.2 1144.51 561.3 1143.93 560.9 1145.77 561.8 1144.73 558.1 1145.91 555.6 1145.52 560.6 1146.15 556.1 1145.26 560.8 1145.32 560.6 1146.54 559.9 1145.34 562.2 1148.28 560.4 1146.93 557.1 1146.89 558.0 1149.41 561.0 1147.10 558.3 1147.18 560.9 1148.98 559.1 1148.30 560.2 1148.80 557.7 1149.26 559.3 1150.14 556.4 1149.12 558.2 1151.25 560.7 1149.18 558.3 1150.54 557.7 1150.15 561.4 1152.43 561.2 1150.15 557.3 1154.28 560.1 1150.60 560.7 1152.34 557.9 1152.44 558.1 1153.08 559.3 1153.21 562.7 1151.32 559.6 1151.44 559.6 1153.16 554.3 1153.81 560.4 1152.71 561.6 1154.45 557.4 1155.97 561.2 1154.80 560.4 1155.62 561.3 1154.28 559.7 1158.05 559.8 1155.60 564.7 1156.04 563.4 1156.32 557.9 1156.00 556.4 1156.67 560.5 1157.15 560.6 1155.88 560.0 1158.21 559.5 1158.25 562.6 1157.45 553.7 1156.72 557.8 1157.94 561.0 1157.41 560.7 1161.08 560.7 1160.57 558.2 1159.62 563.1 1159.31 561.7 1161.07 561.4 1160.94 560.7 1162.58 556.8 1158.42 558.6 1161.57 557.1 1159.47 559.7 1163.79 556.6 1159.31 559.5 1160.58 558.2 1161.01 559.5 1161.93 555.1 1162.23 557.3 1164.02 559.7 1162.93 560.9 1163.50 556.9 1163.97 560.7 1162.08 564.5 1165.54 559.1 1162.91 557.9 1165.34 555.7 1165.61 556.2 1163.78 558.3 1166.62 558.8 1166.29 560.6 1166.36 563.1 1166.39 557.7 1166.69 560.0 1167.39 562.5 1168.25 560.8 1164.64 560.1 1169.64 560.0 1168.00 557.1 1168.44 556.9 1167.53 561.3 1167.92 562.5 1169.31 561.9 1167.85 561.9 1167.66 563.1 1170.24 562.8 1169.93 559.1 1169.41 560.4 1172.25 555.4 1170.71 562.0 1171.17 560.2 1170.86 560.1 1171.27 561.9 1170.54 557.3 1173.35 560.2 1170.13 558.2 1171.48 563.1 1170.19 557.4 1172.25 558.8 1173.16 560.8 1173.24 563.3 1174.18 559.9 1172.98 557.1 1174.45 558.5 1173.28 560.6 1173.40 561.1 1174.55 557.5 1175.95 562.3 1172.75 558.2 1174.35 558.1 1174.62 559.6 1176.36 557.6 1175.62 557.6 1176.72 559.5 1178.06 555.2 1177.25 559.2 1177.20 557.6 1176.44 560.6 1175.91 558.1 1177.44 561.8 1179.99 560.7 1177.08 561.0 1178.54 560.4 1177.70 558.3 1179.62 560.8 1180.59 561.2 1178.11 560.2 1179.87 560.7 1179.82 560.7 1179.77 559.6 1179.38 559.0 1181.23 560.3 1181.46 560.4 1183.14 561.3 1180.78 562.5 1181.89 559.5 1181.20 559.2 1181.69 564.0 1184.97 560.0 1184.20 560.1 1182.77 558.5 1183.10 560.9 1183.75 555.8 1185.66 558.7 1185.37 559.7 1184.32 558.7 1183.18 560.6 1184.43 562.4 1187.06 560.9 1184.30 559.4 1185.26 555.4 1183.60 558.6 1186.66 562.6 1186.46 563.1 1188.68 561.3 1184.48 561.8 1185.81 561.7 1186.05 557.2 1188.48 559.3 1187.84 559.1 1186.51 561.3 1188.97 562.3 1184.97 560.2 1190.34 563.8 1190.16 559.9 1187.44 559.1 1188.52 559.0 1187.93 556.1 1190.26 561.5 1190.81 559.1 1189.49 561.4 1192.60 561.0 1190.60 561.2 1192.08 556.9 1192.10 559.4 1192.19 559.6 1192.56 560.8 1192.04 558.2 1191.61 558.1 1191.47 562.4 1192.68 557.4 1194.11 560.6 1195.57 558.0 1194.12 561.7 1193.82 559.2 1194.05 559.4 1194.52 558.3 1193.33 556.3 1193.81 563.7 1195.72 560.1 1196.74 563.1 1197.43 561.6 1196.76 558.3 1195.64 559.2 1197.92 561.4 1197.28 560.4 1196.80 558.9 1199.56 561.1 1197.54 562.0 1199.37 562.7 1197.76 563.7 1198.36 560.5 1198.69 559.7 1198.92 559.7 1199.09 555.3 1199.69 563.1 1201.15 563.7 1200.00 553.0 1199.18 560.7 1197.89 559.3 1201.53 559.9 1202.91 556.9 1199.76 560.1 1201.78 556.2 1203.84 561.6 1201.20 562.2 1201.64 562.8 1203.48 557.0 1201.83 558.0 1201.42 559.1 1202.82 563.1 1199.50 559.9 1202.31 563.5 1204.67 560.7 1203.58 561.7 1203.87 557.5 1204.45 557.0 1204.23 558.8 1204.10 558.0 1204.97 557.4 1203.82 561.5 1206.13 563.6 1205.83 558.9 1206.96 560.2 1205.96 563.1 1208.73 560.6 1206.95 562.0 1206.63 561.9 1208.72 562.9 1206.58 562.8 1209.77 561.1 1210.85 558.6 1207.17 562.8 1207.06 558.4 1209.45 560.9 1210.12 561.6 1210.29 566.5 1208.54 562.2 1208.39 561.6 1207.65 560.0 1210.87 560.4 1209.72 557.7 1208.31 556.3 1211.57 560.4 1212.35 561.1 1212.07 559.8 1211.28 560.2 1213.05 560.2 1209.50 564.3 1212.92 559.5 1213.67 564.6 1212.88 559.4 1212.45 560.4 1213.03 560.7 1215.62 562.0 1213.27 563.8 1211.67 562.9 1214.82 563.1 1213.07 561.5 1214.93 560.9 1214.58 560.7 1215.55 558.6 1214.38 565.4 1216.90 560.8 1217.18 559.5 1217.00 558.6 1217.32 560.3 1217.60 558.8 1216.92 563.0 1217.59 563.3 1218.62 559.6 1217.76 563.5 1216.94 562.6 1215.66 561.7 1219.35 561.6 1220.69 560.4 1219.62 562.9 1219.59 557.6 1218.99 562.5 1219.90 560.9 1221.37 556.4 1223.04 560.3 1221.75 561.3 1221.43 562.3 1223.20 561.2 1223.36 559.1 1219.18 561.5 1221.44 561.2 1220.16 554.4 1219.87 558.7 1223.14 560.2 1223.00 559.6 1223.15 561.3 1224.54 565.1 1223.93 561.0 1224.54 560.0 1224.91 560.8 1223.71 559.1 1227.63 559.8 1226.36 559.5 1225.39 562.1 1226.27 559.9 1225.23 561.2 1226.62 561.7 1226.98 558.9 1225.89 562.2 1225.98 564.2 1230.70 560.5 1226.51 561.5 1229.34 563.3 1227.08 563.7 1227.64 561.6 1229.34 560.6 1227.13 562.1 1231.29 558.9 1230.16 559.4 1229.50 559.9 1232.09 561.9 1229.28 558.8 1232.05 561.6 1230.67 557.7 1231.58 559.1 1230.87 559.3 1230.56 562.2 1231.07 564.7 1232.99 557.9 1232.02 561.6 1231.83 560.8 1231.74 561.9 1230.44 559.9 1234.55 562.8 1233.52 556.9 1231.85 563.0 1233.41 564.0 1234.27 559.4 1233.55 561.4 1234.23 558.9 1234.57 560.5 1235.47 560.6 1235.28 555.7 1236.53 562.9 1236.88 562.5 1236.31 564.9 1236.62 561.0 1236.24 561.4 1237.88 563.5 1239.15 557.5 1237.86 562.3 1238.36 560.5 1239.21 565.1 1237.24 560.9 1238.26 563.3 1239.73 560.3 1239.15 554.6 1240.54 564.1 1239.51 563.4 1241.85 563.3 1240.79 560.7 1239.64 563.7 1238.99 559.3 1241.96 559.7 1240.45 563.3 1240.68 562.9 1240.32 565.1 1239.83 559.9 1243.08 562.3 1241.52 562.5 1242.36 563.6 1241.49 559.2 1241.76 561.6 1243.05 560.6 1243.00 562.5 1244.89 567.4 1244.72 562.9 1244.73 564.7 1246.43 562.7 1244.97 560.8 1244.02 562.1 1246.26 561.5 1247.45 561.2 1245.34 563.2 1247.61 562.7 1246.87 559.8 1246.32 557.2 1244.75 560.4 1246.13 562.4 1246.20 564.4 1248.54 561.9 1246.63 562.6 1248.96 563.6 1249.48 563.9 1248.15 560.1 1248.16 561.2 1247.94 562.9 1249.25 560.5 1249.06 559.8 1249.46 561.0 1249.41 561.6 1250.01 563.8 1252.37 560.6 1250.56 560.0 1250.02 560.9 1250.12 563.4 1251.87 558.1 1251.11 562.4 1252.05 563.8 1252.15 560.9 1251.56 560.6 1250.32 559.4 1252.68 559.9 1250.55 561.4 1254.30 564.3 1252.07 562.9 1253.17 560.9 1253.80 558.8 1253.17 559.3 1255.69 563.9 1253.86 558.9 1255.16 563.7 1255.70 562.0 1257.25 563.8 1256.84 562.5 1257.80 560.6 1257.25 561.7 1254.27 560.9 1257.35 559.2 1256.63 561.2 1257.52 561.5 1257.67 559.4 1259.21 561.1 1255.99 563.1 1258.78 561.6 1258.32 559.4 1257.22 564.7 1258.70 560.2 1259.64 564.0 1259.43 562.3 1259.76 563.9 1259.32 562.2 1260.59 559.4 1260.40 564.1 1259.47 560.2 1263.08 558.8 1259.61 558.7 1262.92 562.5 1260.92 560.6 1261.00 560.7 1262.92 558.7 1261.48 565.5 1261.17 563.1 1262.15 563.8 1264.47 562.1 1261.66 564.1 1265.79 560.8 1265.18 564.5 1265.43 561.7 1265.11 560.8 1263.74 563.3 1264.54 562.5 1265.87 562.4 1266.55 558.4 1266.71 559.5 1266.05 558.7 1265.81 559.6 1269.56 561.3 1265.44 559.0 1267.13 560.8 1265.92 558.5 1269.01 559.8 1267.23 561.5 1268.83 562.5 1270.14 563.8 1265.46 560.3 1267.49 560.3 1266.48 562.5 1267.51 556.0 1267.74 556.9 1268.64 560.8 1271.52 560.8 1270.10 562.4 1270.97 561.9 1272.59 561.4 1271.20 559.6 1271.04 557.9 1272.95 560.1 1272.12 553.5 1270.76 556.8 1269.63 553.8 1271.56 556.3 1272.74 550.6 1272.01 557.3"/><path d="M150.43 635.8 150.33 638.3 151.70 636.8 150.00 630.0 152.00 634.4 150.65 633.4 152.13 637.4 153.79 636.8 152.24 635.8 151.41 635.7 150.91 635.3 152.10 633.8 152.26 636.3 152.14 634.5 152.31 635.8 153.07 638.9 153.22 636.2 154.08 638.4 154.13 637.4 156.44 635.3 154.65 638.4 154.93 636.3 155.82 638.1 156.07 637.1 155.26 639.5 155.28 638.4 156.01 637.2 156.06 635.9 158.28 641.6 156.11 637.1 157.02 637.8 157.86 637.5 158.59 636.8 159.98 634.8 158.16 636.5 158.53 635.4 160.68 639.3 160.81 641.6 159.42 635.9 158.57 637.3 160.62 638.6 158.73 635.0 162.13 635.5 161.70 635.2 159.64 639.4 162.37 637.6 160.49 634.5 161.33 636.2 163.45 636.1 160.89 635.9 160.28 631.9 161.41 635.4 163.40 635.8 163.46 636.3 162.59 635.3 161.47 633.7 163.53 633.9 163.06 636.1 165.32 640.0 162.55 632.5 165.82 636.0 164.96 636.0 165.74 633.2 166.25 627.0 166.54 634.1 164.97 631.9 167.36 631.4 165.31 633.4 167.86 630.4 167.29 630.0 166.94 633.8 167.76 633.6 168.32 633.7 168.44 632.3 169.58 631.3 169.06 632.2 168.83 633.1 172.05 633.9 168.73 631.7 168.58 632.1 170.69 629.3 171.68 632.2 171.88 633.6 172.17 633.3 172.70 629.6 170.60 625.5 172.69 627.2 170.62 629.4 172.53 626.2 171.39 626.8 172.99 632.0 173.46 624.9 173.70 624.6 173.11 627.4 172.93 627.2 175.19 631.7 175.83 627.6 174.03 627.8 172.50 627.1 174.94 622.9 176.27 621.9 175.11 622.3 175.18 624.9 176.84 621.4 177.64 626.6 175.40 624.5 175.41 625.5 176.48 625.5 175.53 624.0 177.93 619.8 176.08 621.4 179.44 623.3 177.66 619.4 178.03 621.8 179.62 619.3 179.60 623.2 179.54 622.6 180.10 621.5 178.90 622.2 182.15 623.1 178.56 620.6 179.76 620.9 179.50 622.2 179.74 620.4 182.40 619.7 182.92 618.9 183.13 618.0 182.31 617.1 180.18 619.8 180.57 618.8 181.38 617.1 181.90 620.2 183.53 620.3 183.81 617.5 183.46 615.0 181.99 617.6 184.84 616.5 184.34 617.6 182.57 616.1 185.27 618.1 184.13 612.7 187.58 615.0 184.00 614.1 186.57 615.4 185.66 612.6 183.86 612.2 184.89 610.4 185.17 613.4 186.66 617.4 188.65 616.9 188.03 611.5 189.61 612.2 188.91 612.9 189.79 607.6 188.74 613.0 189.52 614.4 189.85 610.4 188.91 606.0 189.77 606.5 188.99 611.2 189.78 608.7 189.27 608.9 190.21 610.5 190.35 608.7 192.20 607.5 190.50 607.2 190.60 603.1 192.08 610.5 191.47 610.4 191.70 605.6 192.69 607.4 193.16 604.0 193.15 607.5 194.55 605.5 195.54 604.0 195.07 603.3 193.74 607.4 192.84 604.3 193.22 605.3 194.87 601.6 193.32 610.3 195.63 604.0 194.90 599.3 195.66 605.8 196.63 599.0 196.45 604.8 194.16 604.0 194.82 606.0 198.61 600.0 197.01 596.3 199.08 601.3 197.51 601.9 198.31 600.1 197.51 599.2 199.04 603.2 199.69 601.2 199.23 595.6 200.26 598.6 199.75 593.9 197.38 596.1 200.69 591.6 201.23 593.6 199.57 592.5 201.82 590.2 199.61 594.6 201.00 595.1 201.96 592.5 198.91 589.5 202.59 597.5 202.24 592.5 203.48 591.2 202.15 590.6 202.88 594.5 203.20 588.2 203.48 591.0 202.61 586.8 205.47 593.0 202.68 587.1 204.03 586.4 205.10 590.4 204.06 589.7 206.32 590.5 204.90 589.5 204.96 592.8 206.51 584.4 208.38 587.8 206.32 588.2 208.01 586.7 206.30 589.3 207.17 587.7 207.55 585.7 208.58 587.8 208.55 582.0 207.34 583.8 207.80 581.0 208.54 586.0 209.58 579.6 212.17 578.9 209.49 582.2 211.81 580.7 212.41 576.6 209.77 579.7 209.47 582.8 212.02 578.8 209.33 574.3 212.90 577.1 211.42 573.8 212.65 574.0 212.46 579.0 210.28 577.4 213.69 579.6 213.20 572.5 210.27 573.9 211.15 570.7 213.73 576.5 213.87 570.4 213.91 569.8 214.35 568.8 213.32 573.8 214.14 572.6 216.46 571.6 212.52 574.7 212.37 570.7 217.24 567.6 216.60 576.3 218.15 567.2 217.43 567.0 218.01 572.5 217.37 568.2 215.67 568.6 216.38 562.3 218.85 564.5 218.25 563.6 219.20 567.4 220.35 564.8 218.72 566.8 221.48 562.5 218.68 563.7 219.49 565.4 220.61 559.9 220.98 560.3 219.97 566.6 221.59 560.9 218.88 569.6 221.48 564.5 222.44 563.8 221.72 560.7 221.81 562.0 222.26 560.7 221.27 555.4 224.85 557.9 223.09 558.0 222.86 561.5 223.35 557.6 224.08 549.7 223.21 558.2 222.61 556.3 225.51 558.5 223.88 557.1 224.33 551.5 222.91 550.3 225.87 552.7 226.59 551.3 226.56 553.8 226.57 551.6 224.19 552.5 228.57 554.6 227.55 551.3 226.59 550.1 228.27 553.3 227.91 554.2 228.29 552.5 227.46 544.7 228.46 550.1 228.20 548.3 229.48 552.0 228.83 539.5 229.76 547.4 229.58 547.4 230.59 548.3 231.10 545.0 230.61 544.4 231.90 545.6 230.96 539.5 234.58 544.7 232.81 538.1 233.11 540.2 230.26 545.8 231.68 543.7 232.49 543.2 233.27 545.4 233.38 542.3 233.76 541.5 232.17 537.0 236.03 536.8 234.30 543.8 234.91 535.4 234.53 541.1 234.78 538.6 234.91 542.5 237.12 533.4 234.94 539.5 236.28 532.8 237.38 533.0 234.61 540.2 235.37 539.3 235.38 533.4 237.42 537.4 235.19 533.5 236.95 530.5 237.53 534.0 237.38 524.9 236.01 524.3 240.31 517.9 237.62 528.6 238.00 523.8 240.31 524.7 238.65 525.8 238.88 524.8 238.67 526.6 239.53 523.5 240.50 527.7 241.89 515.5 240.63 525.2 241.22 524.9 238.98 518.8 241.73 525.3 242.70 517.9 243.19 526.7 240.20 522.8 241.35 518.5 240.72 516.2 242.78 517.5 244.67 515.8 241.59 514.1 244.17 514.6 243.16 517.7 245.43 511.1 243.70 507.7 242.51 518.5 244.22 510.5 244.84 511.4 244.77 507.7 244.64 504.9 246.50 510.6 246.64 510.8 245.97 503.2 247.34 501.5 247.21 504.2 248.72 504.2 249.53 500.1 249.91 505.1 247.44 501.4 248.96 495.8 248.25 498.3 249.27 498.5 249.68 497.9 249.14 494.4 249.32 498.5 250.72 491.0 249.48 496.2 249.47 493.0 249.20 488.6 249.24 488.9 251.85 484.5 252.48 483.6 251.21 482.9 250.92 489.8 253.65 487.5 251.88 482.2 251.70 483.7 252.23 481.0 253.79 488.8 253.32 480.7 255.25 484.0 254.76 484.7 254.23 484.8 252.17 486.3 253.39 479.8 256.51 473.0 256.47 481.8 256.06 481.4 256.37 470.3 255.93 476.8 256.01 478.0 255.11 474.2 257.36 475.0 257.32 468.3 255.68 469.6 255.78 467.8 257.91 479.2 256.93 471.6 259.86 469.1 258.36 466.0 257.20 469.7 258.15 469.1 258.11 466.7 258.35 461.8 260.26 461.9 258.83 458.6 258.68 456.5 257.49 465.1 261.14 460.0 261.01 464.0 258.45 460.4 262.58 459.1 260.98 458.0 263.81 458.7 262.15 466.6 261.50 460.1 263.24 453.3 264.01 461.6 261.53 453.5 263.54 448.6 264.16 445.1 263.37 445.3 262.71 455.7 263.51 455.8 265.66 447.1 265.85 450.3 265.33 444.4 267.42 449.5 266.32 453.8 266.97 450.7 266.93 446.6 266.63 443.7 266.50 448.0 267.63 448.6 266.56 444.1 267.28 444.8 264.48 449.0 266.38 444.9 266.41 437.8 270.42 448.9 266.15 442.2 269.00 433.3 270.11 447.1 268.82 448.3 269.25 442.6 270.00 437.6 267.63 434.8 270.10 437.5 271.99 429.7 271.67 441.5 271.00 441.2 271.21 433.4 272.69 446.3 270.75 442.0 272.32 444.9 273.58 440.0 271.09 443.1 272.51 438.7 273.92 431.6 275.69 436.8 272.25 429.8 274.89 431.3 276.16 435.2 275.04 430.0 274.57 428.6 274.74 438.1 273.55 434.1 276.89 434.1 273.81 435.6 275.60 427.9 275.46 435.1 276.69 430.0 275.94 436.1 278.27 435.6 274.83 434.2 274.80 441.3 277.38 434.5 276.02 436.2 278.72 434.4 278.96 435.2 279.37 439.5 277.40 443.4 278.05 434.6 278.60 432.2 279.63 432.0 279.69 432.6 280.79 439.3 279.57 430.4 282.76 426.7 281.04 420.0 281.50 431.7 278.41 432.9 280.36 431.3 282.83 432.1 281.28 433.0 281.50 429.3 281.07 433.1 282.44 428.3 283.84 431.9 283.23 444.8 284.84 435.9 282.62 434.5 284.66 433.3 284.40 434.2 284.66 440.5 283.00 430.6 284.94 434.6 285.50 433.4 283.62 440.2 287.79 437.7 285.92 432.0 284.67 426.3 287.84 438.9 285.39 441.8 287.36 433.1 285.26 442.9 288.79 429.2 288.13 429.8 287.85 427.9 287.21 439.5 287.09 434.9 290.40 440.5 288.65 423.9 290.60 440.6 288.25 438.3 289.72 445.8 288.62 441.0 290.70 431.9 288.11 446.8 291.62 439.8 289.41 445.6 291.67 435.5 291.57 442.1 291.58 445.1 291.87 445.9 294.19 445.0 291.16 435.7 291.81 440.2 294.24 437.2 293.95 443.9 295.02 434.3 294.10 450.9 293.40 439.4 294.11 447.3 294.99 439.3 295.59 455.1 295.24 453.4 294.26 437.0 295.20 437.6 297.63 447.6 295.03 438.7 297.85 445.8 294.77 451.7 295.60 442.8 295.14 445.3 298.35 446.1 296.93 449.1 297.49 453.4 299.51 452.4 298.72 443.8 296.81 444.9 297.45 452.0 296.92 457.4 300.13 449.3 299.29 448.4 298.57 451.5 299.87 452.2 300.90 454.7 301.54 453.4 303.37 455.9 300.12 452.2 302.26 460.2 302.64 459.9 302.14 458.7 298.83 457.8 300.58 455.2 304.72 453.1 301.73 460.3 303.23 458.6 302.22 458.7 305.84 467.3 304.82 459.8 303.00 467.9 302.87 471.1 305.35 468.1 306.12 461.9 304.63 465.7 306.24 463.0 305.71 465.5 305.96 466.4 306.31 459.5 304.60 465.5 305.65 467.6 307.17 469.7 307.02 468.7 309.04 468.2 305.90 466.9 308.28 473.8 310.93 466.7 308.95 466.9 309.53 470.0 308.31 469.3 308.62 465.0 309.85 474.2 308.54 476.4 308.35 472.9 308.38 472.6 308.73 473.9 311.78 477.4 311.72 469.5 312.27 474.7 311.53 479.7 311.89 471.4 310.35 478.6 311.83 467.4 313.11 480.5 311.70 484.3 310.70 480.9 313.65 479.9 311.87 474.0 314.34 474.6 313.33 474.7 313.18 481.8 313.48 479.1 313.90 485.2 315.41 479.8 315.69 484.5 316.28 483.6 315.81 482.1 315.74 480.6 316.62 486.5 315.72 473.6 315.55 494.5 316.43 482.6 316.37 487.4 315.14 494.3 315.99 480.7 318.25 482.8 317.87 491.8 317.71 482.3 318.73 487.8 319.11 487.9 320.31 490.5 320.01 488.9 319.51 493.2 320.11 487.6 320.25 491.0 318.00 485.9 322.49 494.4 319.45 485.1 321.77 494.9 320.65 490.9 320.51 500.3 323.12 495.9 320.93 496.7 321.64 493.0 319.51 497.5 323.35 500.2 322.32 499.2 322.12 504.8 324.48 498.0 323.45 506.7 320.81 493.1 324.84 497.3 323.11 499.3 323.65 499.5 323.84 502.9 323.12 499.8 324.60 496.6 325.45 500.5 326.90 497.4 327.64 502.7 325.64 504.2 328.74 489.0 326.68 507.7 328.77 501.2 327.76 504.5 327.78 506.3 325.15 505.5 329.59 510.2 326.61 511.8 329.42 495.8 326.87 517.2 326.82 506.6 327.51 508.9 328.01 507.8 328.57 505.2 330.47 508.5 330.99 509.8 331.26 510.6 332.22 514.3 331.97 513.1 331.99 508.2 331.79 516.9 333.50 514.4 332.16 509.7 330.15 514.7 331.67 516.4 334.45 512.6 332.88 513.3 332.81 504.1 335.06 506.5 334.10 512.6 334.33 513.7 334.48 518.2 336.46 509.6 335.34 512.1 335.42 515.2 335.76 511.6 335.08 511.8 335.76 520.8 338.42 517.0 336.58 522.7 338.25 513.4 336.30 521.2 336.83 521.6 336.61 526.2 337.81 519.5 339.26 524.4 337.77 523.7 338.13 520.0 337.07 515.2 340.02 517.6 340.17 518.3 339.70 520.1 341.11 524.1 340.77 525.7 340.03 518.2 338.52 524.4 340.55 525.1 339.86 526.2 341.64 519.5 342.55 519.2 341.28 527.1 339.94 524.2 343.55 524.7 343.42 531.3 343.79 523.3 341.46 520.8 342.75 524.0 344.47 532.6 344.94 526.7 345.00 530.0 341.80 530.2 346.43 536.4 343.93 526.2 344.19 530.8 346.16 530.8 344.94 529.2 345.11 531.2 346.10 524.4 346.08 532.7 346.45 526.5 346.22 535.4 345.75 531.6 346.62 526.2 347.10 530.8 347.32 535.5 348.58 530.1 350.34 525.6 347.01 532.9 348.88 534.0 349.39 534.1 347.96 535.6 348.91 539.6 349.25 539.2 349.75 540.1 349.82 535.5 349.99 543.1 351.64 531.2 349.32 532.1 351.85 533.5 352.39 537.1 352.35 539.0 350.34 534.9 350.47 538.9 352.00 542.5 351.85 541.2 351.92 541.3 354.63 544.2 352.35 545.7 354.66 538.3 355.52 540.8 355.91 536.2 356.82 539.2 356.00 539.5 355.23 541.4 353.59 537.2 355.25 542.9 355.26 544.2 358.01 540.3 357.15 543.0 356.55 547.9 355.21 548.1 355.62 543.0 356.85 544.8 357.80 546.4 358.89 549.6 358.52 551.2 358.36 546.9 359.52 547.6 357.46 550.3 358.26 548.1 358.47 551.7 359.67 546.2 360.35 548.9 359.56 557.7 358.23 552.8 360.58 549.3 359.36 556.7 361.54 554.0 358.59 554.1 363.70 555.0 360.53 561.8 363.97 553.7 362.99 552.3 364.09 557.8 363.96 558.5 362.12 553.3 362.51 555.4 362.53 562.5 362.49 559.8 365.32 562.5 363.05 556.9 363.91 558.3 362.44 554.6 365.24 551.2 363.36 562.0 368.18 555.2 365.52 559.0 365.66 556.6 366.61 559.4 365.45 557.8 366.09 566.0 366.88 560.4 367.36 558.5 368.12 560.7 367.59 552.5 365.43 563.0 367.68 558.8 367.39 565.2 368.21 558.0 369.07 566.6 369.00 554.2 371.79 560.1 369.19 566.3 368.83 565.1 370.10 561.6 370.51 566.5 372.28 561.0 370.05 567.4 371.82 569.4 371.83 570.1 371.83 561.7 372.03 570.0 372.36 570.1 370.89 566.7 371.92 567.1 373.13 567.9 374.91 565.2 374.44 566.0 373.96 569.0 374.21 570.4 374.50 567.8 375.02 562.3 375.70 570.1 373.10 562.0 374.76 572.8 378.00 571.4 376.64 566.3 375.65 572.5 375.48 572.6 376.49 568.6 375.10 565.5 376.09 574.1 378.12 571.4 378.45 569.6 378.03 574.1 378.13 569.4 377.86 575.3 376.99 577.3 377.61 570.2 378.29 570.7 379.05 575.2 378.21 573.2 378.53 567.4 381.46 577.0 379.90 572.2 381.51 577.6 380.66 569.9 379.99 575.5 380.80 576.0 379.90 576.5 382.71 572.2 382.90 570.5 383.10 577.6 382.73 579.0 382.21 576.4 382.03 577.8 384.09 574.2 383.25 573.3 383.18 580.7 383.48 581.9 384.23 583.2 383.76 578.8 384.71 574.9 385.88 569.6 386.31 579.2 384.72 581.9 386.12 580.7 385.71 580.9 384.97 575.6 384.64 582.9 387.36 583.9 389.19 587.7 387.93 584.0 389.11 585.1 390.05 574.6 389.79 576.1 387.24 576.6 388.85 583.6 388.28 581.1 386.95 578.1 390.33 578.7 388.82 583.4 391.23 576.7 389.60 583.3 390.21 583.6 389.93 588.8 390.65 582.8 392.03 577.2 391.51 587.2 391.79 583.8 391.52 583.1 392.68 581.5 391.04 584.5 392.72 581.8 393.30 582.8 392.32 582.8 394.73 588.0 393.63 586.9 392.11 581.0 393.66 585.1 394.90 583.6 394.57 586.0 392.70 587.1 395.55 584.9 394.43 589.6 395.50 589.7 393.12 583.3 397.93 586.4 398.17 583.3 396.43 582.0 394.82 582.6 397.36 583.4 399.62 583.9 398.87 588.5 400.47 588.3 396.27 585.3 399.78 584.7 398.03 588.3 398.25 589.3 399.83 591.9 399.39 588.7 398.16 589.6 397.23 583.8 399.51 587.4 399.28 590.0 403.30 586.6 399.68 586.4 402.63 595.5 400.54 591.9 403.16 589.1 402.69 592.1 403.77 590.2 402.76 587.5 403.57 589.1 402.47 589.0 401.75 592.5 405.18 589.2 405.79 589.7 404.45 586.5 406.60 586.7 403.11 589.6 404.46 589.9 404.04 592.0 405.74 592.0 403.91 591.2 405.83 587.7 406.62 592.2 407.84 586.5 406.53 591.5 409.16 592.6 405.60 595.2 407.67 589.9 409.45 591.7 405.92 591.4 407.59 587.1 408.25 594.1 409.83 590.3 409.53 593.7 407.51 588.3 408.38 593.3 408.93 593.9 410.72 592.1 411.65 598.2 410.05 592.9 409.08 594.6 408.96 586.7 411.54 594.7 412.48 587.8 410.73 589.3 410.13 590.1 410.51 591.3 412.18 597.8 410.08 592.1 411.64 593.0 412.64 591.1 410.81 592.6 413.59 588.0 412.35 593.9 414.78 593.9 411.51 588.9 415.43 587.3 412.65 591.0 414.81 593.6 415.79 590.5 414.74 588.4 415.72 594.6 415.69 588.8 415.72 595.6 417.67 597.0 415.13 588.2 417.62 595.4 418.98 595.6 418.17 595.6 416.42 598.1 418.20 598.9 418.80 595.2 419.18 595.3 416.23 594.4 416.27 593.8 420.73 598.0 420.03 597.1 419.83 595.2 419.48 599.5 420.97 599.2 421.99 598.5 421.41 595.5 419.91 595.9 421.32 600.4 423.64 598.9 421.46 597.1 420.73 593.5 423.30 594.3 421.68 595.4 422.65 594.9 424.88 598.1 424.45 597.4 422.16 589.9 424.64 595.6 425.20 596.6 425.82 591.9 424.37 590.7 424.78 594.5 427.05 594.3 423.11 598.8 424.20 594.8 424.52 597.5 426.80 598.7 427.04 598.1 426.50 593.1 427.82 594.9 426.16 593.1 426.17 591.9 427.04 597.2 425.34 590.6 426.24 590.9 428.33 591.0 428.06 594.1 427.68 593.7 430.09 595.3 429.72 595.5 429.38 584.8 429.60 590.7 431.13 593.3 432.85 595.4 429.30 595.5 430.38 590.0 430.18 591.9 431.52 588.6 429.91 595.3 431.37 592.9 433.71 594.5 431.77 592.9 431.06 590.4 433.15 588.3 433.68 597.8 432.34 588.0 434.87 588.9 433.70 596.2 435.35 589.6 434.95 594.1 434.31 596.4 434.13 596.3 435.73 594.5 434.02 593.4 433.67 595.8 437.60 593.3 434.32 594.1 435.50 591.6 435.77 591.1 436.48 588.1 435.23 596.2 435.88 592.5 438.06 597.3 437.87 587.1 435.56 587.1 439.03 590.3 439.04 588.7 438.32 590.6 437.23 589.3 440.88 589.6 442.32 591.0 438.89 595.2 437.51 592.6 442.67 588.2 440.54 590.3 441.18 589.8 441.36 595.2 440.07 584.2 440.89 587.9 440.98 591.2 442.12 588.0 441.54 593.0 443.94 587.6 442.38 589.6 444.35 592.1 441.56 594.8 443.39 593.1 443.79 588.2 442.82 592.5 444.58 586.5 444.13 588.0 446.51 592.2 446.31 584.7 445.24 592.2 444.72 585.2 445.60 590.5 447.40 588.5 446.46 589.7 446.08 589.0 446.01 583.7 444.53 587.6 448.25 589.6 446.54 586.7 447.67 589.5 448.22 583.1 447.15 584.9 447.90 590.8 448.91 587.3 450.54 586.9 448.89 587.3 449.04 590.0 449.47 584.1 449.29 588.4 451.09 585.9 448.92 585.6 450.38 582.7 450.76 589.8 452.01 586.5 451.88 583.9 450.71 584.5 451.29 582.9 450.57 587.6 452.09 580.5 452.32 583.0 450.99 583.9 453.24 584.7 456.01 581.6 453.86 581.4 453.17 586.4 453.29 588.6 455.77 581.0 454.44 582.4 453.96 582.0 453.15 580.9 456.38 585.3 452.75 575.7 456.10 578.4 455.03 581.3 457.55 583.1 456.34 583.4 456.08 584.0 458.41 583.9 455.61 581.2 458.46 581.3 458.61 583.1 455.17 585.0 457.01 584.7 457.31 580.6 458.13 579.9 459.07 585.3 458.94 583.3 460.19 585.6 459.11 581.1 458.12 580.0 457.34 582.5 459.05 575.9 459.79 582.9 459.90 578.9 461.81 578.6 461.30 580.2 459.65 576.4 460.90 578.2 461.58 584.1 465.31 576.0 463.45 580.0 462.53 576.4 463.69 582.9 464.66 584.8 462.34 573.1 466.03 580.2 463.13 579.8 465.41 581.4 466.75 582.0 465.11 580.1 466.04 580.9 464.27 576.6 467.36 584.2 467.11 580.5 468.70 575.2 467.70 577.5 466.02 577.8 465.98 574.3 466.18 575.9 466.58 575.0 469.27 580.5 466.02 583.0 466.56 578.4 467.31 581.8 466.77 574.0 467.64 577.5 470.28 576.0 468.82 579.4 469.80 574.7 469.52 576.4 470.69 576.3 471.68 575.3 471.26 573.2 471.10 578.7 470.24 573.2 469.85 576.8 471.94 571.8 472.49 571.4 473.20 572.6 472.62 572.9 471.70 578.6 471.94 573.0 473.82 573.8 472.78 573.4 472.43 576.5 472.10 578.1 473.03 573.2 475.22 574.1 475.25 578.7 476.70 579.1 475.74 575.3 475.76 574.5 476.99 567.4 477.37 572.7 475.92 578.3 473.05 573.1 476.39 568.4 475.90 573.4 478.64 572.4 477.62 576.1 476.71 573.8 476.15 574.6 478.66 578.8 479.65 572.7 476.71 571.3 479.19 574.0 478.19 574.7 479.59 570.0 482.11 575.4 478.14 568.4 480.66 570.4 482.45 574.9 480.43 577.6 479.30 572.4 477.82 576.0 480.17 572.6 481.91 570.2 480.53 571.9 483.69 575.1 479.38 574.8 480.80 577.9 483.32 574.2 483.00 577.1 484.01 577.5 483.93 569.7 482.76 569.4 483.37 572.2 485.93 576.3 484.74 576.9 486.11 570.7 485.40 571.5 486.72 569.6 486.13 570.8 485.30 580.1 484.55 572.5 487.53 569.0 485.92 569.7 484.72 567.1 488.61 575.2 487.62 572.4 487.73 579.5 486.24 578.0 488.88 569.4 488.12 568.2 486.93 568.2 487.98 575.5 487.59 581.3 491.14 571.3 488.94 570.8 490.26 571.6 491.50 569.7 492.71 566.8 489.85 570.3 489.48 568.0 492.19 571.9 492.26 571.1 494.59 570.8 491.41 573.6 494.09 567.9 493.70 575.5 492.83 574.5 489.15 574.9 493.26 570.0 493.01 572.2 491.07 575.8 494.83 573.3 493.19 567.3 493.09 573.5 494.29 570.9 496.24 571.3 497.47 571.7 496.63 567.4 496.23 569.6 496.21 568.6 494.15 569.4 495.09 573.4 496.45 574.8 496.81 573.5 496.27 574.5 499.40 571.7 499.23 571.2 496.96 569.5 499.42 574.5 498.61 572.0 501.71 573.4 500.33 572.8 500.27 577.5 500.16 569.5 500.97 571.2 500.05 568.6 502.50 570.1 500.39 574.1 498.77 571.4 500.90 565.0 502.13 569.2 499.66 572.7 499.70 572.2 501.63 570.6 503.75 573.8 503.33 571.5 499.35 572.1 503.73 574.3 502.69 574.0 502.44 567.0 503.73 571.2 506.83 576.1 502.56 572.8 504.13 575.8 501.97 571.0 505.59 574.6 505.60 572.2 505.77 571.8 506.21 573.0 504.39 575.7 506.03 570.6 506.11 572.3 505.52 570.9 507.85 571.8 507.91 572.6 506.17 572.2 507.75 573.0 508.44 576.7 508.44 570.3 509.10 566.5 508.68 578.1 508.55 579.0 507.50 569.4 508.35 572.0 509.73 576.1 509.97 573.1 508.57 571.9 510.14 570.8 511.25 568.4 512.48 577.5 511.83 573.5 511.32 568.5 512.62 575.5 509.93 577.0 512.43 574.5 511.38 575.4 514.81 569.9 511.47 575.9 513.94 573.6 515.76 573.0 513.05 572.1 513.06 575.3 514.07 583.2 513.98 574.2 513.40 575.1 514.02 574.8 516.04 575.0 516.10 580.4 514.43 578.2 514.55 581.8 516.28 581.0 516.84 570.9 516.70 579.4 517.04 576.0 519.52 571.6 518.79 572.3 518.50 575.9 517.18 580.5 520.23 579.3 518.23 577.5 518.97 574.5 515.91 576.7 520.25 578.2 517.40 578.9 518.91 576.2 521.23 571.9 519.87 574.8 519.47 579.2 521.60 577.6 522.21 579.9 521.48 579.9 522.30 575.8 520.41 579.4 522.11 581.4 521.61 575.8 520.00 576.2 523.01 581.6 522.32 577.4 522.70 579.0 523.47 578.3 523.38 578.8 524.87 578.6 523.49 582.6 525.12 580.0 523.97 579.6 525.49 580.8 525.12 578.8 526.36 577.1 528.57 576.2 525.98 585.5 527.01 578.3 525.28 577.4 526.11 582.5 527.32 582.8 528.63 582.6 526.07 582.8 527.45 577.7 529.49 587.1 526.07 584.7 529.03 580.5 528.39 580.3 531.20 574.3 528.91 578.7 528.25 584.2 531.45 584.6 531.79 580.6 530.80 579.2 532.76 581.8 530.28 581.1 531.14 581.8 530.37 584.3 530.39 574.6 532.10 582.3 531.59 577.6 534.37 584.2 531.60 579.9 532.93 577.7 530.27 584.2 533.40 585.0 532.80 580.8 533.00 587.5 534.16 581.7 533.87 581.7 533.07 583.4 535.48 582.8 535.04 581.5 534.43 588.3 537.25 582.8 535.60 585.5 536.95 582.3 537.23 581.9 535.98 582.2 537.07 580.6 536.71 587.3 536.12 580.3 536.95 584.4 539.77 585.5 538.04 579.0 540.18 586.1 539.37 581.9 536.92 583.2 538.75 581.6 540.09 587.0 539.53 580.6 540.18 581.9 540.31 585.9 539.30 591.6 541.57 588.5 543.01 589.1 540.41 582.7 540.85 589.4 541.70 585.3 542.75 585.3 541.63 594.2 543.46 590.9 542.12 587.4 541.94 583.7 540.66 587.6 543.76 589.8 544.58 588.0 542.77 591.3 544.09 586.2 543.31 589.4 543.47 590.8 546.65 587.7 546.21 586.6 542.83 592.4 546.48 588.9 546.07 589.8 548.15 586.4 546.62 589.8 546.74 590.1 545.70 590.3 546.70 589.6 546.80 590.1 545.60 588.9 548.62 590.4 547.29 588.7 548.37 588.6 549.18 594.5 546.38 582.6 548.36 585.4 548.13 590.2 548.56 589.0 548.04 597.6 549.90 593.2 548.35 594.8 549.52 588.9 549.77 589.8 550.03 587.0 550.70 589.5 551.16 593.5 551.80 589.1 554.20 594.0 551.17 592.4 551.97 587.9 551.66 588.9 554.86 590.8 550.85 593.8 551.90 589.7 554.51 589.7 554.16 591.5 552.24 592.3 555.59 592.7 553.25 594.4 553.57 587.6 556.63 591.7 556.89 594.1 556.65 597.3 556.06 594.7 557.00 592.7 555.35 593.6 558.92 590.7 554.71 595.0 557.81 590.1 558.97 590.6 556.40 591.4 557.45 593.7 558.53 596.4 560.48 593.3 559.84 597.9 560.29 596.9 559.07 597.6 560.01 596.0 560.35 595.1 561.73 594.2 558.50 596.8 560.59 594.8 560.56 592.9 560.40 596.5 563.42 597.2 560.50 594.0 562.35 592.5 562.13 594.4 562.93 589.7 561.49 597.6 561.19 594.0 565.46 597.6 564.48 596.8 563.25 594.3 562.76 595.2 564.06 589.4 564.11 594.8 563.92 591.9 565.60 597.5 565.26 594.6 564.98 596.7 565.74 594.1 564.92 592.7 566.63 593.0 566.56 599.0 564.02 596.8 567.48 595.4 566.37 596.3 566.96 593.5 568.22 596.1 567.65 594.5 568.42 601.8 566.55 593.1 569.83 596.2 568.38 592.6 570.35 592.3 569.40 591.6 569.75 600.2 571.11 598.0 570.90 599.6 570.28 598.6 571.11 595.6 573.21 593.3 571.09 594.0 570.87 592.5 572.34 595.5 570.22 595.0 572.47 595.1 572.01 600.8 572.93 592.8 569.99 596.9 574.19 594.4 573.55 595.7 572.59 595.9 574.90 600.1 573.40 595.1 572.58 597.3 573.02 602.1 574.42 602.1 574.40 598.8 575.08 598.9 574.80 602.5 576.23 599.6 576.82 596.9 575.04 595.9 577.88 595.7 575.62 598.4 577.84 597.5 578.26 601.9 577.39 596.5 577.10 601.0 576.68 599.0 580.60 598.6 576.60 600.8 578.55 598.4 578.87 598.1 580.57 593.7 580.38 597.5 579.47 594.9 579.13 598.5 582.76 598.0 580.21 597.7 579.75 595.6 582.94 596.7 580.88 601.8 580.09 600.8 582.37 597.6 581.48 601.9 579.52 597.9 582.01 594.1 583.09 597.8 581.04 598.1 582.98 596.2 584.86 597.0 583.20 599.5 582.56 596.5 583.13 598.5 585.36 599.9 584.01 596.2 585.46 597.6 585.00 596.2 584.39 600.4 586.77 603.1 588.06 600.9 584.85 594.2 586.81 601.7 587.14 596.9 587.29 599.7 587.38 596.3 589.46 604.6 590.84 600.4 588.35 598.2 588.20 600.2 589.63 603.9 587.98 595.2 588.23 602.2 590.02 599.9 590.82 594.9 590.14 600.5 590.73 601.6 587.64 599.0 589.39 596.9 590.63 597.9 591.91 600.2 589.96 602.5 592.09 600.7 591.71 602.4 592.61 597.4 591.95 596.8 593.80 603.9 591.97 605.0 594.84 599.4 592.75 600.7 594.17 600.5 592.40 602.5 593.17 602.0 594.71 601.3 591.82 600.3 594.86 595.3 595.08 604.5 599.23 597.1 595.52 598.0 597.94 595.7 596.00 598.7 595.64 597.5 598.09 598.9 597.46 597.7 599.12 601.6 595.91 601.1 595.83 596.7 599.21 603.2 599.68 598.0 599.80 606.1 598.54 600.6 600.30 601.2 599.20 600.1 598.73 602.1 599.59 607.9 597.79 601.4 601.22 601.2 601.43 599.7 599.69 599.0 599.06 603.1 601.65 603.7 602.86 598.6 598.91 600.1 601.58 599.7 601.45 598.9 604.21 600.7 604.60 598.6 601.27 598.2 602.34 607.6 601.13 594.6 603.64 599.6 604.23 601.8 605.58 598.5 601.99 597.2 602.42 601.3 605.17 601.9 605.37 603.3 604.43 595.8 605.52 600.2 606.38 602.6 605.82 605.5 608.35 603.1 608.73 597.8 607.40 601.1 606.82 600.3 605.81 601.8 607.11 602.8 607.26 604.9 604.24 598.9 608.10 603.0 608.90 599.9 608.69 598.9 607.03 598.9 607.39 599.1 610.07 602.5 610.77 602.0 608.88 593.9 608.36 600.7 609.65 602.6 610.78 602.3 613.36 602.9 612.26 600.1 611.99 602.1 611.04 595.7 611.94 600.3 610.96 598.1 613.59 596.2 612.93 596.3 611.86 599.5 613.39 601.5 615.62 595.1 612.93 599.8 612.69 601.9 613.91 598.8 614.47 602.9 615.21 599.2 614.95 602.2 616.27 601.4 615.58 604.4 616.27 604.6 618.19 597.6 614.80 604.0 615.29 605.2 616.99 595.7 615.84 604.8 616.51 602.3 620.55 598.4 616.59 604.6 616.98 602.2 618.94 599.4 618.63 599.9 616.68 600.3 619.43 600.9 621.02 600.8 619.34 600.3 620.38 598.5 619.91 600.9 619.10 602.3 619.44 603.6 621.58 599.5 621.56 598.8 619.20 597.0 622.66 604.6 622.18 603.6 622.73 597.2 623.49 595.4 620.43 600.5 622.26 598.2 622.14 602.0 622.26 606.1 623.34 600.3 624.32 597.3 623.72 603.0 626.77 603.2 623.16 602.1 628.22 601.0 625.28 600.0 627.58 601.5 626.10 595.9 624.78 601.0 625.82 600.3 625.61 601.7 627.42 594.1 627.12 600.9 625.56 601.2 630.15 598.1 628.80 600.9 625.75 597.8 626.96 600.6 627.77 595.2 628.66 598.4 628.97 600.2 628.50 598.9 631.36 601.7 627.66 600.8 630.39 595.7 630.20 598.3 631.84 602.1 630.01 600.7 630.63 602.6 633.44 598.8 631.59 600.3 631.46 601.4 631.52 595.9 631.52 599.9 630.58 595.3 630.83 599.6 632.11 602.5 632.99 600.6 634.26 599.9 633.00 599.3 633.20 601.7 633.99 597.2 633.50 605.2 634.42 601.3 636.11 601.3 633.94 601.6 633.65 598.1 634.78 602.4 635.71 601.2 634.69 598.4 637.07 599.0 639.00 598.7 637.99 597.0 638.72 593.9 639.20 598.8 638.57 600.2 637.98 602.9 638.29 600.5 636.40 604.0 636.94 599.2 637.96 599.4 637.67 599.7 638.34 598.5 640.07 602.3 639.64 596.9 639.64 599.7 642.69 599.8 639.91 598.8 640.60 606.1 642.23 600.6 640.96 598.3 642.91 602.6 640.82 599.5 643.79 600.7 642.74 597.5 640.42 594.3 642.57 604.6 643.69 600.3 642.77 598.1 644.03 596.2 643.22 597.4 644.71 597.8 644.01 598.4 645.89 593.2 645.45 597.2 646.32 602.6 646.45 600.8 645.05 603.4 645.53 600.1 646.55 597.3 647.80 602.4 647.25 597.6 645.31 599.4 648.60 599.6 647.84 599.3 649.19 594.3 646.74 602.1 647.50 596.7 647.57 599.9 647.14 596.9 650.60 598.8 648.83 600.8 648.36 594.0 647.94 594.5 649.01 601.1 651.01 596.3 651.87 596.5 651.38 602.0 650.40 600.5 651.28 599.1 649.15 601.4 649.84 597.6 651.60 600.9 652.41 600.8 652.12 600.7 652.80 598.4 652.10 601.9 652.64 602.8 653.41 603.9 653.05 597.9 653.16 597.9 653.69 601.9 656.27 599.2 653.32 604.8 657.40 600.2 653.97 599.4 656.37 596.2 657.02 600.9 657.50 598.2 655.63 603.0 652.97 601.2 655.41 601.3 657.12 600.2 659.92 597.0 656.92 599.9 658.08 598.2 658.41 600.3 660.27 598.8 659.21 603.2 660.66 603.1 658.09 599.7 657.20 600.8 659.27 599.7 658.51 601.4 660.77 607.6 660.04 600.2 661.54 593.3 659.33 603.1 660.13 600.5 660.54 598.8 662.72 598.1 661.27 602.5 661.71 598.6 663.93 603.6 661.59 601.5 662.01 598.3 664.78 601.1 660.22 603.1 664.76 599.6 663.17 597.2 663.61 601.4 664.13 607.6 664.60 599.9 664.48 599.9 666.59 598.9 662.46 605.2 662.53 601.2 665.76 601.8 664.00 603.0 665.64 602.8 665.71 597.5 666.27 603.8 667.34 599.0 664.04 597.9 666.04 600.9 669.36 602.8 667.05 601.5 667.22 600.0 671.43 599.9 668.85 602.8 667.53 601.3 669.60 598.9 669.92 598.1 668.01 601.2 670.65 601.3 669.58 596.6 667.81 601.9 671.39 604.1 671.60 605.8 671.58 604.8 671.76 601.1 670.68 600.7 671.14 604.1 670.74 600.2 673.42 600.5 673.12 608.9 674.92 598.6 673.48 603.1 672.61 599.2 672.63 604.6 672.51 600.6 672.81 604.2 677.77 605.2 672.04 605.0 673.30 607.2 672.96 608.4 676.37 600.5 675.71 601.9 675.46 607.3 677.08 604.7 675.69 605.6 676.98 604.8 678.82 606.6 676.87 603.7 677.04 608.0 678.13 606.0 678.71 609.7 679.01 602.1 677.90 602.3 678.96 604.6 678.86 601.4 680.25 601.8 678.89 603.8 679.18 603.3 678.49 610.4 679.43 603.1 679.41 606.1 680.93 604.3 682.28 602.9 680.44 606.5 683.71 608.6 681.25 609.3 683.30 605.4 682.78 609.3 681.57 607.5 682.43 605.7 680.85 608.6 683.62 605.0 685.58 610.2 683.90 603.4 686.01 603.8 684.05 600.9 684.03 607.6 684.69 604.7 684.32 605.3 685.48 608.1 687.60 610.7 685.70 607.0 685.20 603.4 686.08 611.4 687.46 604.7 686.37 608.0 684.62 609.0 685.93 610.4 689.24 608.0 687.44 610.6 689.34 609.7 688.02 608.9 687.43 607.8 688.82 608.8 690.05 606.1 688.72 606.2 687.67 609.2 689.13 613.6 688.95 604.2 691.44 608.6 689.13 610.4 689.22 606.6 688.99 607.8 691.00 610.9 690.67 605.0 691.08 610.4 692.26 610.5 691.79 609.3 695.28 611.6 694.64 610.6 691.98 609.1 695.35 609.7 693.41 605.6 694.07 606.5 692.60 612.0 694.72 610.2 695.65 611.6 695.37 612.7 695.32 608.0 696.36 617.2 696.19 607.1 693.75 613.3 695.68 606.6 696.66 611.8 695.56 609.9 699.21 607.3 697.54 609.4 697.10 609.6 697.66 609.0 698.24 610.3 697.42 609.3 697.31 611.3 696.29 613.6 699.83 609.2 699.16 607.9 697.55 616.7 700.62 608.1 699.72 607.0 699.29 614.1 699.04 608.4 702.74 612.1 701.95 610.4 701.56 608.9 701.81 612.6 701.34 608.3 701.61 613.2 703.90 606.3 701.55 612.3 701.64 611.4 703.90 609.4 700.68 605.9 702.54 610.1 702.53 611.7 703.58 611.9 702.20 614.9 703.64 614.4 703.84 609.7 704.83 610.2 705.81 608.8 706.81 611.5 705.72 612.3 705.09 613.0 705.11 610.7 705.67 614.1 709.02 610.4 708.53 612.7 708.37 616.3 708.06 611.0 706.20 612.2 709.14 607.3 707.79 615.1 707.01 615.4 707.24 613.8 709.05 614.6 708.16 609.4 711.24 615.4 711.10 615.2 710.70 617.7 710.62 612.1 711.27 613.2 708.02 610.2 709.06 609.6 711.09 614.8 710.76 613.7 708.86 611.6 712.10 615.2 711.34 617.0 710.98 612.4 713.49 615.4 714.12 614.4 712.05 614.8 713.10 617.0 713.80 613.4 713.31 615.6 714.17 609.9 712.68 615.4 713.38 619.7 715.15 618.9 714.90 616.8 717.53 612.3 714.78 616.3 715.34 614.8 716.26 613.9 716.87 615.5 716.80 615.6 718.29 617.8 717.35 615.0 718.36 610.4 716.81 614.5 718.95 618.7 718.47 615.4 716.39 617.4 719.80 617.0 719.77 615.4 717.88 617.9 719.53 618.6 721.08 618.8 719.44 613.6 721.64 616.2 719.89 616.4 721.98 616.9 721.02 612.9 717.59 614.5 721.15 617.6 721.01 619.0 722.04 616.3 721.17 614.0 723.47 620.7 722.75 618.0 722.64 619.2 722.72 616.1 722.99 616.6 722.41 617.2 723.98 617.8 722.73 613.9 723.35 616.3 722.93 610.7 726.02 617.7 726.43 613.9 724.20 621.2 724.83 619.2 723.75 619.7 723.94 619.9 726.68 619.1 729.02 616.7 725.77 617.1 727.77 617.9 725.32 615.9 729.46 615.6 730.42 619.3 727.97 622.9 728.67 618.3 730.77 615.3 729.21 612.8 727.44 612.8 729.62 615.4 727.65 619.2 730.75 617.2 730.48 615.1 731.66 617.8 730.96 617.5 731.46 619.7 730.62 619.3 731.92 618.1 731.29 615.3 731.18 615.3 735.22 617.7 729.86 616.8 732.66 621.1 731.90 621.1 732.34 614.9 733.29 621.6 733.61 615.7 735.00 618.5 731.78 620.2 734.78 615.7 734.23 618.6 736.00 617.9 733.64 620.7 732.26 617.8 735.28 616.8 735.12 620.5 734.93 619.7 735.48 620.7 737.53 618.2 736.14 615.9 738.32 621.5 737.90 619.8 736.28 624.9 734.71 619.0 738.65 614.7 736.60 618.0 736.82 620.0 739.28 614.8 740.26 616.4 740.55 619.0 738.85 618.0 739.31 620.2 738.44 617.7 740.03 624.3 740.62 617.7 742.81 619.4 740.63 616.8 739.84 619.1 742.48 619.4 740.55 617.4 740.34 616.3 742.11 624.0 742.42 618.4 742.49 618.7 741.35 616.2 742.74 623.9 741.72 616.9 741.50 619.3 744.36 619.4 745.56 622.2 744.69 617.0 746.15 620.3 745.49 620.2 747.72 618.5 744.51 616.9 745.32 616.3 745.58 618.8 746.76 618.0 747.38 620.1 745.78 622.1 745.30 620.2 744.84 621.0 744.84 617.0 748.43 614.7 746.39 619.4 749.26 621.1 747.92 618.2 749.47 616.4 749.81 618.3 749.98 619.2 750.58 621.1 749.12 618.3 750.60 619.9 749.64 618.5 749.21 613.2 750.37 621.7 751.30 617.9 750.27 623.6 752.85 623.6 750.24 618.5 750.19 619.0 750.99 621.2 753.46 620.0 752.20 623.3 753.22 623.5 753.58 616.3 751.53 614.9 753.29 622.1 754.81 623.7 754.95 619.4 754.20 618.5 755.12 620.5 755.00 618.6 755.89 614.1 753.24 615.7 754.12 618.2 757.22 622.0 755.93 618.5 754.81 619.7 756.88 616.5 756.95 622.1 755.75 615.2 757.31 621.4 757.18 620.4 758.61 620.2 757.89 620.0 758.46 620.1 759.43 619.1 759.07 621.1 758.25 625.5 757.84 621.1 758.46 616.0 758.80 619.0 759.76 622.0 759.85 621.4 760.00 621.3 759.79 620.0 762.51 619.5 761.05 618.7 759.83 617.1 761.80 622.1 763.10 622.3 762.19 626.4 762.96 622.6 761.61 620.5 763.97 623.4 764.03 623.1 764.86 617.7 764.23 621.7 766.59 622.7 765.59 618.9 765.98 619.9 766.37 620.2 763.79 623.4 766.17 619.8 766.70 622.5 766.94 617.7 765.62 623.8 765.12 623.6 765.78 625.0 765.19 621.6 767.40 620.6 766.35 617.7 767.58 623.6 767.78 624.7 767.73 621.8 767.30 621.5 767.60 619.6 770.22 625.1 767.16 620.7 769.52 623.4 768.35 617.1 768.88 622.2 769.68 622.2 772.69 623.9 770.97 625.1 771.57 620.2 771.92 620.0 772.48 623.2 771.98 624.3 773.54 617.7 772.36 619.8 771.67 625.8 772.49 620.6 772.75 621.3 774.93 621.3 771.39 623.1 772.63 623.0 773.69 621.1 774.05 626.4 773.97 625.3 773.35 622.7 774.63 621.8 775.26 620.1 773.65 623.3 775.21 619.0 775.70 621.0 775.93 621.7 778.18 622.2 774.94 621.2 777.23 625.8 777.43 621.7 775.57 623.9 778.53 623.2 776.42 621.5 778.21 623.2 777.27 621.7 777.98 620.2 779.47 619.9 780.26 623.0 779.38 620.5 779.76 622.8 779.56 622.4 781.18 623.3 780.88 623.0 777.87 621.5 782.87 623.7 780.03 622.5 779.19 623.4 780.37 622.4 781.43 621.3 781.45 621.2 780.50 621.1 783.09 622.1 782.02 620.4 783.03 623.1 785.28 622.5 783.76 622.2 781.12 621.2 782.55 625.2 783.51 625.5 784.88 624.8 785.96 622.0 784.06 622.9 784.76 624.8 785.72 624.8 786.40 624.3 787.14 624.6 787.44 625.8 785.24 623.0 787.43 620.0 785.82 623.7 787.26 623.3 788.29 626.8 788.44 622.7 787.88 623.0 787.24 623.8 789.47 620.9 789.35 621.0 786.47 620.0 790.71 620.1 790.62 624.7 787.56 625.3 791.59 618.4 791.08 623.3 791.05 623.7 789.44 623.8 790.05 625.3 791.46 617.1 792.40 626.0 792.26 620.7 793.94 617.1 791.73 625.2 790.76 623.8 791.60 619.2 793.81 617.6 794.12 622.6 794.82 626.0 794.54 625.4 795.14 621.5 794.61 621.8 795.33 625.0 796.01 622.5 795.94 621.7 794.61 622.9 794.27 621.2 795.68 618.3 799.02 622.8 796.62 620.8 795.43 625.3 795.82 623.4 796.16 621.4 798.33 619.4 798.83 621.7 796.20 622.9 797.16 621.4 797.48 625.9 795.64 627.0 798.53 624.6 798.72 620.0 799.52 620.8 798.41 617.9 799.17 622.4 800.32 621.9 799.90 623.4 801.78 621.3 802.02 619.6 800.95 624.2 801.47 622.1 801.35 624.1 804.46 626.8 801.23 622.0 800.67 626.4 800.30 622.4 800.89 623.0 803.10 624.9 802.96 618.2 803.13 624.0 800.16 624.0 805.61 624.8 804.82 626.0 802.06 624.1 805.00 623.5 803.75 625.3 808.13 624.7 805.76 627.4 804.78 622.7 804.25 625.7 807.67 625.9 805.48 626.4 805.91 623.6 806.98 623.5 806.91 619.9 805.73 623.5 808.60 619.7 807.46 622.8 809.74 622.4 808.43 622.7 809.54 622.8 810.75 624.2 809.93 626.4 809.11 625.1 808.06 622.3 809.74 622.2 808.49 623.7 809.85 625.3 810.12 621.7 810.89 625.1 812.38 628.3 812.34 624.1 812.55 621.6 811.94 627.2 812.29 625.6 811.17 623.8 814.33 623.7 812.54 625.1 813.79 625.5 813.84 622.5 811.98 625.1 814.85 620.6 813.74 623.6 815.34 622.4 816.63 624.7 814.55 625.8 815.70 627.8 814.84 626.4 816.06 621.6 816.15 624.7 815.78 627.5 816.58 622.0 817.48 624.3 817.45 627.8 818.11 624.6 817.91 622.2 817.30 625.4 816.44 623.4 818.76 625.6 818.67 622.8 819.97 624.6 818.79 623.5 819.72 621.8 819.35 624.0 818.80 631.9 819.29 627.0 816.27 631.7 820.64 622.8 819.56 625.6 821.58 625.9 822.30 623.0 820.66 624.3 821.05 625.9 822.12 629.4 822.44 625.0 823.51 622.0 821.50 627.0 822.79 630.3 825.33 624.7 823.55 625.1 825.78 625.4 824.46 622.5 823.39 622.8 825.31 625.4 825.69 627.4 823.99 626.7 827.83 624.2 826.99 625.3 827.12 628.5 824.14 626.4 825.13 624.8 825.31 628.4 826.39 632.9 827.76 624.6 828.55 623.3 828.62 624.8 826.98 622.3 830.20 623.4 827.57 624.8 827.68 624.7 828.52 624.6 830.83 624.7 826.13 622.3 830.96 626.9 829.15 625.2 829.09 625.0 827.13 626.9 830.19 624.9 829.95 626.7 830.57 632.0 829.92 623.8 831.20 623.5 830.22 624.8 832.02 626.9 833.51 621.8 835.03 626.5 832.10 626.5 834.80 626.5 833.97 624.6 835.29 626.0 832.20 626.4 832.03 626.4 833.53 623.5 834.97 627.1 835.60 623.7 832.07 627.9 835.56 621.5 837.43 626.0 835.30 624.8 837.19 627.1 835.13 624.5 836.94 630.7 835.74 625.2 836.52 628.8 835.23 626.6 838.73 626.5 840.23 629.9 837.27 627.5 838.49 624.3 837.82 626.5 838.42 624.8 839.21 627.5 839.40 626.1 839.47 621.8 840.01 623.8 840.87 625.8 842.94 627.7 841.37 627.9 841.45 621.9 840.18 626.7 840.42 625.3 841.58 625.6 841.72 626.2 842.23 625.2 841.48 624.6 842.42 621.3 842.36 630.2 843.15 625.8 843.16 626.8 844.20 631.8 844.51 629.6 843.54 628.6 845.46 627.6 845.04 624.9 846.58 625.9 842.43 626.9 844.59 629.5 844.82 628.3 847.68 628.5 846.58 628.2 847.04 627.5 846.76 628.1 846.37 622.0 846.72 622.7 847.39 623.1 845.20 626.6 847.20 628.4 847.08 627.7 848.16 628.6 848.01 627.0 847.31 628.2 848.13 623.9 847.54 628.9 848.76 625.0 850.86 626.4 849.21 626.2 852.07 627.4 848.68 624.4 851.84 624.2 850.37 630.3 852.36 624.0 850.37 629.8 852.44 627.2 853.94 626.4 851.37 627.1 853.44 630.1 854.09 626.9 851.38 627.2 853.47 629.2 853.32 625.0 852.44 627.7 854.70 627.9 854.88 625.9 854.87 630.4 853.90 626.2 854.92 627.1 855.07 628.9 855.81 627.2 856.81 627.8 855.42 625.0 855.46 630.3 858.17 632.3 857.46 630.1 855.49 628.1 858.56 630.5 859.21 629.4 859.47 626.7 858.99 627.2 857.46 629.0 857.99 627.9 859.31 626.0 859.73 627.5 858.64 630.0 860.06 627.4 860.22 626.9 858.44 628.2 859.78 623.1 863.11 628.5 859.64 631.4 861.19 627.3 860.10 623.6 861.17 628.1 861.80 627.3 860.99 623.9 863.06 625.5 864.13 628.8 863.52 629.7 860.76 627.7 863.13 627.4 863.07 629.0 863.76 625.7 865.30 626.7 862.86 627.3 865.33 627.3 864.08 627.1 865.64 627.8 865.37 629.0 865.64 626.2 866.80 627.5 867.67 627.2 864.66 627.4 866.65 630.3 863.97 627.5 866.43 631.3 868.76 627.9 866.16 624.7 867.11 627.5 867.10 626.3 867.65 629.9 869.11 624.6 869.37 627.2 868.05 622.2 867.88 627.3 869.33 624.1 870.59 629.7 870.43 628.7 871.60 627.5 871.21 629.0 870.52 625.5 871.53 627.0 870.04 626.0 873.02 628.2 871.23 624.2 871.31 630.6 871.78 626.8 873.17 625.6 872.26 631.7 870.91 632.4 875.32 629.7 872.99 621.3 871.64 628.2 871.67 626.3 874.00 626.3 872.45 624.8 873.89 627.5 873.04 626.3 874.67 629.3 875.59 625.4 873.70 629.1 877.76 628.5 875.08 630.2 876.66 624.6 878.64 626.9 877.73 627.1 878.09 628.4 875.63 627.7 875.75 626.3 877.95 627.1 878.46 628.6 879.42 626.9 879.22 627.8 878.95 624.3 878.86 627.5 879.03 630.1 879.59 630.2 878.37 627.1 879.52 626.4 880.57 628.1 881.26 627.0 880.68 625.0 882.07 629.1 882.37 628.1 882.58 628.9 882.26 632.7 881.70 626.8 883.66 630.2 883.48 629.7 882.52 631.5 884.08 632.0 884.62 628.8 883.77 626.2 884.03 627.0 882.67 627.2 883.86 632.8 885.09 625.3 885.43 629.4 884.00 626.1 887.32 625.1 885.68 628.7 885.80 626.9 884.96 628.8 886.96 626.5 885.39 630.0 887.63 631.2 886.50 626.6 888.03 628.8 885.77 626.7 888.06 624.7 889.19 624.1 888.43 632.5 889.48 627.5 888.61 625.0 891.14 628.5 889.30 628.1 888.41 627.1 887.60 628.1 891.99 627.1 889.53 626.5 891.82 628.9 889.61 632.1 890.14 630.1 893.12 629.4 890.51 629.4 892.54 629.4 890.80 631.2 890.89 631.7 892.44 626.2 892.17 625.2 891.98 627.3 893.84 631.2 891.94 631.7 894.77 628.7 894.33 630.0 892.55 627.2 895.20 628.9 895.16 626.5 897.66 629.5 896.30 624.8 896.43 624.0 897.73 625.2 893.92 627.7 894.85 628.6 895.43 630.1 895.38 627.9 897.86 630.0 897.79 627.5 900.49 627.7 896.66 629.6 897.10 625.2 899.14 626.8 898.97 627.6 899.28 626.5 898.44 626.9 900.22 627.3 900.02 628.4 899.43 625.3 901.14 629.1 898.39 627.8 901.58 629.2 902.95 628.0 900.43 628.6 903.96 626.6 902.72 628.0 901.41 625.6 903.55 628.7 900.98 630.7 901.33 626.9 902.36 628.5 903.70 624.4 902.44 626.3 902.63 629.0 902.81 626.5 906.20 628.2 905.22 629.6 902.94 627.1 903.40 630.9 905.46 624.8 906.98 627.0 905.37 627.6 907.72 628.6 907.06 623.6 905.30 631.3 905.74 628.5 907.68 628.2 907.99 629.5 906.86 627.9 907.57 629.8 906.56 628.4 908.98 627.7 909.63 626.6 908.70 632.3 909.86 624.8 910.61 624.4 908.72 628.2 911.33 626.9 909.32 633.8 911.21 632.5 910.75 629.1 910.80 626.8 911.43 629.9 913.40 627.1 911.23 632.2 912.48 629.1 913.60 631.3 913.69 632.3 912.93 628.7 912.35 632.0 913.85 626.7 913.31 629.6 913.08 629.1 914.85 629.4 915.74 628.4 914.96 631.9 914.33 628.0 914.13 629.7 916.22 627.5 915.96 632.2 916.06 630.6 915.52 629.5 915.53 628.6 914.56 629.1 917.29 628.1 916.11 625.9 915.20 625.7 916.22 631.8 915.82 626.3 916.07 631.9 919.09 627.3 918.02 629.4 917.56 630.8 918.01 624.3 917.49 625.3 917.87 629.1 919.87 634.1 919.21 624.8 919.60 629.2 917.94 627.9 919.24 628.9 921.91 628.7 920.57 627.8 921.82 630.4 920.70 631.7 922.86 631.1 922.84 623.3 923.30 631.1 922.81 628.0 921.83 627.4 922.56 631.1 923.09 629.6 923.30 632.5 923.00 625.8 923.04 631.2 923.87 628.3 924.00 630.0 925.75 628.7 925.17 628.5 927.68 626.7 926.26 626.3 924.71 633.5 925.73 629.0 927.14 632.3 928.75 628.2 926.00 631.9 926.81 629.6 927.50 629.1 927.69 628.1 926.25 631.3 928.64 627.0 928.54 627.4 930.27 632.7 928.47 629.5 930.96 629.2 929.97 625.6 930.18 627.6 929.75 631.6 928.71 627.9 927.79 625.2 929.92 630.9 928.29 625.9 931.07 630.2 929.79 634.1 929.55 632.2 933.38 629.1 933.54 627.7 934.11 627.3 931.89 629.8 931.97 629.2 933.01 632.4 933.53 629.4 934.80 631.8 933.64 630.4 933.42 633.2 934.07 624.2 932.79 630.0 935.35 627.6 934.52 628.4 937.44 625.2 934.86 629.8 935.97 626.8 935.16 631.6 937.31 633.3 938.75 632.4 939.57 626.0 936.45 629.1 938.92 631.6 938.61 626.7 939.26 631.7 938.28 631.8 938.74 627.2 938.81 630.5 937.72 629.9 939.19 629.9 941.23 631.8 938.07 629.4 940.86 631.0 938.97 629.3 940.40 628.5 942.37 627.1 939.45 631.2 942.68 628.4 939.20 632.9 943.44 629.5 941.10 627.7 946.12 628.1 941.93 630.6 941.25 631.2 941.53 628.8 942.95 627.5 942.42 629.8 943.64 629.6 942.83 631.6 945.37 627.1 946.63 632.5 943.62 627.4 945.82 628.0 945.07 631.6 946.18 632.1 946.71 629.3 945.93 629.5 945.69 630.1 943.58 628.4 949.25 629.5 945.14 632.5 948.43 632.9 946.88 630.0 948.14 630.2 946.32 630.2 948.83 632.8 947.50 626.8 947.70 630.4 948.13 630.0 949.09 629.4 948.14 629.7 949.35 627.5 948.40 630.0 951.25 630.3 949.13 628.9 951.28 631.5 950.04 632.7 949.86 631.6 950.45 629.9 951.64 629.4 952.28 629.7 953.24 627.2 952.25 630.0 953.38 632.0 951.75 629.4 950.44 630.6 954.57 628.4 953.53 630.1 954.28 630.7 951.92 630.2 954.38 625.8 954.66 628.7 956.12 629.4 953.87 629.1 955.69 630.8 955.34 629.5 955.99 625.9 957.42 629.0 956.41 628.0 957.25 631.8 957.13 631.1 957.08 630.6 957.16 632.7 957.22 630.4 957.83 629.7 958.06 628.0 958.32 632.0 957.56 629.6 957.04 631.4 958.24 625.8 957.27 633.5 961.26 631.0 958.34 631.6 959.23 629.5 960.89 627.5 959.79 630.3 960.66 629.3 962.12 628.7 960.20 628.8 963.37 631.2 960.59 629.7 962.73 627.5 961.11 630.9 961.60 631.0 960.64 630.9 964.09 628.8 963.64 628.5 961.49 629.9 965.44 632.9 962.80 628.2 963.68 628.0 963.41 629.3 962.46 627.5 967.68 633.5 963.99 628.5 964.24 631.6 966.96 628.7 965.54 634.3 964.75 632.2 967.52 631.2 969.67 632.4 967.52 632.1 966.01 628.0 966.33 631.3 966.67 630.7 966.38 633.4 967.00 631.2 967.81 628.7 968.31 634.1 968.94 630.7 971.27 629.0 967.49 628.2 969.85 631.6 969.95 627.8 968.35 630.3 972.46 630.9 971.77 626.5 968.52 627.7 973.27 626.0 969.83 630.8 972.21 630.2 973.69 630.3 971.73 629.9 973.45 631.8 971.04 638.5 971.86 632.0 972.16 630.8 973.17 630.7 975.65 634.4 975.82 627.5 972.63 630.5 972.43 633.3 974.66 628.7 973.56 633.1 973.47 628.5 975.00 630.3 976.05 629.1 975.36 630.6 975.61 625.5 975.68 629.9 977.31 630.3 978.08 629.7 977.35 632.7 976.44 631.7 977.80 629.6 977.36 632.1 976.46 628.9 978.25 630.2 978.79 631.5 979.72 630.7 979.92 633.0 978.89 630.4 978.69 629.6 980.26 632.6 981.63 631.4 980.56 632.1 980.97 636.1 979.57 632.5 979.36 630.8 981.22 630.8 980.64 628.8 978.84 631.0 982.29 629.0 983.42 632.6 984.76 630.4 981.94 628.1 982.04 631.4 982.87 633.2 982.56 632.2 985.24 631.7 984.60 633.9 982.99 629.4 985.32 631.4 984.74 630.5 985.27 631.9 983.45 628.4 982.62 632.9 986.31 630.0 985.32 632.4 986.25 633.3 986.73 631.4 986.46 635.1 988.96 629.1 987.99 629.6 984.79 629.3 987.62 630.2 988.66 632.4 988.68 633.5 988.75 631.1 987.90 629.9 988.92 630.0 989.24 627.5 990.47 631.0 989.87 627.7 989.87 633.0 990.58 628.6 989.99 634.8 991.98 626.3 990.65 632.6 993.43 627.3 991.05 630.1 992.31 629.7 991.94 631.9 993.59 634.0 993.50 633.2 991.83 627.8 995.37 633.2 995.12 627.5 994.46 629.4 993.78 633.9 992.61 628.3 995.45 629.5 994.18 630.9 995.38 628.2 992.71 631.9 994.91 627.4 997.15 633.1 997.30 631.4 996.56 630.7 997.59 633.4 995.82 628.6 999.18 631.9 996.79 631.6 996.42 630.7 997.10 631.3 998.60 629.9 999.22 628.0 997.02 626.9 999.38 632.2 1000.13 632.7 1000.63 630.8 999.54 630.4 1000.27 628.1 998.32 634.3 998.59 630.2 1002.81 632.5 1001.00 632.4 1000.77 629.3 1002.95 631.3 1001.41 632.4 1001.43 630.5 1002.90 631.3 1003.53 632.1 1000.03 626.0 1000.40 631.8 1003.97 630.6 1004.33 630.9 1001.81 627.9 1003.81 629.6 1005.43 630.4 1005.26 629.7 1004.82 631.1 1006.69 629.5 1004.20 630.4 1005.43 630.4 1005.74 634.7 1005.01 630.7 1005.35 627.4 1007.10 628.0 1007.08 632.0 1007.18 632.4 1004.95 630.0 1008.94 629.6 1007.93 632.0 1008.02 627.3 1008.07 632.0 1009.58 631.6 1007.88 631.7 1008.61 627.1 1008.32 631.8 1010.77 632.9 1011.15 630.5 1009.33 629.5 1012.66 628.9 1009.37 630.7 1010.29 632.4 1011.04 631.5 1009.98 632.0 1011.05 633.7 1010.25 630.0 1010.91 628.0 1012.19 628.3 1013.52 630.7 1011.38 631.1 1010.44 631.3 1011.64 634.2 1011.39 629.3 1013.13 630.8 1014.38 627.7 1014.94 628.0 1012.50 628.4 1016.73 630.2 1013.23 635.7 1014.84 631.4 1015.31 631.8 1014.29 628.3 1016.51 630.1 1014.86 629.2 1015.96 632.9 1015.22 630.7 1015.68 633.1 1016.85 628.9 1016.56 631.1 1016.98 632.2 1018.05 634.4 1016.48 635.0 1017.77 629.2 1016.37 633.7 1019.43 630.8 1018.63 631.0 1020.07 630.7 1018.90 631.6 1019.50 627.4 1019.56 632.1 1019.48 630.1 1019.39 631.6 1022.14 627.2 1021.20 631.0 1020.95 630.4 1021.67 630.8 1021.49 631.3 1024.22 633.1 1023.70 631.3 1022.35 632.3 1021.60 630.0 1024.88 629.3 1021.30 630.2 1023.35 630.0 1024.35 632.6 1024.86 632.5 1022.55 632.9 1024.28 632.1 1023.74 630.5 1024.81 629.3 1023.94 633.6 1025.58 633.5 1024.88 628.2 1026.03 636.2 1024.87 630.1 1025.56 634.0 1025.35 629.5 1028.10 632.3 1026.80 631.8 1027.80 633.4 1026.36 632.0 1028.29 630.0 1027.51 634.6 1028.88 628.2 1028.00 630.6 1026.24 628.1 1029.92 633.4 1026.95 631.8 1030.19 630.8 1029.97 634.6 1032.22 632.9 1029.45 630.8 1032.81 631.4 1032.38 631.9 1031.72 631.4 1033.33 633.6 1030.93 632.6 1031.13 632.0 1031.00 632.7 1032.63 630.9 1031.58 633.4 1035.42 634.3 1034.59 632.7 1035.01 631.0 1033.04 631.8 1032.64 630.7 1032.41 634.2 1033.06 634.2 1035.77 631.0 1034.47 632.3 1035.52 630.6 1035.00 632.0 1033.84 630.7 1037.40 634.6 1035.37 630.3 1036.43 634.1 1036.62 630.8 1036.29 632.8 1037.66 631.7 1036.06 630.7 1038.95 630.4 1038.25 632.3 1037.94 633.2 1038.20 632.9 1038.01 633.0 1039.42 631.4 1040.89 634.1 1040.74 631.4 1039.52 631.6 1039.57 631.6 1041.83 632.5 1041.25 628.7 1041.74 632.9 1042.31 632.4 1041.43 633.0 1042.21 638.8 1040.78 632.3 1041.20 629.5 1042.39 630.0 1041.11 633.2 1041.65 631.2 1043.31 632.9 1042.42 632.7 1042.87 631.3 1045.75 627.8 1042.57 629.8 1044.83 630.4 1045.26 632.2 1045.76 630.3 1046.63 632.1 1046.47 635.6 1046.35 630.1 1044.15 628.0 1044.97 628.0 1046.90 632.1 1043.75 631.1 1047.74 636.2 1047.99 629.3 1049.04 628.0 1046.98 631.3 1048.93 633.1 1046.03 635.0 1047.14 635.5 1048.30 634.0 1050.49 631.8 1048.39 631.1 1049.61 630.4 1050.33 632.8 1048.38 632.0 1049.28 629.5 1047.96 631.2 1053.30 629.6 1052.03 632.6 1050.69 632.7 1050.47 633.2 1051.67 630.0 1053.91 630.6 1050.52 631.3 1051.28 628.5 1050.43 630.7 1053.58 631.4 1053.91 632.1 1052.46 630.6 1052.26 635.0 1054.32 633.3 1055.61 630.8 1055.27 630.5 1054.83 631.3 1054.77 633.0 1056.57 633.4 1054.20 633.4 1055.72 632.9 1056.39 632.8 1056.65 629.9 1055.96 631.1 1055.89 632.1 1057.34 632.9 1057.56 629.6 1056.72 633.6 1057.17 634.2 1057.87 628.6 1058.56 628.4 1058.34 629.5 1058.86 630.0 1057.61 632.4 1059.03 634.1 1058.46 634.3 1060.47 631.3 1061.88 630.6 1059.57 635.0 1062.84 633.4 1059.87 632.7 1060.78 631.0 1060.58 630.7 1061.03 633.1 1061.91 631.9 1062.74 631.6 1062.49 631.4 1062.21 633.0 1063.99 633.8 1063.25 633.1 1063.44 632.1 1063.71 628.4 1065.40 632.8 1063.90 631.8 1063.78 627.8 1064.21 630.8 1065.33 629.8 1066.47 631.8 1066.81 631.9 1063.03 633.1 1066.36 635.6 1065.78 628.8 1066.54 633.9 1067.13 629.5 1064.51 633.8 1067.05 632.1 1066.13 631.8 1069.75 625.1 1067.20 632.4 1067.25 633.1 1067.14 632.0 1068.12 633.2 1070.14 635.0 1069.08 632.2 1070.11 632.6 1069.28 631.8 1070.89 629.6 1068.52 634.5 1071.04 633.8 1070.17 630.8 1073.14 631.0 1070.23 633.3 1072.09 632.2 1069.72 630.1 1071.45 630.5 1071.48 634.8 1070.91 630.9 1070.86 631.4 1071.92 632.9 1071.73 633.3 1071.59 633.6 1074.68 631.2 1072.48 631.4 1071.89 632.1 1073.21 630.2 1075.37 635.9 1072.70 631.6 1075.40 634.1 1072.02 630.4 1074.98 630.6 1074.86 630.7 1075.90 630.7 1076.93 629.0 1076.61 630.7 1074.11 633.0 1076.99 634.5 1076.23 634.0 1076.91 634.2 1076.53 635.4 1077.03 632.5 1079.10 634.1 1079.11 634.4 1078.17 631.3 1077.03 632.2 1077.98 633.9 1079.12 635.3 1078.86 630.0 1080.89 635.1 1079.37 631.2 1079.09 629.9 1081.02 630.3 1080.55 628.3 1078.71 631.5 1080.74 632.0 1081.77 634.7 1082.98 633.3 1079.45 634.8 1082.20 636.7 1081.88 635.5 1082.33 631.2 1081.58 630.6 1083.67 632.2 1083.55 631.7 1082.18 633.3 1083.17 631.3 1086.73 630.8 1082.84 634.3 1082.73 633.0 1084.38 634.6 1086.31 634.7 1085.71 630.8 1084.96 634.0 1086.51 633.3 1085.83 633.4 1086.81 633.5 1088.29 630.8 1085.60 631.1 1087.24 629.8 1085.87 629.3 1085.67 630.2 1086.64 628.8 1089.12 633.6 1091.01 632.7 1090.89 632.0 1088.44 633.4 1090.33 628.5 1089.79 636.1 1091.63 630.0 1090.31 632.4 1090.09 632.0 1091.08 630.8 1092.19 633.0 1090.19 631.4 1091.86 633.6 1090.36 633.8 1093.80 631.6 1090.98 635.7 1092.09 633.6 1093.51 631.0 1093.82 630.8 1092.57 633.4 1093.26 627.1 1092.13 630.0 1089.94 632.3 1091.50 633.2 1094.10 632.2 1094.97 632.1 1091.97 630.2 1094.08 629.9 1094.56 635.1 1093.01 631.3 1095.35 632.4 1096.11 631.7 1096.84 634.7 1096.47 628.1 1096.04 631.7 1098.39 630.3 1096.54 631.4 1096.08 632.7 1097.38 629.9 1097.20 634.5 1098.69 630.9 1098.17 633.5 1100.83 631.8 1100.07 632.1 1098.78 633.5 1099.08 631.9 1098.92 632.9 1100.50 631.9 1100.21 632.9 1101.19 629.5 1100.23 629.6 1101.15 632.5 1101.40 631.7 1100.21 631.5 1104.10 630.9 1101.67 628.6 1102.15 632.8 1102.65 633.1 1101.24 631.1 1104.40 628.6 1102.69 628.9 1104.37 633.1 1105.09 631.1 1103.84 631.9 1105.42 630.7 1105.23 633.3 1103.84 632.1 1105.99 629.5 1104.65 628.3 1106.39 630.4 1104.77 629.6 1106.07 629.4 1105.12 633.9 1107.22 633.8 1107.35 632.7 1106.81 631.9 1105.79 636.3 1104.83 630.2 1109.16 631.8 1107.59 630.8 1106.54 629.9 1108.35 634.0 1108.52 631.5 1109.34 630.3 1106.66 630.0 1109.10 631.3 1110.41 630.6 1111.27 629.3 1110.64 630.1 1110.36 632.4 1111.51 628.8 1111.02 630.6 1108.99 636.2 1111.62 632.5 1110.22 630.8 1114.26 632.1 1112.56 631.2 1113.83 631.2 1114.31 633.9 1112.17 632.2 1112.49 633.1 1114.57 631.0 1114.05 631.2 1113.05 633.2 1113.26 634.7 1115.38 632.7 1116.77 630.9 1115.23 633.6 1114.84 632.8 1115.26 631.2 1113.71 630.9 1116.37 632.0 1117.15 629.3 1114.90 631.3 1117.05 628.9 1117.55 634.3 1118.02 632.6 1117.58 633.2 1117.20 630.0 1119.09 633.5 1117.20 633.0 1119.68 630.5 1118.58 634.3 1119.41 631.7 1119.93 632.3 1119.11 632.6 1121.08 630.4 1118.71 631.4 1120.76 631.7 1119.23 632.1 1122.20 631.3 1120.48 633.2 1122.26 630.6 1119.72 629.4 1123.40 632.3 1120.02 631.3 1119.89 632.4 1120.22 635.3 1123.25 634.0 1123.04 634.1 1122.61 632.2 1122.27 632.3 1123.77 631.6 1125.20 632.1 1124.08 633.1 1122.76 633.5 1126.38 632.2 1125.56 630.6 1125.93 633.7 1124.49 628.5 1124.52 630.8 1126.25 632.4 1124.95 635.5 1127.74 633.5 1126.31 635.2 1129.00 632.9 1128.23 629.4 1127.19 631.5 1128.83 630.5 1129.51 632.0 1126.18 631.1 1129.58 631.3 1129.30 633.3 1126.25 633.4 1128.50 635.8 1129.32 631.7 1131.16 632.3 1129.91 633.6 1129.53 632.4 1128.41 631.2 1129.97 631.6 1130.98 628.8 1130.14 630.4 1130.60 632.4 1132.33 632.1 1132.31 630.6 1132.67 631.5 1132.43 637.1 1133.80 634.4 1131.39 632.5 1131.16 630.0 1136.38 634.0 1134.67 630.2 1132.46 627.5 1131.80 633.0 1136.81 635.7 1134.15 628.8 1135.24 628.2 1138.91 630.6 1134.61 633.1 1133.32 631.3 1136.95 631.2 1135.29 630.7 1139.74 633.0 1135.85 634.1 1136.49 631.6 1136.74 634.7 1137.38 631.5 1137.22 632.9 1137.05 632.0 1138.35 631.3 1136.88 631.7 1136.96 627.6 1138.64 632.2 1138.58 635.6 1140.68 634.9 1141.21 633.6 1142.07 632.9 1143.10 629.6 1139.30 633.2 1140.24 629.5 1141.98 632.9 1142.33 634.1 1143.65 628.7 1141.33 631.2 1141.03 633.7 1143.59 632.5 1143.45 631.9 1141.59 634.6 1143.01 634.9 1142.26 631.0 1144.39 628.6 1144.05 631.1 1143.82 632.3 1142.96 636.5 1143.20 634.3 1145.20 630.9 1143.02 634.3 1143.71 630.9 1146.34 630.5 1146.87 630.5 1146.45 631.9 1145.30 633.3 1144.89 632.9 1146.94 630.3 1146.58 632.0 1146.38 627.5 1148.21 630.4 1148.40 627.5 1145.13 631.3 1151.85 635.7 1148.82 633.4 1148.48 629.8 1148.83 633.1 1150.80 632.9 1150.23 630.7 1149.58 631.5 1149.60 629.3 1151.02 634.7 1153.05 631.7 1151.63 629.3 1152.38 628.4 1151.78 634.6 1152.65 628.7 1152.60 631.1 1153.75 630.1 1153.86 630.6 1151.37 632.2 1151.45 633.0 1153.29 630.7 1151.58 630.9 1154.01 632.9 1153.20 632.3 1152.88 633.7 1152.31 629.0 1153.13 633.9 1153.29 634.2 1157.60 629.4 1156.08 631.8 1157.15 632.7 1155.94 632.3 1156.31 633.9 1156.06 634.6 1157.53 634.4 1156.99 629.8 1156.68 634.9 1156.27 633.9 1155.61 630.4 1156.03 630.1 1159.02 633.2 1157.38 630.8 1159.90 630.8 1156.44 629.9 1159.37 634.1 1160.75 631.1 1157.34 634.1 1157.95 629.5 1160.18 630.5 1160.65 632.4 1160.99 633.6 1159.97 635.9 1161.66 632.3 1162.15 631.3 1158.52 629.6 1160.34 634.8 1161.52 632.3 1161.29 632.7 1161.75 632.5 1163.00 632.6 1160.92 631.9 1162.96 632.5 1165.49 632.6 1164.36 632.5 1163.83 633.8 1163.99 632.9 1165.85 629.2 1165.63 629.5 1165.97 630.5 1164.08 632.2 1164.98 633.4 1165.26 633.8 1165.39 633.0 1166.39 632.0 1166.87 629.8 1167.84 632.6 1166.33 632.9 1165.77 630.2 1168.07 633.1 1167.20 632.8 1167.27 630.5 1167.05 632.7 1166.68 632.7 1168.33 630.9 1167.44 631.8 1168.56 632.2 1169.57 631.5 1171.49 628.6 1169.69 632.4 1169.58 629.1 1170.94 633.5 1172.31 632.7 1170.33 634.1 1171.53 632.3 1172.48 631.1 1170.45 631.9 1170.35 629.8 1172.70 633.6 1171.01 632.9 1170.26 632.0 1171.95 634.5 1173.83 629.3 1173.89 632.3 1172.31 630.0 1175.18 628.6 1173.59 631.2 1174.97 630.2 1173.33 634.9 1175.80 630.9 1177.74 628.9 1174.63 635.3 1174.19 633.2 1175.57 633.8 1176.50 632.8 1177.64 632.9 1176.56 634.5 1177.24 634.5 1177.09 631.2 1176.10 634.4 1179.20 627.1 1177.85 631.5 1180.40 631.3 1177.43 631.7 1178.00 632.7 1179.62 632.2 1180.21 635.0 1181.05 628.1 1181.41 630.6 1181.16 632.9 1178.45 632.7 1183.48 629.8 1181.25 631.3 1180.06 631.0 1181.58 631.9 1180.20 631.7 1183.34 629.4 1182.48 630.3 1182.88 629.4 1182.20 631.8 1183.94 634.1 1183.71 634.7 1182.42 633.7 1183.45 632.3 1184.29 628.3 1182.50 632.3 1185.75 628.8 1183.90 629.7 1185.22 630.4 1185.51 632.0 1183.65 631.9 1185.79 629.1 1183.96 628.1 1186.37 632.4 1185.41 631.6 1186.99 628.6 1185.73 632.7 1185.38 629.5 1187.76 633.2 1184.99 633.7 1186.88 635.4 1187.65 632.3 1189.07 629.3 1189.31 635.8 1188.73 628.5 1188.05 631.4 1187.99 630.2 1187.80 632.0 1189.87 633.5 1187.13 633.9 1189.20 629.4 1191.38 626.5 1191.52 633.3 1192.64 633.8 1192.31 632.5 1190.71 633.9 1192.04 630.7 1188.45 631.0 1191.74 628.3 1192.84 632.6 1191.63 630.1 1192.99 632.8 1194.34 630.2 1192.77 629.5 1194.76 627.4 1192.96 631.1 1195.59 630.5 1194.99 632.2 1192.97 629.1 1194.47 632.0 1195.68 630.2 1193.68 630.9 1195.27 629.5 1198.92 630.5 1196.31 632.1 1198.65 633.9 1194.95 630.4 1194.98 631.7 1197.14 633.5 1196.77 630.9 1198.97 634.5 1195.01 630.9 1197.75 631.7 1198.76 633.0 1199.49 632.1 1199.40 633.4 1198.31 633.8 1199.61 633.2 1199.24 632.0 1199.33 629.2 1200.54 631.4 1199.99 632.5 1199.57 630.4 1200.32 632.9 1201.51 632.0 1202.82 631.9 1202.24 631.0 1200.21 631.9 1201.20 632.3 1204.87 631.1 1202.63 632.5 1203.76 629.3 1203.38 631.7 1201.73 632.6 1203.30 628.5 1202.90 631.2 1204.76 631.7 1204.74 630.3 1202.75 632.9 1204.89 635.0 1205.20 634.3 1205.45 632.2 1206.70 633.2 1206.68 635.4 1208.08 631.4 1204.30 632.2 1207.67 632.9 1209.10 633.7 1206.60 630.8 1208.04 632.9 1207.40 628.0 1205.95 632.7 1209.62 630.9 1207.47 631.5 1208.75 636.5 1208.61 631.5 1208.82 628.4 1208.37 632.3 1207.65 633.1 1210.55 631.1 1210.15 631.5 1212.02 632.6 1210.10 632.3 1212.31 629.3 1210.73 630.2 1208.44 632.4 1211.58 632.4 1212.53 631.8 1212.31 634.1 1214.20 633.3 1213.11 630.8 1212.19 632.9 1211.07 633.6 1211.80 629.3 1214.18 630.9 1212.28 631.7 1213.82 628.3 1215.28 634.1 1216.02 634.2 1216.35 626.7 1214.47 629.8 1215.99 634.1 1216.92 635.3 1215.48 632.7 1215.45 635.1 1215.70 632.7 1216.39 632.1 1216.04 634.9 1220.19 630.5 1217.16 630.7 1218.34 631.5 1217.45 631.2 1219.07 629.4 1221.90 629.7 1219.27 635.2 1221.61 631.7 1219.63 630.5 1220.14 629.0 1220.63 629.8 1221.81 631.2 1219.56 629.0 1219.66 633.7 1221.18 630.6 1222.13 632.7 1220.79 630.2 1221.72 631.4 1222.31 628.2 1222.99 629.9 1222.60 630.3 1219.97 632.8 1223.23 629.6 1224.16 633.9 1222.13 629.7 1224.76 631.4 1223.54 632.1 1224.07 631.0 1222.76 629.9 1227.02 629.7 1228.10 631.9 1225.26 629.8 1223.40 634.8 1224.09 632.7 1225.17 630.8 1225.81 628.9 1225.79 633.3 1227.55 635.3 1226.07 629.8 1227.10 628.2 1227.75 632.9 1228.23 635.1 1226.67 632.6 1229.23 629.5 1226.54 630.5 1228.96 632.9 1227.33 629.6 1228.53 632.1 1229.83 632.7 1229.18 633.6 1231.68 629.6 1228.70 631.8 1228.27 632.9 1228.88 631.3 1232.10 633.0 1229.80 631.0 1233.17 629.7 1230.97 628.8 1229.77 630.8 1230.67 631.3 1232.46 633.4 1231.68 631.9 1231.10 629.5 1233.39 632.4 1234.25 635.0 1232.53 630.0 1233.07 632.0 1235.10 627.9 1234.57 635.9 1234.10 633.2 1234.87 634.1 1236.85 631.8 1236.45 632.2 1236.01 631.3 1233.53 630.3 1235.81 635.1 1235.18 633.8 1235.95 630.5 1238.44 630.9 1237.19 631.9 1236.19 632.4 1238.57 634.9 1235.20 628.4 1240.06 630.2 1238.21 627.8 1239.30 630.3 1238.91 631.7 1240.71 634.9 1238.43 633.5 1238.91 633.4 1237.54 630.9 1237.74 635.6 1240.74 634.1 1239.26 631.2 1241.82 630.7 1239.34 633.2 1240.73 629.6 1238.59 630.2 1242.14 632.9 1240.65 631.9 1242.06 630.9 1243.77 631.7 1243.50 631.5 1244.56 631.4 1244.07 632.3 1243.75 628.6 1242.28 633.4 1243.45 631.3 1245.06 631.4 1243.74 631.9 1244.77 632.9 1244.11 636.5 1247.02 630.4 1245.63 630.2 1244.87 631.4 1247.82 630.9 1245.74 628.6 1247.25 631.0 1249.69 630.8 1248.66 634.7 1246.43 633.5 1246.07 628.1 1247.78 627.7 1248.05 635.2 1247.81 631.3 1249.30 628.1 1249.09 630.7 1249.13 634.4 1247.46 632.6 1247.88 635.8 1250.84 634.9 1248.81 631.3 1253.51 633.8 1249.73 629.2 1250.99 633.0 1252.04 632.8 1253.25 632.4 1252.47 632.9 1252.61 636.0 1249.87 630.2 1251.02 630.8 1252.74 632.1 1251.84 631.4 1254.23 633.6 1252.72 632.2 1253.32 629.3 1254.39 632.7 1255.32 631.1 1253.29 629.4 1253.90 633.6 1252.10 630.4 1253.95 631.1 1255.71 633.3 1255.89 630.6 1257.08 630.3 1255.21 630.9 1256.60 632.3 1253.68 631.8 1255.90 634.1 1258.61 630.3 1254.55 634.3 1256.04 633.1 1257.28 633.3 1256.64 631.9 1256.33 629.3 1258.82 631.4 1258.16 633.2 1260.43 634.1 1259.39 630.9 1259.52 631.8 1259.15 632.8 1260.69 633.6 1259.49 632.4 1260.16 629.7 1261.41 630.0 1260.52 632.3 1263.32 631.0 1259.68 636.6 1261.47 629.6 1264.11 632.2 1264.00 630.6 1263.02 632.9 1264.33 635.5 1261.93 628.0 1262.91 631.4 1260.98 631.0 1263.30 632.9 1264.24 630.8 1265.19 632.3 1263.02 630.0 1266.26 634.0 1265.50 633.9 1265.43 631.0 1264.11 627.6 1265.78 631.3 1264.90 631.7 1266.59 629.9 1267.94 634.6 1266.60 628.8 1265.54 635.8 1267.24 632.4 1267.24 633.4 1268.74 630.0 1268.38 629.5 1270.08 632.7 1265.75 635.7 1268.40 631.5 1268.31 634.7 1269.03 632.7 1266.99 630.4 1270.72 633.0 1269.63 633.7 1268.79 631.8 1270.58 633.3 1271.74 632.8 1271.10 634.8 1271.48 631.4 1270.87 631.4 1273.00 633.5 1270.70 628.9 1272.55 631.9 1271.61 631.1 1272.18 631.2 1273.00 633.9"/><path d="M150.00 782.8 151.31 785.1 152.80 782.5 152.02 784.3 150.80 787.2 150.00 782.5 151.65 780.6 150.00 785.9 154.32 785.5 151.72 789.0 153.24 786.8 152.12 782.8 152.04 786.5 155.81 783.1 154.64 786.9 152.68 785.9 154.01 788.1 154.92 785.9 153.05 790.6 155.71 789.9 155.69 787.8 153.92 789.3 156.28 791.2 155.02 786.9 155.50 786.5 155.95 793.9 156.80 787.2 158.44 787.5 158.90 787.3 157.14 788.3 157.02 792.6 157.69 793.8 157.55 792.9 160.99 792.2 160.03 789.6 156.06 792.5 158.51 789.9 158.96 791.4 161.00 788.9 159.57 789.1 161.41 792.5 162.13 790.0 161.57 791.0 160.84 789.8 160.77 788.1 162.85 793.1 160.96 789.9 161.20 788.4 162.91 791.4 162.18 792.3 163.36 790.2 163.08 785.4 162.11 789.4 163.23 788.1 162.55 786.7 166.01 787.0 162.93 788.4 164.85 788.4 163.21 786.1 166.08 787.6 165.69 782.9 163.85 783.4 166.41 788.4 168.86 789.4 167.07 784.6 164.94 784.9 168.35 785.8 165.32 785.0 166.24 784.4 165.76 783.6 166.20 784.5 165.62 786.2 167.08 783.0 168.53 784.0 171.61 784.4 169.12 784.0 169.39 781.8 169.82 785.5 170.50 780.2 166.95 781.4 169.68 783.5 171.90 782.6 167.53 781.7 170.48 780.3 171.39 782.7 172.66 783.2 170.38 787.6 169.75 777.5 172.60 778.8 172.19 782.9 171.74 780.6 174.09 780.1 171.04 781.5 173.73 781.7 174.98 778.4 176.62 778.0 174.34 774.2 175.13 779.1 175.25 779.2 176.76 778.3 173.41 773.9 175.17 771.7 174.32 777.4 175.02 773.4 176.18 773.1 177.05 778.8 177.20 774.2 174.86 772.7 175.11 776.1 177.12 772.9 177.84 775.7 176.47 777.8 178.09 771.8 177.82 768.7 178.31 772.0 179.27 775.3 177.98 776.0 179.77 774.5 178.85 772.5 178.32 772.5 178.74 767.5 180.16 763.5 180.29 769.5 180.17 767.1 181.75 767.4 180.99 765.3 178.91 769.9 180.57 763.0 182.23 764.8 182.64 769.8 181.18 765.1 183.62 765.0 184.70 766.8 183.71 764.5 182.12 767.0 183.11 767.6 183.27 765.3 184.02 765.7 185.61 763.6 185.46 762.3 186.96 759.8 185.15 766.7 185.90 764.3 186.16 757.2 187.08 762.9 186.26 761.6 185.79 764.1 185.83 762.2 189.41 760.8 185.80 759.1 185.56 757.5 189.67 762.1 188.76 759.9 188.99 760.2 189.79 758.8 188.04 758.9 187.84 755.7 189.79 754.7 189.22 755.6 190.07 756.3 190.67 756.0 190.09 753.9 191.41 754.4 188.85 758.7 191.29 747.1 192.22 749.5 191.77 755.5 191.60 747.8 192.58 756.2 191.86 755.6 192.51 748.6 192.44 749.6 195.52 750.7 191.61 747.5 193.07 752.0 193.20 750.0 194.48 742.6 192.37 743.4 193.84 750.5 192.53 743.6 194.88 746.5 193.33 745.2 194.79 745.6 197.46 743.1 194.29 745.7 196.38 748.9 198.55 743.6 197.98 743.8 195.29 742.8 198.34 742.7 198.06 741.9 198.29 743.9 196.15 738.6 200.00 735.5 198.24 744.8 197.04 739.3 198.59 740.4 199.32 740.4 201.02 741.5 200.06 732.8 199.45 734.6 200.43 737.1 201.38 737.1 200.72 734.2 201.18 737.8 200.42 730.6 200.19 729.8 201.56 731.1 202.93 734.4 202.48 741.6 203.33 731.7 204.44 731.3 203.28 727.6 204.29 736.5 204.00 729.0 203.05 731.4 205.94 735.0 205.80 725.9 203.17 725.6 204.77 730.5 205.51 729.2 203.78 726.4 204.81 730.1 206.14 725.1 206.03 724.1 204.78 721.9 206.14 721.4 206.94 722.4 207.51 727.5 207.67 724.6 207.46 722.4 207.63 721.5 209.99 718.0 207.92 722.3 208.00 722.6 208.07 724.9 208.57 716.7 208.59 725.3 210.35 720.1 209.81 719.7 208.12 718.8 210.05 712.3 209.73 719.9 210.83 718.6 210.73 713.4 211.40 711.7 210.47 716.6 212.19 713.7 213.84 708.9 215.17 712.2 212.63 712.7 212.74 707.5 212.36 712.9 213.57 715.3 211.80 709.2 212.36 710.4 216.33 707.1 217.92 705.8 214.79 712.6 214.72 704.4 215.09 713.5 217.52 705.0 214.06 704.6 215.00 699.6 215.78 702.5 218.37 706.7 218.25 703.9 216.74 704.6 216.83 706.7 216.92 700.5 217.05 702.5 217.89 709.9 216.47 697.7 217.57 704.0 217.34 693.9 219.43 699.1 218.16 701.9 219.46 692.0 220.78 695.2 219.40 689.5 218.12 696.0 219.36 691.4 217.80 695.7 223.47 698.0 221.84 691.3 222.32 688.9 219.47 694.0 220.83 683.0 220.89 688.9 220.23 686.2 223.85 681.6 225.00 691.6 223.29 686.3 224.80 684.3 224.51 685.5 222.19 682.5 223.74 680.2 222.91 683.9 223.96 683.6 225.99 683.9 224.44 682.9 226.03 679.4 225.17 687.8 227.47 682.7 226.97 683.5 227.38 673.2 226.98 676.8 226.59 676.1 227.96 681.4 225.82 675.0 224.16 673.0 228.41 674.0 227.64 669.7 227.58 671.5 227.37 674.1 229.56 677.2 228.84 666.0 227.79 682.8 231.82 671.3 231.08 673.3 227.19 666.5 228.66 669.5 230.59 669.6 231.09 670.4 229.86 665.8 233.74 663.6 232.94 665.1 232.01 667.7 232.41 675.3 232.07 660.4 231.89 660.2 234.31 658.1 231.36 658.0 234.25 666.6 234.13 660.2 234.27 661.3 234.48 667.4 233.23 662.9 233.96 662.2 233.52 658.8 234.77 659.3 234.07 657.8 234.82 660.2 234.80 661.7 233.62 655.5 234.75 655.0 235.45 656.1 237.07 655.4 236.33 658.3 237.42 658.0 236.74 651.7 237.49 650.5 237.97 647.1 237.06 647.6 236.81 652.7 238.14 651.8 238.47 636.5 239.86 647.0 239.83 643.8 237.74 646.5 238.91 649.1 240.74 640.4 239.78 637.2 239.89 643.1 241.35 641.4 240.63 645.9 241.57 638.1 239.99 635.5 241.77 636.8 240.03 632.9 241.84 636.1 242.48 639.0 242.54 633.6 242.49 626.5 242.72 630.1 241.94 637.4 244.02 638.3 244.08 637.5 241.95 631.0 244.68 625.9 242.88 630.0 244.96 632.8 246.84 629.8 243.25 623.6 248.64 629.1 247.07 629.2 246.30 614.4 248.42 619.0 246.44 627.5 248.55 625.1 246.43 623.1 246.06 624.4 246.52 619.4 247.67 617.8 247.10 622.0 246.96 611.2 248.90 613.1 248.58 626.2 250.97 614.3 249.44 619.9 251.19 618.4 250.99 617.0 249.89 613.7 249.38 598.6 250.74 615.0 251.20 611.0 252.38 612.3 254.44 612.0 252.05 618.6 251.42 599.8 251.96 605.2 254.48 615.2 252.75 598.0 252.17 604.9 252.88 601.8 253.77 597.8 253.84 587.0 254.51 593.5 255.60 588.8 252.90 586.6 255.73 585.3 255.38 584.6 254.72 587.5 257.05 576.6 258.00 581.6 256.93 579.6 254.71 573.1 257.66 575.0 257.41 575.0 257.46 570.8 256.85 563.6 258.00 571.6 257.67 567.8 260.53 568.4 260.62 557.2 256.53 570.5 260.03 557.3 258.82 563.7 259.39 558.5 259.08 551.4 259.50 554.7 261.74 564.9 259.22 560.1 260.99 559.4 263.68 553.2 258.97 552.7 260.58 540.4 261.41 554.8 262.73 552.5 263.79 543.4 263.46 543.4 262.46 539.0 262.98 543.6 264.03 543.6 263.44 547.7 263.96 538.6 262.49 536.4 263.96 537.8 267.13 531.3 266.25 530.8 265.60 531.3 267.05 536.9 265.49 535.0 263.78 527.8 266.29 531.0 266.46 525.3 264.16 519.4 267.04 514.3 267.53 522.2 270.42 518.8 267.91 517.1 269.72 513.3 270.29 516.3 269.83 507.6 268.39 515.5 269.97 510.0 269.86 510.0 267.83 509.9 269.73 494.9 267.85 508.0 268.06 519.9 269.95 498.1 269.92 510.5 270.38 499.5 271.07 509.0 271.82 498.3 270.06 497.8 271.25 493.5 273.30 505.6 273.71 500.9 274.41 483.8 275.25 495.9 271.58 493.7 272.83 491.5 273.19 499.2 272.81 492.4 273.70 494.7 274.24 494.5 272.11 495.2 274.38 492.2 273.70 503.5 273.31 480.7 273.26 481.7 277.83 483.7 275.12 489.2 276.14 498.7 277.07 492.7 275.74 492.0 277.06 494.6 276.89 494.6 276.61 484.7 277.22 488.5 277.46 486.9 278.86 489.2 278.43 489.1 278.59 487.3 280.65 490.8 280.88 474.6 279.74 502.3 278.79 492.7 281.55 480.0 280.71 476.9 280.66 494.4 279.42 489.5 281.03 485.4 280.36 483.4 282.50 484.5 280.97 478.0 282.66 475.8 284.16 475.1 281.30 479.0 280.29 476.3 283.75 488.1 282.55 481.1 282.44 487.6 281.88 479.1 282.58 471.4 282.89 480.0 284.20 484.7 282.71 475.3 283.26 475.3 285.54 484.6 285.60 485.8 284.85 478.4 287.40 482.7 286.81 483.1 285.89 487.2 285.62 474.5 286.54 486.3 286.40 486.0 285.72 488.2 289.49 489.3 289.19 477.7 289.24 485.5 288.87 481.7 288.71 491.1 288.33 480.2 289.08 475.9 288.86 480.0 289.16 475.4 290.46 484.3 289.99 476.1 289.68 480.4 289.31 485.7 290.92 478.5 288.74 478.5 291.60 477.7 292.74 483.2 294.93 472.0 291.44 490.0 292.35 479.2 292.24 476.6 292.91 492.3 291.50 480.5 293.40 487.6 294.13 487.3 294.15 481.4 293.11 477.1 295.07 481.3 294.24 478.7 294.74 487.0 294.97 478.1 297.43 479.6 295.84 481.7 296.19 477.1 297.17 494.2 295.88 477.4 297.05 479.6 295.94 487.8 296.15 493.9 297.44 476.9 297.44 487.3 296.79 481.9 298.16 487.5 298.46 490.9 296.65 485.5 299.43 488.9 299.61 479.4 300.93 483.3 297.82 492.0 300.25 490.8 300.91 494.2 298.73 491.2 299.91 488.1 300.30 489.9 299.75 479.3 302.76 486.8 303.17 484.7 302.59 497.9 299.81 479.8 301.42 484.7 303.83 485.1 303.37 483.4 300.02 484.0 305.19 485.3 304.17 490.0 303.15 494.4 303.73 491.8 303.43 488.1 304.62 487.8 305.37 488.6 306.22 499.4 305.95 502.3 307.05 486.4 305.03 488.8 308.90 488.0 307.21 492.4 306.66 491.4 306.77 506.5 308.25 510.6 306.21 500.4 308.28 491.3 306.11 509.3 309.94 488.8 309.89 503.1 307.66 495.7 310.46 500.2 308.98 497.0 308.36 502.0 311.33 508.9 308.98 493.8 311.49 494.6 312.02 496.7 309.81 496.9 309.33 515.7 310.60 506.2 309.47 503.5 311.16 508.7 312.05 493.8 312.04 506.5 312.16 490.6 311.66 505.1 312.64 501.2 314.08 502.9 314.16 497.3 314.15 514.6 312.05 505.0 314.96 519.3 312.49 500.6 315.49 503.0 314.97 519.1 314.47 507.2 314.11 511.1 316.56 503.5 314.73 506.1 315.64 510.7 316.92 506.0 316.09 512.4 317.69 517.9 316.79 509.2 318.14 511.9 318.28 517.1 317.96 517.0 318.19 511.3 320.45 519.9 317.92 519.7 317.39 506.2 320.39 513.0 318.72 519.2 318.25 509.4 320.14 512.7 321.38 515.9 321.71 514.5 321.32 518.2 321.71 530.1 320.24 519.5 322.01 517.9 322.07 514.5 321.98 527.7 323.01 526.2 320.28 515.6 321.41 522.0 320.72 514.1 325.09 537.3 324.18 521.4 323.73 526.1 324.61 519.1 323.58 524.6 324.10 523.2 323.20 532.7 324.70 531.7 324.37 527.8 326.21 529.6 324.94 534.0 325.92 519.5 325.73 531.1 326.45 528.8 325.99 526.7 325.09 528.7 328.18 526.4 327.90 529.1 328.92 534.5 328.73 529.8 329.51 524.4 329.55 531.6 328.81 535.5 330.80 532.7 329.22 521.9 327.75 525.7 328.30 540.3 330.28 535.0 331.05 534.5 329.78 530.9 329.45 539.3 330.68 543.4 332.04 537.0 330.96 538.8 330.66 542.4 332.59 541.8 332.89 541.4 333.76 547.1 331.59 531.9 334.36 537.6 334.57 537.8 334.68 533.8 333.57 542.9 334.26 550.0 332.75 538.4 335.44 546.4 336.45 549.6 334.61 538.4 333.49 545.2 337.19 543.1 335.98 554.7 336.75 548.1 336.95 551.8 335.50 555.8 336.87 560.7 336.23 550.9 336.65 551.7 339.08 550.8 336.44 550.4 338.95 551.8 338.09 545.6 338.36 548.1 339.49 553.2 338.32 562.5 338.39 554.6 338.43 550.4 340.08 559.1 340.45 563.2 339.43 560.0 340.21 553.2 341.92 557.7 339.76 564.5 341.09 568.0 340.32 561.0 340.91 561.0 341.26 566.7 342.21 567.2 342.64 566.4 342.04 571.7 344.11 570.5 343.04 564.0 342.81 566.8 343.70 571.5 342.13 563.6 343.07 575.1 344.67 570.3 346.50 587.7 347.61 574.3 345.84 573.3 345.17 577.9 346.00 583.4 346.43 580.4 346.89 573.8 348.53 580.1 344.65 577.4 346.32 581.3 347.24 582.0 346.07 581.2 348.24 589.3 346.84 580.6 348.90 583.0 347.55 589.4 345.81 593.8 349.59 585.9 348.90 588.9 349.23 599.5 348.97 588.1 350.91 598.3 350.65 589.9 350.89 593.3 351.75 589.2 348.41 590.6 352.50 599.0 348.99 590.6 352.10 595.3 352.57 599.3 353.41 596.3 353.95 589.8 352.84 602.5 351.86 599.1 354.74 603.3 354.67 591.4 354.64 591.9 352.62 599.5 355.57 598.0 354.65 607.1 355.15 610.7 354.78 601.5 354.86 606.7 356.14 606.4 356.01 606.5 355.23 611.5 356.29 602.0 356.92 610.7 357.24 604.8 356.77 604.2 356.10 611.4 357.93 609.8 356.97 610.0 357.84 614.0 358.74 616.5 358.76 616.4 358.79 604.5 358.54 611.6 360.84 611.6 359.58 614.1 360.71 619.1 359.33 615.2 360.80 621.7 359.98 616.2 361.44 629.6 360.30 614.9 361.61 621.4 361.36 622.9 363.97 621.1 364.12 626.5 362.78 625.7 363.73 620.8 362.21 627.6 360.30 617.9 362.75 624.5 363.01 627.8 364.08 638.0 363.88 632.2 364.48 631.4 364.20 633.2 366.84 631.4 366.43 628.6 366.25 630.0 365.31 630.0 364.28 640.3 365.73 634.5 366.14 634.0 367.01 634.9 367.33 633.9 369.20 633.0 367.94 642.5 367.52 635.7 367.14 636.7 367.48 638.1 367.73 630.2 367.98 632.5 368.89 636.9 367.41 634.6 370.45 633.7 367.46 645.9 371.20 634.5 369.33 644.6 369.82 636.3 370.94 641.7 372.68 638.6 368.92 640.1 369.57 644.7 371.12 638.2 372.58 647.4 372.27 652.0 370.90 650.6 373.90 651.9 374.18 648.9 373.03 654.7 371.22 652.4 373.32 660.6 374.59 643.4 375.56 653.7 375.91 650.9 373.46 651.9 374.22 646.0 374.03 653.6 376.24 656.3 375.99 657.7 376.44 658.3 376.58 646.3 376.62 656.1 374.90 658.7 376.61 661.9 376.20 659.1 377.43 663.9 378.04 658.9 377.41 661.2 376.01 652.2 378.69 658.0 380.52 657.8 378.29 660.7 378.04 665.9 379.70 659.4 380.01 663.7 380.80 657.8 382.65 664.3 380.63 661.6 381.13 660.4 382.10 663.4 381.38 663.3 382.88 662.7 380.73 662.2 379.96 669.4 381.56 668.1 381.13 673.8 383.07 664.2 385.57 666.9 385.11 671.7 383.87 667.0 383.46 662.8 386.70 671.2 383.30 678.6 384.05 667.1 385.48 666.4 384.46 673.2 385.40 669.8 384.79 668.3 386.47 671.5 387.77 673.1 385.69 676.3 385.24 677.7 386.03 670.5 387.40 676.2 389.12 680.0 386.89 686.3 386.11 676.9 387.17 676.6 389.23 679.6 388.82 679.5 388.91 677.0 386.57 675.6 389.09 675.9 387.55 689.5 391.67 673.0 391.22 677.7 391.35 678.4 391.87 678.8 390.65 678.9 390.58 682.9 391.44 681.4 391.54 670.3 390.24 681.7 389.75 686.4 391.77 685.7 392.81 673.8 394.17 687.7 393.83 684.7 395.36 678.5 393.91 686.4 392.48 682.9 395.01 683.5 393.98 685.4 396.15 677.7 395.10 684.4 394.89 680.1 393.30 690.1 397.98 672.9 397.35 684.1 394.89 683.2 395.36 686.8 395.76 688.4 398.50 690.9 394.07 685.4 395.46 688.3 396.82 684.1 395.68 690.4 397.76 693.7 398.17 683.9 397.99 684.1 398.69 688.1 398.84 692.6 398.75 690.3 400.39 683.3 398.29 684.4 397.74 690.7 401.32 697.5 401.65 686.7 403.08 688.2 400.22 686.6 400.02 689.6 401.91 695.9 401.97 689.6 403.43 682.5 402.99 688.8 401.95 686.8 399.23 693.6 402.42 694.9 404.84 689.7 403.00 691.1 403.48 698.3 403.04 696.7 404.60 693.2 405.24 686.9 403.84 694.1 405.13 694.5 402.82 694.8 406.11 687.8 405.81 684.6 405.81 698.4 401.46 705.0 407.83 688.3 405.54 695.4 407.08 696.6 408.23 696.1 409.67 698.3 407.81 695.9 406.51 700.5 408.55 690.2 409.55 694.6 410.54 701.7 409.33 691.1 410.11 697.7 408.65 692.1 410.71 699.8 412.18 696.0 410.04 692.0 411.26 701.3 410.37 690.3 409.32 698.0 410.51 698.9 409.65 697.1 411.70 696.7 411.86 696.5 413.51 697.6 414.20 694.3 412.82 695.3 413.35 701.1 411.76 696.9 415.29 704.3 412.40 699.9 413.15 696.9 413.75 699.5 414.62 694.0 415.86 699.2 414.25 694.9 416.67 702.8 415.49 706.4 415.31 699.8 415.08 698.0 417.12 699.3 416.80 698.6 416.70 701.0 416.54 701.9 417.38 703.3 419.76 701.8 418.24 702.4 418.80 700.0 418.72 693.5 418.23 698.5 418.59 699.3 419.64 698.0 418.69 692.0 418.99 695.1 419.64 703.1 420.25 697.1 418.22 702.7 420.47 700.6 422.32 701.2 421.49 701.8 420.92 703.3 419.45 697.3 420.61 699.2 421.46 699.9 422.16 703.4 422.05 694.8 423.10 703.8 426.09 702.9 424.74 703.4 424.12 696.7 423.13 705.3 423.14 705.2 423.83 695.9 425.43 704.0 424.70 700.8 427.53 697.1 424.20 701.5 423.69 699.2 425.27 699.7 426.22 693.7 425.33 692.9 426.89 694.1 426.98 697.5 425.26 699.2 427.64 694.7 426.47 696.5 428.51 704.3 429.89 701.8 428.84 700.7 426.27 693.9 426.50 698.0 429.75 697.1 429.26 699.5 428.81 699.1 428.12 702.0 431.79 701.8 428.77 696.9 430.18 697.5 430.98 701.7 429.64 695.4 432.32 702.7 431.82 706.8 432.13 697.2 432.26 703.3 431.58 690.3 430.67 703.0 433.45 695.8 433.52 693.7 433.30 692.6 435.37 694.6 434.41 694.9 433.52 701.8 432.43 701.4 433.89 695.0 434.39 694.4 436.43 692.1 436.38 699.0 436.33 700.8 435.74 701.7 434.62 696.9 437.07 690.2 437.29 696.5 435.64 701.4 436.75 694.7 437.71 698.9 436.98 704.6 437.13 699.6 438.03 700.3 438.64 700.3 437.70 699.9 438.56 695.5 437.31 705.8 437.25 695.2 441.36 701.6 439.27 698.6 439.28 699.0 440.10 697.1 440.89 700.3 442.67 696.7 441.63 696.0 442.44 695.2 441.61 697.9 441.37 694.3 441.59 695.5 442.38 694.6 442.84 699.3 442.92 704.5 442.15 691.0 443.44 696.4 442.66 697.7 444.74 697.7 443.40 689.2 444.31 699.4 443.75 700.2 443.31 692.8 445.87 694.4 446.95 704.4 446.31 703.9 445.36 700.2 446.64 693.9 447.35 694.0 444.60 698.1 447.84 697.0 445.43 690.9 446.07 697.6 446.54 699.6 447.58 693.6 447.26 698.4 448.23 699.3 450.39 696.4 447.20 700.3 449.17 696.5 447.90 696.3 451.45 700.7 449.06 696.9 451.07 696.2 449.84 695.0 449.65 693.8 452.42 688.8 450.02 697.5 450.18 696.6 451.80 690.1 451.69 689.6 452.37 694.7 450.37 698.7 453.52 691.7 452.20 700.7 453.16 694.0 451.38 700.7 452.30 696.4 454.02 698.3 451.81 692.5 453.30 696.2 454.64 693.0 452.72 694.9 453.71 698.1 453.64 699.8 454.86 689.9 457.02 695.3 453.95 694.9 456.54 697.9 455.60 698.1 455.07 692.9 455.69 690.3 456.76 694.5 456.51 700.1 455.96 695.5 456.34 696.9 459.46 692.1 460.13 700.8 459.14 690.6 458.21 694.5 459.37 692.7 460.59 689.7 460.17 695.6 461.51 695.7 459.61 692.0 459.75 695.3 460.23 692.3 461.07 697.7 463.06 693.4 461.92 687.3 460.06 696.8 463.42 689.6 462.28 689.5 462.93 690.2 463.71 690.1 463.74 693.5 460.09 687.1 463.88 694.5 463.10 687.1 463.62 696.3 464.64 682.6 465.47 689.0 462.84 691.3 465.08 690.3 464.59 686.0 466.50 688.3 462.84 689.7 465.64 692.0 466.58 692.0 464.60 692.8 466.31 693.6 467.10 692.7 464.69 690.5 470.11 696.5 467.20 695.0 468.75 688.2 467.21 686.1 467.70 691.6 468.89 693.5 465.99 680.6 467.80 692.2 469.27 689.4 470.50 690.0 472.00 693.2 466.49 686.6 470.02 689.1 469.87 685.6 470.84 689.1 470.53 684.0 473.00 688.3 470.55 688.4 472.90 692.4 472.49 689.3 472.25 692.9 473.22 686.4 471.00 697.1 474.90 689.6 472.83 684.4 474.37 684.9 474.29 693.8 475.00 694.2 474.52 688.8 474.20 685.2 472.93 685.0 472.92 688.1 475.56 694.4 475.52 684.6 477.38 692.4 473.60 690.6 476.48 683.8 475.40 688.4 476.41 691.4 477.93 688.5 478.88 687.9 477.27 684.0 477.25 700.6 478.54 693.4 477.02 694.3 478.65 687.0 479.45 691.1 478.66 687.9 479.60 683.5 478.91 686.2 480.41 683.6 479.99 682.2 480.86 685.7 481.95 689.1 479.75 689.5 481.54 687.4 482.22 686.4 482.58 681.8 482.78 691.2 481.48 686.2 484.30 687.3 482.73 685.4 482.56 686.7 483.99 682.9 481.92 688.6 484.29 682.2 483.91 681.4 482.03 681.1 484.10 685.8 485.66 686.5 487.12 685.1 486.22 684.8 485.03 684.7 486.66 686.1 485.80 683.8 487.45 687.0 486.14 684.8 486.24 679.4 486.84 690.1 488.79 682.7 485.64 687.3 486.53 678.0 488.19 682.9 487.15 688.3 488.18 699.3 486.51 687.9 490.10 682.4 489.13 687.1 489.77 686.0 488.02 681.4 490.73 691.1 490.67 686.0 490.09 686.3 491.42 681.2 489.91 681.9 488.26 684.3 490.86 681.4 494.05 683.4 490.80 681.6 491.70 687.5 491.61 685.3 492.73 682.7 493.19 695.2 492.78 677.6 493.46 685.8 493.34 686.1 494.02 686.7 495.16 683.1 493.95 687.0 495.51 691.1 494.15 685.5 496.88 688.6 494.52 688.8 495.30 683.1 496.48 686.0 496.73 689.4 498.26 692.9 494.80 688.4 497.00 693.2 497.54 685.1 497.68 682.9 496.71 689.8 495.10 689.3 495.50 688.2 500.98 695.8 501.23 692.0 496.98 689.3 499.30 688.6 498.92 689.8 500.29 691.0 500.47 695.5 499.90 683.9 501.27 692.2 498.99 689.7 500.09 693.9 502.00 693.4 503.33 692.4 499.17 688.8 501.91 685.1 501.62 695.0 502.48 690.7 504.19 692.5 502.46 694.7 501.56 692.3 503.31 689.7 501.86 691.2 505.14 691.2 502.76 688.2 503.70 694.9 504.10 693.4 505.36 689.5 505.75 693.1 506.18 694.8 505.58 690.9 505.20 691.6 506.00 692.7 507.38 698.1 506.40 698.3 506.59 695.0 507.32 696.7 508.08 696.2 506.72 697.1 507.84 690.8 509.15 695.7 505.55 698.0 509.66 686.2 509.72 690.7 508.22 701.6 508.62 696.2 509.78 698.9 509.25 693.7 511.70 699.7 511.12 698.0 508.23 695.2 512.60 698.1 510.71 694.0 512.00 692.6 509.37 692.7 512.72 690.0 511.63 697.1 512.25 695.4 512.86 701.2 512.64 700.9 511.29 697.4 512.29 698.9 515.86 698.3 511.84 691.0 512.73 700.6 512.54 699.1 514.67 702.8 514.35 705.3 514.67 706.2 513.24 704.1 518.28 693.7 516.70 704.0 515.61 702.4 516.72 698.9 516.32 705.4 516.07 700.3 518.84 705.7 518.09 710.3 516.73 700.6 517.93 705.6 517.86 706.6 518.13 706.7 517.18 701.0 519.05 695.6 518.00 710.3 521.01 702.4 521.24 703.5 520.78 702.1 519.81 701.2 519.40 707.3 519.05 709.4 521.51 708.7 520.91 705.4 521.21 707.5 520.53 700.8 523.02 710.3 519.74 704.0 522.54 701.2 521.46 707.8 522.92 704.8 520.74 714.8 524.73 708.8 520.90 710.7 523.45 714.8 524.12 704.0 525.26 705.7 525.14 714.2 525.14 708.8 525.03 709.9 527.29 711.9 523.32 710.1 527.43 709.5 526.03 709.1 527.38 709.6 525.81 712.7 529.69 713.2 525.20 704.5 528.47 707.6 526.33 705.4 528.60 711.4 529.10 711.5 528.26 716.4 528.65 706.7 528.25 709.4 528.21 709.4 528.68 712.7 529.51 714.1 529.99 714.7 529.11 715.1 531.68 715.5 530.43 714.3 531.13 713.4 531.20 715.4 531.23 712.5 530.92 715.5 532.16 715.5 532.19 716.8 531.77 713.1 533.67 707.6 532.70 713.6 532.47 716.5 533.68 715.6 532.59 715.9 533.17 713.3 533.83 718.2 533.97 715.2 533.42 712.5 536.82 716.3 533.88 713.4 534.91 721.2 536.98 723.0 537.04 715.0 537.80 721.6 537.26 720.3 535.04 718.7 535.77 719.0 538.28 715.0 537.83 710.2 537.35 718.2 535.67 723.2 538.32 716.1 538.13 717.2 538.65 719.4 538.75 718.2 538.97 723.1 540.01 715.8 539.51 721.9 539.82 712.9 539.04 715.1 541.02 721.4 539.11 719.3 541.86 722.4 542.48 715.3 541.56 719.2 540.94 723.0 542.72 717.3 541.53 724.1 542.39 721.3 543.25 723.3 542.32 713.5 544.51 721.7 543.35 717.2 543.50 719.2 540.94 722.2 544.92 717.7 542.40 714.3 544.64 720.6 544.29 729.2 544.67 727.3 542.82 725.6 545.29 721.3 546.23 719.1 545.45 723.7 545.86 722.6 548.34 718.4 544.56 726.1 548.21 722.5 546.26 723.3 547.14 723.0 549.03 722.7 548.05 725.0 547.86 720.0 551.77 728.6 550.70 726.4 549.68 724.7 549.87 720.2 548.55 726.9 549.64 718.7 550.79 727.5 550.64 721.4 550.59 727.3 551.24 724.4 550.35 729.7 551.51 721.5 553.86 714.4 549.49 727.8 550.93 721.5 551.87 724.2 553.40 725.9 552.30 726.5 553.21 727.7 552.98 722.1 555.54 721.9 553.29 726.8 553.30 727.6 554.59 728.4 553.93 723.0 554.62 724.5 552.76 723.5 554.38 726.5 555.57 734.1 554.48 720.2 556.10 722.8 555.74 732.2 557.32 730.2 560.21 725.1 557.45 729.3 558.52 735.4 557.65 725.9 557.98 729.2 557.75 731.1 557.37 730.5 557.47 728.4 559.21 725.1 557.79 732.4 559.39 732.8 560.89 729.7 559.05 724.5 558.93 732.3 560.42 726.5 561.09 724.5 557.11 734.6 558.62 732.7 561.17 733.0 560.39 732.6 561.69 733.0 563.11 738.6 564.56 736.0 562.01 729.6 562.52 728.9 562.70 735.1 565.64 733.8 565.37 734.1 562.11 728.6 562.75 726.3 562.38 727.5 563.93 730.8 562.29 727.9 565.90 728.7 566.27 728.9 566.13 733.0 564.92 734.4 565.67 733.0 567.36 730.1 566.54 731.1 565.78 732.2 566.93 736.6 565.84 740.8 567.36 739.4 570.68 731.9 565.49 735.8 568.60 738.2 568.61 737.3 569.62 740.0 569.35 734.1 568.64 736.4 569.28 737.7 569.82 741.3 568.21 739.7 569.59 739.6 567.75 731.7 570.12 741.6 570.11 738.0 570.07 733.2 571.49 737.7 572.52 739.8 571.39 737.3 574.52 739.8 570.79 734.0 572.73 745.6 575.31 736.0 572.80 738.4 573.55 733.7 575.52 733.9 573.87 740.5 572.67 736.8 574.38 736.2 575.50 740.6 574.46 740.1 574.31 738.7 574.60 740.2 576.05 740.1 575.30 736.5 578.17 739.5 575.61 737.9 576.92 739.4 578.34 734.7 577.60 743.5 575.15 738.0 577.96 743.3 577.38 744.9 577.89 739.2 577.32 746.8 578.53 738.0 579.04 740.1 577.78 739.1 577.42 738.6 580.27 740.1 580.66 740.1 581.45 739.1 580.44 740.7 580.00 741.7 579.66 742.6 582.35 742.0 582.32 741.8 584.00 741.7 581.22 747.5 581.76 739.8 584.16 737.4 581.20 742.6 580.89 743.8 582.56 742.6 584.48 744.8 585.21 738.2 583.33 744.5 584.02 746.5 582.62 743.8 587.05 745.0 587.43 746.9 585.46 742.5 584.80 737.9 586.61 744.7 586.89 745.5 585.51 739.8 584.94 749.5 585.58 743.2 589.84 745.4 585.78 741.2 586.77 740.2 587.97 743.2 587.52 741.0 587.72 746.3 588.93 746.7 588.96 735.2 590.64 746.3 588.64 739.7 589.80 750.6 590.58 742.6 590.18 744.5 589.83 742.1 590.42 745.4 588.16 742.5 591.56 743.6 591.77 743.4 591.57 745.9 593.62 742.0 589.47 741.5 592.42 744.4 591.49 744.3 593.23 744.1 590.70 740.1 592.55 744.5 594.70 741.7 593.97 742.3 594.00 747.7 594.91 741.0 595.36 740.3 595.14 742.9 593.77 745.8 593.72 744.7 596.86 743.4 597.96 748.7 598.98 749.1 597.32 737.9 596.40 743.0 597.82 739.2 596.81 745.0 599.14 744.1 598.73 747.8 594.62 737.5 598.65 741.6 598.49 743.2 596.36 747.7 597.16 746.4 598.47 748.3 599.52 746.5 599.10 746.8 600.47 743.4 597.54 741.9 599.91 749.4 600.57 743.1 601.50 743.5 600.63 749.2 599.39 748.5 602.80 743.3 600.95 748.4 602.53 749.2 601.29 744.4 602.19 747.4 601.04 749.4 601.63 742.5 601.98 746.6 604.01 743.2 605.40 744.6 605.75 741.2 604.40 743.4 604.36 748.2 601.16 743.4 605.19 747.5 605.10 748.6 605.71 744.1 604.99 746.5 606.67 744.1 607.89 743.8 606.47 740.0 609.02 747.1 608.38 749.5 608.63 743.8 607.90 743.5 605.26 746.9 608.26 745.4 608.28 744.9 609.76 752.4 609.03 745.5 609.18 743.6 607.12 743.4 609.33 744.2 610.38 750.4 610.14 747.9 612.30 750.1 610.22 742.8 610.86 752.8 610.91 744.9 611.49 748.1 610.54 742.1 612.20 744.9 611.94 741.6 612.77 746.2 613.70 748.2 612.87 740.6 614.52 744.1 612.06 744.0 614.41 745.0 612.26 745.4 614.56 748.1 614.24 746.3 614.03 743.2 612.86 747.8 615.86 745.6 616.86 741.5 614.52 750.3 615.79 745.3 615.24 742.0 615.76 745.6 618.46 743.2 617.55 742.1 616.96 747.5 616.68 741.8 617.10 742.8 619.54 741.1 618.99 744.3 619.28 745.2 619.18 747.1 620.12 750.9 616.34 745.3 619.59 743.2 618.20 744.0 620.07 746.6 621.11 744.9 619.37 747.7 619.01 748.5 619.30 743.4 623.95 745.8 619.68 746.4 622.21 742.9 623.88 742.6 621.16 744.9 622.75 742.8 619.43 746.1 621.81 749.7 622.78 747.0 622.35 745.4 623.81 743.0 625.94 750.9 624.10 742.9 623.77 746.1 624.33 744.1 625.55 746.0 624.68 748.6 625.97 745.8 625.88 746.2 622.99 748.1 625.55 738.7 624.30 743.4 624.96 742.9 624.91 735.1 625.78 741.7 627.34 747.7 626.66 749.1 629.11 739.0 627.09 742.3 626.85 746.0 626.58 744.1 627.69 748.3 628.55 744.6 630.86 745.0 629.13 743.9 629.95 742.1 628.46 747.6 631.05 749.9 631.51 749.3 631.38 744.4 631.89 744.9 631.60 744.2 632.46 746.6 630.68 745.4 629.69 745.6 631.10 743.8 632.82 739.4 635.18 739.9 633.80 745.5 634.78 744.6 632.34 743.3 633.03 740.9 632.03 744.8 634.42 747.2 635.09 745.0 635.16 747.2 633.71 744.7 634.88 739.3 636.22 743.7 635.50 740.7 636.81 747.3 635.88 746.6 636.26 749.0 637.55 744.8 636.68 740.1 638.08 738.7 637.56 740.5 637.96 743.4 638.73 745.9 638.02 745.1 637.34 746.7 636.11 740.8 638.19 744.8 638.10 744.4 639.67 742.4 640.73 740.1 639.89 743.7 642.29 744.7 640.29 740.7 641.73 740.1 641.20 746.7 641.52 745.5 641.42 737.5 639.20 744.3 641.11 744.9 642.96 741.5 640.19 741.1 643.14 743.1 642.92 746.3 644.06 744.2 643.44 743.8 641.24 739.7 645.55 746.8 643.92 744.5 644.78 740.1 644.06 740.2 644.91 740.7 646.48 743.6 647.36 742.7 646.38 745.9 647.43 739.2 645.22 747.6 646.10 737.8 643.33 740.8 647.77 747.2 647.43 747.9 646.54 739.7 646.32 741.3 647.29 745.2 650.41 751.6 649.03 741.3 650.75 741.0 649.37 747.3 648.93 743.6 649.11 741.7 651.25 746.0 650.39 746.2 649.98 747.9 652.51 739.6 647.83 742.7 651.53 739.0 651.29 744.0 654.52 744.2 650.70 743.5 652.46 747.6 652.54 742.9 652.70 748.3 650.58 741.2 654.47 741.8 653.92 742.5 654.32 749.5 655.47 746.7 655.58 744.4 652.99 745.5 654.43 741.5 656.13 741.9 654.68 745.8 656.85 746.1 654.68 742.7 658.14 748.4 657.05 742.8 657.01 739.2 656.15 743.5 656.61 743.4 656.86 748.2 657.45 741.2 657.66 747.6 657.80 743.8 657.60 746.4 657.74 744.0 658.55 745.4 659.34 740.3 658.15 746.5 659.39 744.3 658.23 746.2 660.43 743.4 662.38 745.3 659.47 739.1 662.85 746.2 662.23 745.9 660.50 745.8 661.31 744.6 661.94 740.3 663.15 752.4 660.86 745.9 662.53 751.0 664.05 746.1 662.31 743.1 662.92 745.5 662.47 746.3 661.69 746.4 662.39 744.7 663.46 747.1 665.89 748.9 666.59 746.6 664.36 747.3 664.72 749.7 665.59 749.1 665.58 744.9 665.37 752.4 666.59 748.3 665.89 750.3 667.62 745.9 665.57 746.9 666.63 748.2 669.55 751.1 667.65 751.1 666.72 754.4 667.93 749.1 668.83 748.6 669.26 747.5 669.16 750.0 670.86 746.9 668.42 752.2 670.41 753.0 669.27 745.7 669.82 749.9 671.82 754.5 670.72 747.4 668.74 746.9 670.71 752.8 672.61 747.1 670.63 748.4 671.30 755.0 671.54 751.4 672.99 748.1 672.37 751.3 671.37 750.3 673.01 753.3 671.51 746.7 674.93 750.3 672.97 751.9 675.44 749.1 676.45 748.8 674.50 751.5 672.56 752.4 675.66 752.9 676.58 754.0 675.19 756.4 675.35 759.5 676.14 750.8 676.19 754.5 676.70 751.3 676.51 752.9 676.90 756.0 676.78 760.0 678.67 750.7 678.05 757.4 676.98 751.6 675.16 760.9 677.56 756.0 679.83 751.8 678.23 754.4 678.88 754.4 679.14 755.6 681.52 756.0 679.01 749.2 678.56 756.9 679.04 757.1 678.84 758.4 682.03 757.2 679.56 752.2 682.11 752.8 681.72 756.0 681.71 758.0 682.94 753.8 680.78 751.9 683.00 749.7 682.44 750.2 683.04 757.4 682.09 753.6 683.23 755.1 682.84 755.9 683.94 756.8 685.18 754.8 685.23 755.9 684.39 756.1 684.48 755.6 686.40 759.2 687.24 761.2 686.89 753.5 684.74 757.5 685.88 758.5 686.75 757.2 687.56 762.6 688.93 757.0 686.50 756.5 687.81 756.7 689.22 759.0 687.62 757.2 689.54 766.0 687.65 760.1 689.42 758.3 688.74 759.4 687.72 757.3 688.60 761.8 690.52 753.8 688.66 756.5 687.40 759.4 690.55 757.5 690.98 761.2 690.05 754.5 694.49 756.8 692.69 760.7 692.17 757.9 690.59 757.3 691.56 760.3 691.34 763.2 691.92 755.0 693.45 758.7 693.22 762.9 694.19 762.6 692.95 759.4 696.11 758.9 693.51 761.2 693.75 761.8 694.33 761.5 694.83 762.4 697.68 759.9 695.63 764.6 694.82 757.1 697.00 764.3 694.67 761.9 699.05 764.4 696.54 759.2 696.67 758.2 696.13 763.9 697.25 764.3 698.62 757.3 699.11 765.1 698.00 764.4 696.04 759.1 699.69 766.8 699.92 763.1 699.93 766.9 698.74 769.9 701.80 766.0 700.20 762.7 700.36 768.0 701.20 764.2 702.30 766.5 702.85 764.0 700.56 763.4 700.65 763.2 700.93 765.6 701.48 764.9 704.18 768.7 703.05 773.0 703.91 761.8 701.15 759.4 706.13 759.7 702.13 764.4 704.80 771.8 705.79 763.2 703.06 765.8 702.30 764.4 705.28 768.1 703.49 765.8 705.12 765.1 705.44 765.8 707.31 761.7 707.08 764.9 706.49 766.2 707.70 769.8 707.48 765.4 707.87 763.0 708.23 768.4 706.78 767.4 706.53 766.5 709.07 761.5 708.36 764.0 707.60 769.9 708.01 765.8 710.53 769.7 707.47 765.9 709.77 769.9 709.17 771.4 708.50 766.9 710.63 767.3 710.51 769.5 710.25 766.0 709.89 765.7 711.70 770.8 711.88 765.6 712.60 766.6 711.32 773.0 713.06 769.4 713.66 766.4 712.83 770.1 712.15 766.7 711.15 769.0 715.37 769.8 714.81 770.0 715.16 766.2 714.62 767.8 714.75 771.2 715.95 774.8 715.79 767.4 716.77 769.9 714.23 765.8 715.87 770.3 715.17 771.2 717.69 772.2 717.15 768.8 716.71 769.1 717.81 763.5 716.75 767.0 718.03 771.8 717.43 768.4 716.29 770.1 718.10 768.7 721.29 770.2 718.04 766.5 717.23 769.9 720.56 770.4 719.60 770.2 719.28 775.8 720.13 768.7 719.61 770.4 722.02 770.3 721.53 774.1 720.28 771.8 724.43 767.3 721.20 772.4 719.81 771.0 723.78 775.1 722.43 766.8 723.11 774.1 721.98 768.9 722.47 771.3 724.18 770.9 726.23 772.2 724.67 772.9 725.12 773.2 723.16 771.3 726.23 770.7 725.14 771.2 724.98 771.5 725.71 770.4 725.10 773.4 724.69 767.8 723.37 773.7 726.80 769.6 727.46 773.2 725.92 775.2 728.54 774.4 726.63 775.5 726.91 771.2 726.09 774.3 728.68 773.7 729.59 771.1 729.10 769.6 728.02 770.2 728.30 776.0 728.59 771.9 731.82 775.3 732.62 773.2 730.78 774.5 730.16 770.7 731.29 771.0 731.98 770.1 733.21 771.8 730.10 775.5 731.78 771.8 731.90 771.9 730.03 773.1 732.28 773.2 730.94 774.0 733.92 771.7 733.40 773.4 734.06 768.2 733.97 775.6 733.40 776.6 732.14 772.3 732.40 775.1 735.40 773.6 738.46 771.8 735.35 774.3 736.14 772.9 736.63 772.7 736.91 772.1 737.18 772.7 737.36 778.7 736.46 776.3 736.46 775.1 737.97 774.2 738.31 774.4 736.11 772.3 741.04 771.0 736.44 770.5 738.46 771.9 737.59 773.4 740.98 772.9 738.61 772.2 739.88 777.2 739.65 773.7 740.36 777.8 740.59 772.7 741.42 778.3 739.90 777.1 741.95 777.7 740.73 779.8 741.47 776.0 741.29 774.3 743.08 777.9 741.85 781.7 741.67 775.5 743.00 775.5 743.62 780.0 744.00 776.8 743.55 773.4 743.64 775.4 742.27 778.2 745.77 775.5 744.57 774.9 743.77 778.9 745.93 778.9 744.86 780.4 745.53 773.1 746.68 775.1 745.79 777.0 745.22 781.2 746.46 778.6 746.56 776.2 745.06 776.3 747.40 778.8 748.33 774.5 746.86 778.3 748.26 778.0 748.73 780.3 749.08 777.4 748.75 775.7 744.66 773.0 749.55 776.9 750.52 783.8 750.41 779.9 747.87 776.2 751.66 775.2 752.05 776.7 748.42 776.9 748.84 777.5 750.53 780.4 751.85 782.3 751.55 777.1 753.01 774.7 752.95 778.3 753.93 776.2 754.86 777.6 752.36 773.3 754.20 780.1 752.53 778.0 753.82 783.0 752.58 779.5 755.65 774.9 754.53 775.7 754.50 775.8 756.40 777.3 755.14 780.7 754.69 776.2 753.09 776.9 754.79 782.8 758.38 776.2 755.14 780.8 758.16 778.9 756.20 778.2 758.94 775.6 757.83 779.4 757.11 774.5 757.45 774.7 758.63 781.1 758.00 778.8 760.18 779.2 760.38 784.0 756.09 780.6 759.87 778.3 760.27 776.7 761.15 780.7 759.98 780.5 761.33 782.8 759.94 778.8 760.22 779.8 760.47 780.3 760.59 778.9 762.85 777.2 763.41 780.2 764.39 780.3 762.72 781.5 762.10 781.3 761.32 782.0 764.86 779.5 764.20 781.0 764.05 782.3 768.51 777.8 764.65 780.4 764.81 780.3 764.58 776.5 763.88 779.2 767.37 779.9 766.03 778.9 766.53 775.9 767.16 778.8 764.11 776.3 765.91 776.5 766.02 778.8 768.95 779.2 766.73 777.9 766.06 776.1 767.15 780.1 768.07 780.0 767.72 778.2 769.81 782.5 770.63 780.7 769.04 778.1 767.55 782.7 770.55 781.3 767.38 779.0 768.02 777.0 770.50 778.1 771.87 781.0 772.00 779.2 770.67 779.0 772.17 777.4 769.87 779.7 770.39 778.4 772.65 781.0 771.36 783.0 771.25 783.6 772.62 781.5 775.09 782.0 774.18 779.6 775.48 780.6 773.66 777.0 773.83 780.0 775.46 777.5 772.28 780.5 775.29 781.2 771.97 781.8 774.83 782.0 775.90 780.4 775.83 778.5 776.91 779.4 776.65 781.1 774.77 778.3 775.31 781.8 780.42 781.3 775.46 782.8 776.98 781.9 777.43 779.1 778.25 779.7 779.16 777.9 776.24 780.4 778.48 778.3 781.34 780.8 781.13 783.0 779.97 780.9 781.13 781.5 781.39 786.6 778.84 778.2 780.99 784.2 779.28 782.3 782.21 786.9 784.15 781.3 781.85 774.6 781.12 782.5 783.69 783.1 780.66 781.0 782.11 782.6 781.13 787.3 784.32 783.4 783.46 779.7 786.85 780.5 785.40 781.7 782.55 780.9 783.97 781.8 783.98 781.1 787.50 783.0 784.89 780.4 783.74 785.6 784.78 781.6 785.72 780.8 785.26 780.1 786.35 781.4 784.65 786.4 787.89 783.1 787.48 784.8 787.96 781.0 789.46 783.1 788.61 779.0 787.13 785.7 788.31 782.1 789.21 786.6 787.76 781.6 789.58 783.1 789.72 782.2 789.82 786.2 788.97 783.5 788.85 783.3 791.14 783.0 788.95 782.8 791.24 783.0 792.10 784.4 790.00 777.8 792.01 784.3 791.67 781.3 793.01 782.9 791.00 783.4 791.71 780.5 792.31 782.3 793.84 779.8 792.00 787.1 792.44 780.9 792.25 784.2 796.53 784.1 793.27 785.1 793.50 783.4 795.04 781.0 794.33 784.2 794.79 781.3 795.74 779.7 795.70 781.8 798.50 783.1 797.42 785.2 796.42 779.7 797.43 781.2 796.22 783.3 796.70 782.8 799.32 786.8 796.34 783.6 797.47 780.4 797.56 786.1 799.34 783.0 798.57 782.1 797.97 779.5 797.53 781.2 798.64 782.4 800.83 784.1 801.01 784.0 800.31 787.6 799.98 786.3 799.80 784.4 801.81 785.5 798.67 784.0 802.40 782.5 803.82 785.0 801.81 782.2 804.71 785.6 801.05 783.4 801.11 783.8 804.42 786.1 803.85 784.1 803.83 781.6 805.76 781.9 805.33 787.7 805.47 784.8 805.99 784.8 804.78 784.1 805.67 781.8 802.82 784.4 804.26 786.3 807.18 783.9 806.98 785.1 805.04 783.7 807.12 784.8 806.73 788.5 805.59 785.8 806.01 789.5 807.10 782.3 805.29 779.2 808.78 785.9 809.46 783.3 808.73 783.7 808.51 785.1 808.62 785.9 807.34 784.0 808.48 785.0 809.23 788.6 811.20 789.9 809.49 784.8 812.09 780.2 810.69 780.5 810.01 783.6 811.66 785.5 810.63 782.7 812.30 785.3 811.86 787.8 814.01 785.9 814.04 789.3 813.39 784.8 814.69 785.5 813.16 783.0 811.60 786.1 813.08 787.2 814.52 784.5 814.88 784.5 813.97 786.5 816.16 785.2 816.33 782.6 815.13 789.9 814.90 784.6 813.32 784.6 817.05 784.2 815.76 785.0 815.73 782.6 815.61 782.4 817.59 782.6 816.56 788.4 817.58 786.5 819.10 786.2 820.03 787.1 818.85 785.2 815.23 788.2 818.02 786.4 818.37 783.1 819.90 778.8 818.19 785.4 822.53 785.7 819.54 785.5 819.63 788.0 820.16 784.3 819.30 786.3 819.48 785.7 820.94 787.4 822.78 786.7 821.32 784.3 822.24 784.7 821.23 787.8 823.74 785.4 823.56 782.6 822.17 787.0 823.11 783.9 824.17 783.4 823.27 786.2 824.07 786.1 824.84 788.6 822.58 783.5 824.79 784.6 825.47 788.7 824.21 791.8 827.10 786.7 825.47 786.3 822.41 786.4 826.14 785.1 827.55 785.1 827.00 788.6 827.22 787.9 827.75 783.6 825.22 789.3 825.59 786.3 826.66 783.9 827.75 786.4 829.44 791.2 829.31 786.6 828.76 787.9 831.57 789.9 829.24 786.9 830.82 784.2 829.31 788.1 829.53 788.2 831.06 786.8 827.87 787.4 831.95 784.4 832.36 785.8 832.34 787.5 831.16 782.2 833.46 795.6 832.08 788.2 833.34 785.9 834.42 785.1 832.07 785.7 832.75 786.1 832.72 788.7 832.58 788.3 836.18 789.4 834.73 788.2 833.06 786.7 833.77 787.1 833.14 783.4 834.98 790.7 834.55 788.1 835.35 785.3 835.88 789.0 836.79 792.2 838.64 787.4 836.95 789.7 836.60 790.4 838.37 793.0 837.64 790.0 837.12 791.0 837.83 788.3 838.81 790.7 837.21 787.8 837.43 788.9 840.33 784.8 839.04 788.9 839.13 787.1 838.28 787.6 841.98 787.9 840.16 787.0 840.20 790.3 839.77 786.3 842.60 792.9 839.95 790.8 842.95 785.5 842.07 782.9 840.97 790.2 842.78 786.8 842.54 787.4 842.59 792.5 842.00 790.3 842.83 785.5 842.47 789.5 841.94 785.9 845.32 791.7 842.39 784.6 844.62 784.7 846.01 788.9 844.71 790.1 845.02 785.4 845.09 789.9 843.97 790.7 847.05 789.2 844.79 788.2 846.71 789.9 846.56 786.9 848.11 790.2 847.11 792.4 848.30 790.3 847.27 786.6 847.40 787.5 849.21 787.2 848.95 787.5 848.37 795.2 848.39 790.4 850.13 788.7 850.36 788.0 850.97 787.0 851.67 787.0 852.31 790.8 851.32 786.6 848.68 790.4 850.02 790.4 848.98 786.4 852.83 788.4 853.25 792.3 853.79 788.9 853.16 789.4 851.81 792.5 853.24 791.3 850.49 790.8 852.43 788.5 855.01 785.1 854.07 787.9 853.35 789.5 852.92 786.0 854.81 793.0 855.80 788.2 856.32 787.3 855.46 786.6 855.27 792.8 855.13 791.4 854.00 787.8 855.97 791.6 855.01 789.7 857.46 790.7 856.40 790.0 856.18 790.2 858.93 788.2 857.42 790.8 858.35 791.1 857.06 787.6 858.00 793.2 859.11 791.1 857.84 792.9 860.04 791.4 860.57 788.8 860.80 788.7 858.99 791.5 861.61 790.6 859.16 791.9 862.25 791.2 860.80 791.0 862.00 791.9 861.81 791.6 861.00 782.9 860.07 796.7 860.31 787.9 864.38 789.5 864.13 790.7 860.73 790.0 863.82 786.9 863.17 790.9 864.82 792.1 861.84 793.2 863.57 790.5 862.63 792.8 862.58 792.9 866.11 791.2 864.50 789.8 866.74 797.7 865.87 789.7 864.23 793.7 866.35 796.4 866.76 790.4 869.24 789.8 867.21 792.0 869.40 793.7 870.21 789.9 868.39 792.5 869.00 790.8 868.05 790.1 868.13 791.6 868.38 788.1 870.95 794.5 869.75 788.6 867.73 793.8 866.66 791.5 868.90 791.6 869.81 793.2 870.25 787.5 869.25 790.9 869.93 790.4 869.62 792.1 872.67 790.9 871.53 795.3 872.22 790.7 872.26 790.0 871.67 791.5 873.57 788.3 872.83 790.2 872.89 792.8 873.61 795.2 873.33 792.8 875.02 789.8 873.28 788.3 875.36 792.2 877.02 795.8 874.30 790.7 873.91 790.8 874.92 795.4 874.94 791.4 877.45 795.1 876.53 793.6 877.96 792.3 877.35 794.6 876.20 796.2 877.37 789.6 878.95 789.0 878.17 796.6 877.22 795.8 877.07 791.1 878.12 793.1 877.78 790.3 881.14 792.4 877.31 792.5 880.24 790.2 878.92 794.4 880.19 790.0 879.43 794.1 881.24 796.7 880.24 792.0 880.73 796.1 882.65 794.8 880.57 792.4 881.68 795.2 882.92 795.3 880.26 792.5 882.41 792.6 882.12 792.0 885.23 791.5 884.55 794.2 883.18 790.9 884.52 794.6 881.76 796.3 882.36 793.2 884.76 790.7 883.65 793.3 884.98 797.0 883.57 798.7 886.14 793.2 885.19 793.5 886.02 793.5 888.28 794.2 885.54 791.4 884.72 792.9 886.51 790.8 889.84 793.2 887.03 793.0 886.64 792.5 887.42 790.6 887.68 790.9 887.59 790.7 888.36 797.6 890.14 792.4 889.34 795.4 889.50 792.5 889.37 790.3 890.27 793.2 888.80 792.1 891.33 794.7 893.10 794.3 892.04 793.2 890.94 795.9 892.52 792.1 891.48 791.4 891.11 791.7 892.09 799.7 892.52 791.7 893.89 790.9 893.71 795.2 894.31 795.1 893.46 792.3 891.67 790.4 892.82 788.9 894.67 793.0 893.60 791.1 895.27 793.0 893.46 797.5 896.12 791.7 893.98 789.6 896.21 790.9 896.86 796.4 896.12 793.8 897.92 796.1 897.82 795.4 896.75 797.7 898.40 793.4 897.57 793.5 897.71 789.0 898.73 795.4 898.23 794.1 895.75 791.2 897.38 793.4 900.66 794.6 901.24 794.6 901.18 793.9 898.85 794.3 897.57 792.6 900.44 797.9 902.08 797.8 900.69 790.8 898.81 795.0 901.87 794.0 901.50 791.9 900.99 792.5 902.70 796.9 900.70 796.7 903.48 794.3 902.33 795.0 901.71 794.5 905.08 794.5 903.48 790.3 901.85 796.6 904.80 792.3 904.29 799.5 905.62 791.7 902.72 792.9 902.90 795.3 904.63 796.6 905.04 792.7 906.65 795.4 906.48 794.3 907.79 798.8 906.78 795.8 906.84 795.3 907.76 795.2 908.52 796.6 908.44 794.1 906.56 798.2 908.59 795.1 908.43 791.4 908.75 793.0 907.25 796.8 911.22 792.3 910.12 794.1 908.50 799.8 909.41 794.3 910.39 799.7 910.18 796.6 909.72 796.5 911.14 795.8 909.91 794.0 909.93 793.7 911.32 796.2 913.38 793.5 912.91 796.1 910.85 795.7 914.25 799.9 913.25 796.6 912.87 795.6 911.60 798.4 911.05 797.4 913.09 795.6 911.69 796.7 913.64 799.7 915.78 796.4 913.46 796.8 916.48 793.3 916.33 799.5 916.44 798.0 915.24 793.4 916.69 797.9 917.65 794.7 916.71 794.3 916.06 794.8 918.98 793.6 917.10 793.6 918.76 794.3 918.79 797.6 917.53 794.9 918.05 796.9 914.96 796.6 917.95 795.9 921.45 797.3 918.51 795.0 918.99 796.7 919.16 796.0 919.00 792.5 920.25 797.1 919.37 793.8 922.80 795.8 920.41 796.6 920.95 793.2 923.64 796.0 920.46 799.4 923.54 795.7 922.90 795.5 920.87 799.1 923.00 796.3 921.93 796.7 922.59 796.6 922.49 795.3 923.25 796.2 924.38 798.4 921.53 793.7 924.02 800.6 924.82 796.7 925.17 795.8 924.55 798.4 923.65 794.4 925.62 796.5 926.02 797.1 926.87 796.8 928.49 798.7 927.18 793.8 928.67 796.2 927.00 798.4 928.72 794.9 927.47 796.1 928.32 795.7 927.91 796.7 928.11 795.6 929.62 794.8 929.43 796.8 928.68 796.9 929.61 795.9 931.08 795.7 931.42 796.1 929.52 798.8 930.46 795.7 930.93 798.3 931.05 798.2 932.11 799.1 931.66 797.5 933.43 797.4 932.43 797.9 931.39 799.1 932.19 795.6 934.50 796.8 931.21 794.2 933.43 797.5 935.75 796.5 934.80 798.9 931.60 795.3 933.54 801.1 936.53 801.3 932.15 793.7 935.54 798.8 936.95 795.5 934.25 798.3 934.22 793.9 935.92 796.6 937.21 799.3 936.70 798.9 936.91 796.4 937.65 797.5 938.22 799.3 936.72 801.4 937.33 800.0 937.33 795.9 938.71 796.3 939.71 797.2 940.81 797.9 938.44 793.9 939.25 795.9 937.25 797.1 938.24 796.0 940.04 793.2 941.83 796.2 941.69 799.3 939.26 800.0 940.51 795.0 943.47 798.2 942.24 797.1 942.33 798.0 942.77 800.8 942.14 797.4 943.22 796.2 943.28 797.0 942.07 796.5 941.27 794.1 943.53 798.7 945.35 795.9 942.92 799.6 944.29 800.0 944.97 797.1 946.12 797.1 945.29 797.1 943.92 797.1 946.21 795.7 945.05 796.1 946.06 792.7 947.86 798.7 947.23 800.0 946.73 796.7 948.87 797.4 947.55 798.3 946.12 797.3 946.77 798.1 948.96 795.3 948.93 798.5 946.10 797.9 945.92 798.3 949.13 795.3 949.25 796.0 946.92 799.8 950.01 796.0 950.15 796.2 948.15 799.3 949.88 798.3 952.16 796.4 950.57 798.6 950.01 798.8 951.18 801.5 954.00 800.3 949.90 797.1 952.33 798.3 953.31 795.9 953.83 797.8 954.81 799.5 951.15 797.4 955.21 797.9 955.42 799.9 954.39 803.7 953.72 800.2 953.00 800.2 953.62 798.2 954.32 800.4 954.32 796.4 956.14 797.2 953.91 795.6 955.74 801.1 957.68 798.6 955.98 798.6 955.68 798.7 959.90 798.4 958.81 798.0 955.71 798.7 958.36 795.9 958.61 794.6 958.17 796.3 958.36 797.2 960.32 800.3 959.10 800.8 959.32 798.3 958.48 802.2 961.51 799.3 960.43 797.8 960.40 795.6 960.87 799.1 960.27 799.9 960.04 797.8 960.34 797.7 964.37 797.3 962.20 802.0 962.77 798.2 963.01 798.6 961.82 798.2 962.36 798.1 963.41 798.4 963.17 802.2 963.51 801.1 965.52 801.2 964.92 797.3 965.48 799.1 964.78 795.5 963.13 800.1 963.81 799.5 967.87 802.1 962.88 799.4 966.86 801.5 968.07 798.0 968.39 798.7 968.48 795.3 965.46 797.6 967.51 798.3 965.56 796.5 967.85 799.5 968.78 802.0 969.52 797.6 967.10 797.4 967.33 801.3 968.47 800.0 967.75 797.7 970.78 799.8 970.57 797.4 970.13 794.9 970.06 797.7 968.79 800.2 971.83 799.5 973.46 799.4 970.69 797.2 970.58 796.4 972.02 800.3 971.15 799.2 971.69 802.7 972.87 795.8 972.20 801.0 973.53 800.5 972.44 799.0 973.96 794.7 972.00 794.3 976.01 800.1 976.14 800.6 974.05 800.1 974.92 797.2 973.05 797.8 974.63 798.8 977.62 795.5 974.98 798.6 973.41 798.9 975.74 800.0 977.02 796.2 975.74 800.8 976.59 798.5 977.34 798.8 977.28 796.6 976.35 797.1 978.86 799.4 979.05 796.9 978.34 798.9 979.06 799.0 981.82 797.9 979.59 796.3 978.81 801.1 980.59 802.1 977.86 802.2 980.93 797.4 978.86 798.2 979.49 797.4 979.60 798.4 981.38 798.3 982.12 798.4 981.30 799.5 982.82 798.3 983.13 799.8 982.15 791.4 984.43 800.2 984.64 794.3 983.60 803.0 984.72 795.2 984.67 797.9 981.97 798.5 984.46 802.0 982.12 795.6 985.20 796.8 985.52 799.7 984.76 795.6 986.70 802.9 984.14 800.6 987.41 795.2 986.87 800.0 985.82 799.0 986.87 796.4 985.55 800.4 987.60 797.9 987.16 800.5 989.91 798.5 986.46 802.1 989.60 800.6 988.54 799.1 986.89 798.0 987.98 796.8 988.07 799.2 985.62 800.4 988.13 799.7 989.61 797.9 990.67 798.2 991.75 800.1 988.27 799.9 990.00 803.2 989.21 795.4 990.12 798.0 992.11 797.5 991.06 799.8 990.84 802.2 992.01 796.1 991.71 798.4 993.28 800.9 995.66 798.1 993.55 800.6 993.60 796.5 994.49 802.5 993.29 800.8 994.81 798.0 993.91 803.0 995.80 803.7 995.95 800.2 994.11 800.1 996.61 799.1 996.13 797.3 996.57 801.4 995.74 799.1 996.44 800.3 997.39 798.6 996.64 799.1 996.80 800.2 998.31 801.2 996.88 800.4 998.04 798.6 998.84 802.4 997.23 800.6 998.85 800.9 999.98 801.4 1000.42 801.1 998.10 798.1 998.75 799.1 998.52 797.2 999.86 801.6 999.09 796.6 1001.67 800.1 1000.60 798.9 1000.81 799.0 1003.32 798.7 999.59 801.3 1002.56 799.8 1003.41 798.8 1003.98 799.1 1003.49 798.8 1002.43 803.4 1005.26 798.9 1003.16 800.7 1005.43 799.6 1004.41 801.1 1005.68 800.0 1003.64 798.0 1004.01 800.4 1001.91 802.6 1005.74 802.4 1007.21 797.4 1005.18 802.2 1007.48 801.6 1007.41 799.8 1007.11 801.5 1006.49 798.4 1006.24 801.1 1007.77 797.3 1007.96 800.9 1006.80 801.7 1008.43 798.1 1007.71 797.6 1007.37 799.8 1008.25 796.6 1008.86 800.8 1008.44 800.2 1010.47 804.9 1009.47 799.6 1008.41 797.0 1007.54 800.6 1008.98 799.6 1010.63 802.1 1009.09 798.6 1009.63 799.8 1011.98 799.4 1013.27 799.7 1012.48 798.9 1016.02 801.7 1010.13 800.7 1011.28 798.6 1015.80 801.2 1012.06 801.5 1013.28 798.8 1015.18 798.3 1013.52 799.5 1013.39 801.1 1014.00 800.1 1014.95 799.8 1015.43 796.6 1014.40 799.0 1015.58 799.8 1018.11 801.1 1016.26 799.8 1015.29 798.4 1017.27 798.7 1014.96 800.8 1016.74 799.6 1017.39 793.6 1019.05 797.6 1018.80 798.0 1017.65 800.9 1018.51 800.1 1019.87 800.3 1020.15 799.7 1019.24 798.0 1018.86 797.7 1020.10 800.3 1017.52 800.7 1017.81 803.6 1017.94 798.9 1020.92 799.7 1021.71 799.7 1020.42 804.6 1022.07 800.9 1021.27 801.7 1024.10 799.6 1020.88 799.5 1022.01 801.8 1022.14 795.5 1023.59 798.9 1022.35 801.2 1023.17 800.0 1023.84 796.4 1023.51 799.4 1024.95 800.0 1027.71 798.9 1024.13 802.1 1022.22 799.0 1027.30 800.5 1025.18 797.5 1025.11 800.3 1025.23 802.1 1025.55 801.8 1024.38 797.0 1028.96 800.0 1028.99 798.8 1024.97 799.2 1027.28 798.6 1026.60 798.7 1027.41 800.4 1027.55 803.3 1028.44 800.0 1028.79 803.8 1029.16 798.7 1030.63 797.0 1028.58 799.1 1027.31 800.4 1030.66 798.5 1030.20 797.7 1031.08 803.3 1029.57 802.8 1030.20 802.2 1032.27 800.9 1030.23 800.4 1031.59 798.9 1033.04 799.5 1031.54 800.4 1031.29 798.1 1035.06 800.0 1032.41 800.4 1033.35 799.5 1033.04 799.8 1032.76 799.8 1034.58 802.6 1033.95 798.2 1033.25 797.8 1035.70 799.0 1033.27 801.6 1034.17 800.6 1034.97 797.0 1037.71 798.3 1036.96 802.6 1037.00 796.2 1037.27 800.8 1037.10 804.2 1036.38 796.8 1036.37 801.0 1035.08 797.6 1035.99 799.5 1037.51 798.9 1037.70 795.6 1039.25 799.1 1037.88 800.8 1036.78 799.8 1041.03 803.8 1038.87 797.2 1037.09 798.6 1042.07 796.4 1038.80 797.1 1041.29 802.1 1038.35 802.8 1040.20 802.3 1040.50 800.3 1041.08 800.4 1039.04 803.9 1042.92 803.2 1042.24 799.6 1041.67 802.5 1042.00 800.3 1041.31 803.8 1041.75 801.7 1043.03 800.3 1043.96 798.2 1043.38 799.8 1043.41 800.6 1045.68 800.4 1042.00 799.9 1041.62 798.4 1045.03 800.0 1045.07 800.2 1044.13 802.9 1046.05 800.7 1046.62 801.7 1047.31 798.9 1046.16 798.9 1047.92 798.4 1047.58 799.1 1046.99 801.6 1047.46 803.8 1045.73 799.5 1049.80 805.1 1048.93 800.9 1047.35 802.3 1050.29 797.2 1046.71 801.1 1050.82 801.6 1049.89 803.3 1049.24 799.6 1048.58 800.4 1051.07 800.3 1051.63 798.3 1050.13 803.4 1051.44 801.3 1053.34 805.4 1049.67 801.0 1052.86 802.4 1050.70 798.1 1053.17 799.5 1053.86 799.5 1052.50 804.9 1054.10 800.7 1056.23 798.1 1051.50 800.9 1056.12 798.2 1054.08 804.2 1053.64 800.0 1054.13 799.1 1055.58 799.9 1057.37 803.7 1055.82 800.0 1056.21 803.3 1055.15 800.6 1054.60 800.9 1057.47 802.9 1056.21 799.7 1053.70 802.0 1057.33 799.8 1056.64 797.6 1056.49 800.5 1056.69 799.9 1059.39 799.3 1057.13 800.7 1059.22 800.3 1058.07 802.9 1057.47 801.0 1061.02 798.5 1060.36 800.1 1061.65 800.7 1060.07 802.3 1061.17 802.1 1063.14 799.1 1060.18 803.9 1062.20 802.4 1061.50 801.3 1062.30 800.1 1060.52 796.5 1061.57 804.7 1059.90 803.6 1062.87 803.3 1063.23 799.2 1062.18 798.8 1065.19 800.2 1064.18 800.6 1064.10 798.3 1062.65 800.4 1064.22 803.5 1065.79 796.8 1063.73 802.0 1063.98 802.2 1064.99 800.1 1065.33 800.8 1066.46 800.5 1066.23 801.0 1064.81 803.2 1067.38 798.7 1066.90 806.8 1067.63 804.0 1065.75 801.9 1066.98 802.5 1067.66 801.5 1068.47 804.2 1068.38 804.4 1066.76 799.3 1070.41 802.6 1068.52 803.8 1069.01 800.3 1071.18 802.4 1069.21 801.9 1069.79 801.3 1070.98 801.0 1071.04 803.5 1069.05 799.5 1070.90 803.0 1072.98 803.3 1076.20 802.0 1070.75 799.8 1073.79 798.8 1073.36 799.3 1073.13 800.8 1074.27 802.4 1071.93 796.4 1073.06 803.9 1072.72 799.5 1074.62 802.4 1075.55 799.5 1074.12 799.9 1075.08 802.2 1076.18 799.0 1074.67 805.0 1074.61 799.6 1072.13 799.0 1074.56 802.8 1076.39 803.3 1075.54 799.1 1075.45 802.3 1078.83 798.0 1077.55 804.0 1078.55 800.4 1079.03 798.7 1078.32 802.8 1079.42 801.4 1077.02 802.1 1080.05 799.4 1078.50 803.8 1077.70 801.8 1076.51 798.9 1081.31 800.9 1078.04 798.9 1081.42 798.4 1079.24 803.7 1080.97 804.0 1082.42 804.3 1081.25 797.7 1080.10 800.3 1081.43 801.8 1081.67 797.2 1080.75 797.4 1082.00 804.2 1081.29 801.0 1082.55 800.5 1083.84 798.4 1084.81 805.1 1082.56 799.8 1083.70 798.9 1085.23 804.9 1085.98 800.7 1085.39 797.2 1086.77 802.3 1086.17 801.9 1083.80 799.1 1084.77 801.3 1088.49 803.7 1085.75 804.2 1086.61 803.0 1085.44 799.6 1086.31 803.2 1087.27 802.2 1086.53 797.9 1090.66 801.0 1087.35 799.5 1090.16 801.8 1087.15 799.2 1087.34 804.0 1086.71 799.9 1088.58 800.5 1089.31 799.9 1087.85 804.1 1088.44 799.9 1092.80 797.6 1090.78 799.5 1090.71 802.8 1090.61 802.4 1092.03 806.6 1090.02 801.6 1090.60 801.8 1090.76 800.6 1090.41 801.8 1091.52 801.7 1094.19 802.1 1092.76 797.7 1094.20 804.2 1092.06 801.2 1095.08 800.5 1094.39 800.0 1094.39 801.7 1093.27 802.9 1092.14 803.5 1095.12 802.0 1094.27 804.9 1094.37 797.6 1095.37 801.5 1094.84 803.0 1098.41 802.8 1096.34 801.8 1096.15 799.5 1097.32 800.5 1098.22 802.4 1096.19 800.2 1097.34 802.9 1097.59 799.5 1099.25 801.0 1098.18 798.4 1097.52 800.2 1099.42 802.7 1099.30 801.2 1099.53 799.5 1099.53 806.0 1098.06 800.5 1099.73 802.4 1099.74 804.3 1099.78 799.4 1100.66 801.0 1099.96 801.0 1100.82 802.9 1101.17 802.2 1102.89 800.3 1102.76 799.3 1102.32 799.0 1103.42 802.6 1103.91 803.5 1103.81 801.2 1103.75 800.9 1103.47 803.4 1102.27 799.7 1104.02 800.2 1106.10 805.6 1105.33 802.7 1104.86 801.5 1104.14 796.9 1104.89 802.6 1104.51 799.9 1106.34 803.2 1105.96 802.9 1109.02 801.5 1105.42 802.8 1105.82 804.5 1108.66 804.1 1107.63 801.3 1108.81 802.4 1107.82 801.0 1108.28 801.6 1107.68 799.4 1105.32 804.3 1108.86 801.7 1105.87 802.8 1110.58 799.6 1110.27 797.6 1110.90 799.8 1112.26 802.4 1113.28 802.7 1110.87 805.0 1110.87 802.2 1111.19 801.6 1112.71 803.7 1108.94 802.2 1111.26 803.1 1111.87 804.7 1111.85 798.5 1114.04 803.9 1113.37 797.5 1113.76 800.9 1114.45 800.6 1113.62 801.8 1113.54 804.9 1115.25 801.3 1113.09 801.9 1114.54 802.7 1112.80 799.7 1114.25 798.7 1115.86 802.7 1116.88 802.7 1114.29 802.4 1116.60 801.5 1115.19 799.8 1116.43 803.5 1116.34 800.6 1118.79 804.4 1116.12 800.3 1117.25 801.2 1116.66 800.9 1118.79 805.4 1118.54 801.9 1116.43 804.4 1118.74 801.0 1117.49 805.8 1120.71 802.9 1120.20 804.2 1119.11 803.3 1119.49 800.2 1118.55 804.9 1119.84 803.1 1122.08 806.0 1119.39 799.0 1120.78 800.0 1122.20 804.0 1123.61 803.4 1123.03 797.7 1122.48 800.8 1124.05 800.4 1122.38 802.7 1125.38 804.1 1124.53 803.5 1124.45 801.5 1124.87 802.1 1124.42 802.0 1124.54 799.7 1122.69 803.3 1124.46 802.0 1123.94 797.2 1123.23 801.9 1125.77 803.3 1124.87 805.2 1125.46 802.3 1128.06 803.3 1127.50 801.5 1126.79 803.0 1127.07 803.1 1126.87 802.4 1127.69 801.1 1128.41 801.1 1127.09 805.9 1128.68 804.4 1127.82 804.9 1128.32 802.6 1129.62 803.3 1128.66 798.3 1129.97 801.4 1130.48 803.2 1132.50 801.3 1130.55 802.5 1129.88 799.1 1130.65 800.5 1130.81 804.4 1132.58 797.3 1132.82 802.9 1130.52 802.7 1130.33 803.0 1130.49 805.1 1134.99 804.9 1133.49 801.8 1132.70 802.2 1134.07 800.9 1133.59 800.4 1132.56 799.1 1131.49 800.4 1133.38 804.5 1135.65 804.5 1135.75 803.6 1134.97 802.8 1134.19 801.1 1138.32 801.7 1136.06 799.1 1136.78 802.7 1136.25 802.1 1138.26 802.3 1139.20 800.8 1136.39 800.8 1139.28 800.8 1137.89 804.1 1137.66 803.3 1137.44 801.4 1139.57 804.1 1138.76 804.1 1138.39 804.8 1137.47 800.0 1140.57 803.6 1139.16 802.6 1139.59 801.6 1141.01 799.7 1140.39 801.5 1140.56 800.8 1141.87 803.9 1140.96 806.4 1141.64 798.8 1142.83 801.4 1142.69 802.8 1142.62 799.1 1142.95 800.9 1144.41 803.4 1143.96 798.5 1142.42 804.5 1144.47 803.5 1143.43 801.6 1142.67 801.7 1142.81 801.3 1141.86 800.2 1144.18 802.0 1142.99 803.3 1146.41 803.3 1145.08 802.5 1144.98 799.1 1145.36 800.3 1145.47 804.1 1146.32 802.6 1145.82 802.9 1146.95 805.4 1147.02 799.5 1147.44 803.7 1145.44 803.8 1146.99 799.7 1149.23 797.9 1150.11 799.4 1149.11 801.6 1147.76 798.0 1148.36 798.4 1152.08 801.2 1147.43 799.9 1150.22 802.3 1151.68 799.9 1148.52 801.1 1149.62 802.1 1151.25 800.0 1149.27 801.6 1150.39 802.2 1151.88 802.7 1150.79 801.0 1153.13 799.8 1151.80 800.4 1151.98 802.3 1150.76 799.8 1153.08 801.6 1154.29 801.3 1153.91 802.3 1152.30 803.1 1154.22 803.5 1153.35 800.0 1154.66 801.5 1155.33 802.4 1154.49 801.1 1156.06 802.0 1155.27 797.7 1155.83 805.3 1156.49 801.6 1156.08 804.4 1157.52 801.4 1155.76 803.2 1158.34 803.0 1156.24 804.3 1156.66 800.0 1157.60 802.7 1159.62 799.0 1159.29 800.0 1157.30 799.3 1157.18 801.8 1157.55 805.1 1159.47 799.1 1158.60 804.4 1161.26 802.1 1160.93 800.8 1160.05 800.2 1160.94 803.7 1160.32 802.5 1160.67 803.5 1159.51 801.2 1160.73 797.9 1161.27 798.0 1165.24 802.6 1161.60 799.9 1161.89 802.2 1165.40 800.7 1162.43 800.7 1165.60 797.3 1165.02 804.1 1161.81 797.5 1163.63 800.4 1161.12 802.9 1164.75 797.0 1164.30 802.1 1163.89 803.7 1164.09 805.6 1168.16 801.0 1167.71 802.8 1167.07 800.0 1166.59 804.2 1166.65 801.8 1166.50 799.3 1167.34 801.0 1168.44 802.8 1168.41 801.6 1167.74 805.0 1167.12 801.3 1166.23 800.8 1169.69 803.9 1169.12 801.4 1169.35 799.9 1170.20 804.8 1172.55 801.0 1168.63 803.4 1170.04 801.9 1170.29 809.6 1172.74 801.5 1170.37 802.2 1171.45 802.1 1169.93 800.7 1172.30 805.4 1171.10 801.9 1172.13 801.6 1173.00 803.5 1172.42 798.0 1172.50 801.8 1174.30 802.6 1172.09 805.0 1173.56 802.7 1172.52 800.2 1176.24 802.3 1173.77 803.2 1173.38 801.2 1175.18 798.6 1175.96 801.1 1174.97 801.5 1176.78 803.0 1177.25 799.8 1174.96 798.6 1174.86 801.0 1175.79 800.0 1176.24 803.9 1175.53 805.9 1177.00 799.7 1176.26 804.4 1176.87 799.4 1180.10 797.4 1178.64 800.7 1179.76 802.6 1177.17 802.5 1176.97 802.4 1179.13 801.8 1179.16 801.5 1178.42 801.8 1180.27 799.3 1179.56 802.9 1180.36 804.9 1183.42 802.8 1180.70 802.5 1181.62 804.1 1179.26 803.1 1182.66 803.4 1180.82 800.3 1181.88 801.0 1181.42 799.6 1181.16 800.9 1181.52 799.2 1184.48 802.1 1185.43 801.1 1185.71 801.1 1182.88 804.5 1182.83 802.8 1185.45 802.6 1183.97 801.6 1186.15 802.7 1185.70 802.1 1185.92 806.9 1184.98 802.6 1185.53 800.5 1187.54 799.6 1185.35 804.0 1186.45 802.7 1186.05 804.9 1185.86 802.1 1189.34 801.7 1186.76 799.6 1188.02 801.5 1188.93 802.7 1189.32 799.5 1188.83 802.7 1190.31 801.0 1190.05 799.7 1189.29 803.2 1190.91 799.8 1191.54 801.7 1191.49 803.3 1190.59 804.6 1191.44 804.7 1192.56 801.4 1190.86 803.9 1191.49 801.1 1190.19 802.2 1192.77 804.8 1192.20 802.6 1191.37 799.9 1194.80 800.7 1190.39 799.0 1192.08 800.1 1191.90 806.4 1194.31 802.8 1192.68 801.8 1192.95 801.4 1194.38 804.9 1195.75 803.4 1196.11 802.6 1195.26 800.5 1196.05 801.9 1195.29 804.3 1196.79 801.9 1197.14 800.6 1197.91 803.4 1195.66 803.1 1197.36 800.8 1195.81 801.3 1196.97 803.9 1199.07 804.7 1196.23 800.0 1198.86 803.3 1199.09 799.6 1197.79 804.2 1199.00 803.6 1198.81 802.1 1197.35 801.3 1200.77 800.3 1198.68 799.5 1200.88 802.6 1201.16 801.5 1200.67 802.6 1200.22 804.4 1200.08 801.4 1200.79 802.2 1201.05 799.4 1202.49 805.2 1202.32 803.1 1200.26 802.5 1202.67 803.2 1203.49 799.0 1203.40 801.0 1202.54 801.7 1203.13 802.9 1206.13 800.7 1205.07 802.6 1205.34 802.4 1207.24 799.9 1203.79 802.8 1206.03 801.6 1206.14 801.8 1206.58 802.1 1204.12 800.3 1205.22 802.9 1206.30 803.0 1207.54 800.4 1208.22 801.0 1209.01 800.3 1207.98 806.7 1209.79 802.6 1207.91 800.6 1208.79 799.3 1209.01 801.6 1206.96 802.9 1208.22 800.3 1209.75 802.3 1208.33 800.6 1209.35 799.5 1210.26 802.8 1210.20 797.5 1211.29 804.4 1211.82 799.1 1211.01 801.8 1211.23 802.8 1213.52 802.9 1212.78 802.3 1212.98 800.2 1211.64 804.8 1213.48 798.3 1213.37 803.6 1210.82 802.4 1212.74 804.9 1215.27 803.0 1215.35 804.4 1216.63 798.7 1215.41 805.1 1213.40 804.3 1214.70 800.1 1215.71 800.8 1215.92 805.0 1215.24 801.8 1215.24 802.4 1215.61 802.6 1218.02 804.9 1216.42 799.9 1219.87 803.6 1217.41 800.4 1217.70 800.7 1215.70 799.9 1216.14 799.2 1217.98 804.4 1216.72 805.1 1218.61 802.8 1219.04 806.8 1220.37 799.5 1220.93 799.5 1219.29 803.4 1217.95 804.5 1219.56 799.0 1222.31 800.9 1220.39 802.0 1219.66 800.3 1219.99 802.1 1222.49 797.2 1222.63 799.5 1221.62 803.7 1225.14 803.1 1223.60 804.6 1222.47 804.0 1224.15 798.7 1222.51 802.1 1223.76 803.0 1222.27 799.8 1225.31 801.9 1224.69 800.5 1224.54 798.4 1222.89 803.7 1225.50 802.4 1225.14 804.2 1225.05 805.5 1224.97 802.9 1223.93 803.6 1226.45 803.6 1224.37 799.4 1226.31 805.7 1226.62 800.7 1225.82 800.9 1229.88 798.8 1224.94 804.0 1228.62 802.1 1227.66 805.4 1226.59 801.4 1228.23 801.4 1226.69 799.2 1230.07 804.5 1230.11 802.2 1230.67 803.5 1229.48 799.2 1228.46 799.3 1231.48 803.0 1232.50 800.8 1231.55 801.3 1231.45 799.9 1229.77 802.0 1231.27 801.3 1229.85 802.4 1231.23 799.9 1231.81 806.7 1233.49 801.6 1233.21 804.9 1235.33 804.2 1233.56 800.6 1234.17 803.6 1234.44 798.7 1234.32 797.9 1234.19 800.3 1235.84 802.1 1234.49 805.1 1234.35 801.6 1234.73 804.3 1238.04 803.6 1236.69 800.1 1236.41 803.8 1236.13 804.7 1238.35 804.5 1233.32 801.1 1236.67 802.2 1237.34 802.1 1236.50 799.7 1236.65 798.3 1236.33 800.9 1239.29 803.5 1239.01 799.4 1240.11 803.7 1238.00 800.0 1238.32 803.7 1237.98 800.4 1240.93 803.0 1238.98 800.6 1241.54 802.6 1241.49 802.3 1240.58 801.3 1241.90 801.3 1241.65 802.5 1241.72 803.4 1242.83 801.7 1242.84 803.2 1242.30 802.3 1243.29 804.7 1244.09 798.4 1241.31 801.0 1243.43 801.5 1242.87 800.7 1244.40 800.3 1243.27 800.8 1242.91 802.2 1243.90 802.1 1246.07 801.9 1244.89 802.8 1244.27 801.6 1242.88 800.5 1245.57 803.9 1246.07 805.9 1247.07 804.2 1248.52 801.0 1247.57 801.5 1246.84 806.4 1247.06 799.1 1245.36 804.6 1247.02 803.0 1248.86 801.0 1250.56 800.0 1249.31 804.9 1247.83 803.6 1249.18 803.1 1247.78 801.8 1249.04 801.1 1249.58 802.5 1249.32 801.3 1250.88 802.1 1248.77 801.0 1250.39 801.3 1251.58 804.7 1249.63 801.9 1254.67 798.7 1251.21 799.1 1251.74 802.2 1251.78 801.8 1250.94 798.5 1253.38 803.7 1251.77 807.7 1254.47 801.8 1253.38 799.9 1252.34 805.3 1255.32 804.3 1256.86 800.3 1254.52 800.7 1254.05 802.5 1256.26 801.7 1256.46 803.7 1254.35 801.5 1255.42 803.3 1258.32 805.3 1256.11 803.7 1258.78 804.2 1256.96 802.8 1255.76 805.6 1258.99 804.8 1257.84 800.0 1259.96 805.1 1257.29 801.0 1258.42 805.5 1259.43 801.1 1259.86 802.2 1259.82 802.0 1259.17 802.2 1259.75 801.6 1258.43 798.2 1258.52 802.5 1259.65 806.4 1259.63 804.3 1257.49 801.5 1261.47 804.6 1260.87 806.9 1259.62 800.9 1262.84 800.5 1261.96 804.2 1261.77 802.2 1263.89 803.6 1263.26 801.1 1265.44 804.4 1263.51 800.4 1263.98 801.4 1265.30 802.2 1262.96 802.5 1264.23 801.3 1263.02 802.2 1266.87 801.5 1266.33 803.7 1262.69 801.2 1265.45 803.2 1265.67 805.8 1267.32 804.3 1265.43 803.9 1268.34 801.5 1265.98 799.5 1268.30 801.9 1266.46 801.2 1267.26 802.0 1266.40 804.0 1267.98 800.2 1265.97 800.6 1267.46 802.0 1270.00 803.8 1270.40 802.0 1270.05 798.3 1269.64 801.7 1266.87 804.1 1272.34 801.6 1269.45 805.5 1271.40 803.0 1271.04 803.1 1270.73 801.3 1269.58 807.4 1272.99 801.2 1270.83 802.3 1270.71 803.0 1271.83 800.9 1272.66 804.1 1272.88 804.0 1273.00 802.6"/></g>
<rect x="148.5" y="21" width="1125.5" height="837.5" fill="none" stroke="#000" stroke-width="2.4"/>
<g stroke="#000" stroke-width="2.4"><line x1="172.80" y1="858.5" x2="172.80" y2="867.5"/><line x1="237.60" y1="858.5" x2="237.60" y2="875.5"/><line x1="302.40" y1="858.5" x2="302.40" y2="867.5"/><line x1="367.20" y1="858.5" x2="367.20" y2="875.5"/><line x1="432.00" y1="858.5" x2="432.00" y2="867.5"/><line x1="496.80" y1="858.5" x2="496.80" y2="875.5"/><line x1="561.60" y1="858.5" x2="561.60" y2="867.5"/><line x1="626.40" y1="858.5" x2="626.40" y2="875.5"/><line x1="691.20" y1="858.5" x2="691.20" y2="867.5"/><line x1="756.00" y1="858.5" x2="756.00" y2="875.5"/><line x1="820.80" y1="858.5" x2="820.80" y2="867.5"/><line x1="885.60" y1="858.5" x2="885.60" y2="875.5"/><line x1="950.40" y1="858.5" x2="950.40" y2="867.5"/><line x1="1015.20" y1="858.5" x2="1015.20" y2="875.5"/><line x1="1080.00" y1="858.5" x2="1080.00" y2="867.5"/><line x1="1144.80" y1="858.5" x2="1144.80" y2="875.5"/><line x1="1209.60" y1="858.5" x2="1209.60" y2="867.5"/><line x1="1274.40" y1="858.5" x2="1274.40" y2="875.5"/></g>
<g font-size="41" transform="translate(0,919.5) scale(1,1.055)"><text x="367.20" y="0" text-anchor="middle">20</text><text x="496.80" y="0" text-anchor="middle">30</text><text x="626.40" y="0" text-anchor="middle">40</text><text x="756.00" y="0" text-anchor="middle">50</text><text x="885.60" y="0" text-anchor="middle">60</text><text x="1015.20" y="0" text-anchor="middle">70</text><text x="1144.80" y="0" text-anchor="middle">80</text><text x="1274.40" y="0" text-anchor="middle">90</text><text x="237.60" y="0" text-anchor="start">0</text></g>
<path d="M231.2 919.5 H225.6 V897.2 Q221.8 900.6 217.2 902.9 V897.9 Q220.2 896.6 222.6 894.4 Q225 892.2 226.4 889.8 H231.2 Z" fill="#000"/>
<text x="711.3" y="997.5" font-size="46" text-anchor="middle">2 theta (degree)</text>
<g transform="translate(64.6,421.9) rotate(-90) scale(1.03,1)"><text x="0" y="0" font-size="46" text-anchor="middle">Intensity (a.u.)</text></g>
<g font-size="42">
<g transform="translate(1073.4,380.8) scale(1,1.024)"><text>PI-II<tspan font-size="29" dx="1">b</tspan></text></g>
<g transform="translate(1079.2,522.2) scale(1,1.02)"><text>PI-II<tspan font-size="29" dx="-1.5">a</tspan></text></g>
<g transform="translate(1081.9,612.4) scale(1,1.024)"><text>PI-I<tspan font-size="29" dx="1">b</tspan></text></g>
<g transform="translate(1079.2,772.8) scale(1,1.11)"><text>PI-I<tspan font-size="29" dx="-1.5">a</tspan></text></g>
</g>
</svg>
</body></html>
